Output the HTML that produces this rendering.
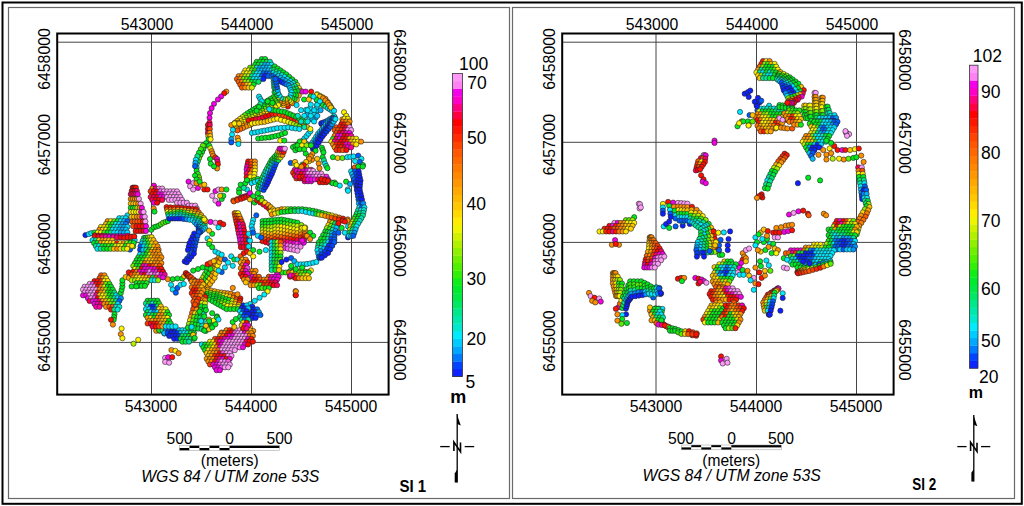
<!DOCTYPE html><html><head><meta charset="utf-8"><style>html,body{margin:0;padding:0;background:#fff;overflow:hidden}svg{display:block;font-family:"Liberation Sans",sans-serif}</style></head><body><svg width="1024" height="506" viewBox="0 0 1024 506"  fill="#000">
<rect width="1024" height="506" fill="#fff"/>
<rect x="2.5" y="2.5" width="1019.3" height="501.3" fill="none" stroke="#000" stroke-width="2"/>
<rect x="8.5" y="7.5" width="501" height="491" fill="none" stroke="#6a6a6a" stroke-width="1.2"/>
<line x1="151.5" y1="34" x2="151.5" y2="395" stroke="#444" stroke-width="1"/>
<line x1="251.5" y1="34" x2="251.5" y2="395" stroke="#444" stroke-width="1"/>
<line x1="351.5" y1="34" x2="351.5" y2="395" stroke="#444" stroke-width="1"/>
<line x1="57.2" y1="42.2" x2="388.6" y2="42.2" stroke="#444" stroke-width="1"/>
<line x1="57.2" y1="142.3" x2="388.6" y2="142.3" stroke="#444" stroke-width="1"/>
<line x1="57.2" y1="242.4" x2="388.6" y2="242.4" stroke="#444" stroke-width="1"/>
<line x1="57.2" y1="342.4" x2="388.6" y2="342.4" stroke="#444" stroke-width="1"/>
<rect x="512.5" y="7.5" width="502" height="491" fill="none" stroke="#6a6a6a" stroke-width="1.2"/>
<line x1="656" y1="34" x2="656" y2="395" stroke="#444" stroke-width="1"/>
<line x1="756.5" y1="34" x2="756.5" y2="395" stroke="#444" stroke-width="1"/>
<line x1="856.5" y1="34" x2="856.5" y2="395" stroke="#444" stroke-width="1"/>
<line x1="562.2" y1="42.2" x2="893.6" y2="42.2" stroke="#444" stroke-width="1"/>
<line x1="562.2" y1="142.3" x2="893.6" y2="142.3" stroke="#444" stroke-width="1"/>
<line x1="562.2" y1="242.4" x2="893.6" y2="242.4" stroke="#444" stroke-width="1"/>
<line x1="562.2" y1="342.4" x2="893.6" y2="342.4" stroke="#444" stroke-width="1"/>
<g clip-path="url(#c1)" stroke="#222" stroke-width="0.6"><circle cx="226.3" cy="91.6" r="2.6" fill="#ff9000"/><circle cx="224.2" cy="93.2" r="2.6" fill="#ff1000"/><circle cx="221.1" cy="96.4" r="2.6" fill="#f600e8"/><circle cx="217.9" cy="99.5" r="2.6" fill="#f600e8"/><circle cx="214.0" cy="103.8" r="2.6" fill="#f600e8"/><circle cx="211.6" cy="108.2" r="2.6" fill="#f600e8"/><circle cx="210.0" cy="113.0" r="2.6" fill="#f600e8"/><circle cx="209.5" cy="117.7" r="2.6" fill="#f600e8"/><circle cx="209.5" cy="122.5" r="2.6" fill="#ff0053"/><circle cx="261.8" cy="59.0" r="2.6" fill="#00ec20"/><circle cx="265.1" cy="59.0" r="2.6" fill="#00ec20"/><circle cx="256.8" cy="61.8" r="2.6" fill="#00ec20"/><circle cx="260.1" cy="61.8" r="2.6" fill="#00ec21"/><circle cx="263.4" cy="61.8" r="2.6" fill="#00ec25"/><circle cx="266.7" cy="61.8" r="2.6" fill="#00ea3d"/><circle cx="270.0" cy="61.8" r="2.6" fill="#00e8a8"/><circle cx="255.2" cy="64.7" r="2.6" fill="#01ec1f"/><circle cx="258.5" cy="64.7" r="2.6" fill="#00ec22"/><circle cx="261.8" cy="64.7" r="2.6" fill="#00e88c"/><circle cx="265.1" cy="64.7" r="2.6" fill="#00afff"/><circle cx="268.4" cy="64.7" r="2.6" fill="#00bcff"/><circle cx="271.7" cy="64.7" r="2.6" fill="#00e9ff"/><circle cx="250.2" cy="67.6" r="2.6" fill="#5cf000"/><circle cx="253.5" cy="67.6" r="2.6" fill="#59f000"/><circle cx="256.8" cy="67.6" r="2.6" fill="#00e8c9"/><circle cx="260.1" cy="67.6" r="2.6" fill="#00aeff"/><circle cx="263.4" cy="67.6" r="2.6" fill="#00bdff"/><circle cx="266.7" cy="67.6" r="2.6" fill="#00afff"/><circle cx="270.0" cy="67.6" r="2.6" fill="#00e0ff"/><circle cx="273.3" cy="67.6" r="2.6" fill="#00e86a"/><circle cx="245.3" cy="70.4" r="2.6" fill="#fef500"/><circle cx="248.6" cy="70.4" r="2.6" fill="#f1f400"/><circle cx="251.9" cy="70.4" r="2.6" fill="#5af000"/><circle cx="255.2" cy="70.4" r="2.6" fill="#2eef09"/><circle cx="258.5" cy="70.4" r="2.6" fill="#00b4ff"/><circle cx="261.8" cy="70.4" r="2.6" fill="#00b1ff"/><circle cx="265.1" cy="70.4" r="2.6" fill="#00b7ff"/><circle cx="268.4" cy="70.4" r="2.6" fill="#00beff"/><circle cx="271.7" cy="70.4" r="2.6" fill="#00eae2"/><circle cx="275.0" cy="70.4" r="2.6" fill="#00eb2e"/><circle cx="243.6" cy="73.3" r="2.6" fill="#ffdd00"/><circle cx="246.9" cy="73.3" r="2.6" fill="#fff500"/><circle cx="250.2" cy="73.3" r="2.6" fill="#e3f300"/><circle cx="253.5" cy="73.3" r="2.6" fill="#00e948"/><circle cx="256.8" cy="73.3" r="2.6" fill="#00ebff"/><circle cx="260.1" cy="73.3" r="2.6" fill="#00e4ff"/><circle cx="263.4" cy="73.3" r="2.6" fill="#0069ff"/><circle cx="266.7" cy="73.3" r="2.6" fill="#0054ff"/><circle cx="270.0" cy="73.3" r="2.6" fill="#007fff"/><circle cx="273.3" cy="73.3" r="2.6" fill="#00aeff"/><circle cx="276.6" cy="73.3" r="2.6" fill="#00c7ff"/><circle cx="238.7" cy="76.1" r="2.6" fill="#ff9000"/><circle cx="242.0" cy="76.1" r="2.6" fill="#ff9100"/><circle cx="245.3" cy="76.1" r="2.6" fill="#96f000"/><circle cx="248.6" cy="76.1" r="2.6" fill="#b5f000"/><circle cx="251.9" cy="76.1" r="2.6" fill="#00e8a6"/><circle cx="255.2" cy="76.1" r="2.6" fill="#00eaff"/><circle cx="258.5" cy="76.1" r="2.6" fill="#00e9ff"/><circle cx="261.8" cy="76.1" r="2.6" fill="#005aff"/><circle cx="265.1" cy="76.1" r="2.6" fill="#0f21ff"/><circle cx="268.4" cy="76.1" r="2.6" fill="#005dff"/><circle cx="271.7" cy="76.1" r="2.6" fill="#0077ff"/><circle cx="275.0" cy="76.1" r="2.6" fill="#00aeff"/><circle cx="237.0" cy="79.0" r="2.6" fill="#ff5900"/><circle cx="240.3" cy="79.0" r="2.6" fill="#ff9300"/><circle cx="243.6" cy="79.0" r="2.6" fill="#6ef000"/><circle cx="246.9" cy="79.0" r="2.6" fill="#5af000"/><circle cx="250.2" cy="79.0" r="2.6" fill="#00ec20"/><circle cx="253.5" cy="79.0" r="2.6" fill="#00eaff"/><circle cx="256.8" cy="79.0" r="2.6" fill="#00eaff"/><circle cx="260.1" cy="79.0" r="2.6" fill="#00c5ff"/><circle cx="263.4" cy="79.0" r="2.6" fill="#0f22ff"/><circle cx="238.7" cy="81.8" r="2.6" fill="#ff6100"/><circle cx="242.0" cy="81.8" r="2.6" fill="#ff8900"/><circle cx="245.3" cy="81.8" r="2.6" fill="#93f000"/><circle cx="248.6" cy="81.8" r="2.6" fill="#91f000"/><circle cx="251.9" cy="81.8" r="2.6" fill="#00ec24"/><circle cx="255.2" cy="81.8" r="2.6" fill="#00e850"/><circle cx="258.5" cy="81.8" r="2.6" fill="#00e862"/><circle cx="240.3" cy="84.7" r="2.6" fill="#ff5700"/><circle cx="243.6" cy="84.7" r="2.6" fill="#ff5700"/><circle cx="246.9" cy="84.7" r="2.6" fill="#ffc000"/><circle cx="250.2" cy="84.7" r="2.6" fill="#f9f500"/><circle cx="253.5" cy="84.7" r="2.6" fill="#00ec20"/><circle cx="242.0" cy="87.6" r="2.6" fill="#ff5700"/><circle cx="245.3" cy="87.6" r="2.6" fill="#ff9400"/><circle cx="248.6" cy="87.6" r="2.6" fill="#ffc300"/><circle cx="251.9" cy="87.6" r="2.6" fill="#c3f000"/><circle cx="274.7" cy="66.5" r="2.6" fill="#00ec20"/><circle cx="274.3" cy="69.6" r="2.6" fill="#00e86b"/><circle cx="273.8" cy="72.6" r="2.6" fill="#00eae6"/><circle cx="273.4" cy="75.6" r="2.6" fill="#005dff"/><circle cx="277.6" cy="68.5" r="2.6" fill="#00ec20"/><circle cx="276.9" cy="71.4" r="2.6" fill="#00e892"/><circle cx="276.2" cy="74.3" r="2.6" fill="#00e9ff"/><circle cx="275.5" cy="77.2" r="2.6" fill="#0046ff"/><circle cx="280.4" cy="70.4" r="2.6" fill="#00ec20"/><circle cx="279.5" cy="73.2" r="2.6" fill="#00e8af"/><circle cx="278.5" cy="76.0" r="2.6" fill="#00d6ff"/><circle cx="277.5" cy="78.9" r="2.6" fill="#053aff"/><circle cx="283.3" cy="72.4" r="2.6" fill="#00ec20"/><circle cx="282.1" cy="75.1" r="2.6" fill="#00e9d4"/><circle cx="280.8" cy="77.8" r="2.6" fill="#00c4ff"/><circle cx="279.6" cy="80.5" r="2.6" fill="#0a2dff"/><circle cx="286.2" cy="74.3" r="2.6" fill="#00ec20"/><circle cx="284.7" cy="76.9" r="2.6" fill="#00e9ff"/><circle cx="283.2" cy="79.5" r="2.6" fill="#00adff"/><circle cx="281.7" cy="82.1" r="2.6" fill="#0f20ff"/><circle cx="289.2" cy="76.8" r="2.6" fill="#00ec20"/><circle cx="287.5" cy="79.0" r="2.6" fill="#00e9ff"/><circle cx="285.9" cy="81.1" r="2.6" fill="#00c4ff"/><circle cx="284.2" cy="83.3" r="2.6" fill="#0242ff"/><circle cx="292.3" cy="79.4" r="2.6" fill="#00ec20"/><circle cx="290.4" cy="81.0" r="2.6" fill="#00e9ff"/><circle cx="288.5" cy="82.7" r="2.6" fill="#00d6ff"/><circle cx="286.6" cy="84.4" r="2.6" fill="#007cff"/><circle cx="295.3" cy="81.9" r="2.6" fill="#00ec20"/><circle cx="293.3" cy="83.1" r="2.6" fill="#00e9ff"/><circle cx="291.2" cy="84.4" r="2.6" fill="#00e9ff"/><circle cx="289.1" cy="85.6" r="2.6" fill="#00adff"/><circle cx="297.1" cy="84.9" r="2.6" fill="#95f000"/><circle cx="294.7" cy="85.9" r="2.6" fill="#00e8a8"/><circle cx="292.4" cy="86.9" r="2.6" fill="#00e8a8"/><circle cx="290.0" cy="87.8" r="2.6" fill="#00c4ff"/><circle cx="298.9" cy="88.0" r="2.6" fill="#ffdc00"/><circle cx="296.2" cy="88.7" r="2.6" fill="#00e858"/><circle cx="293.5" cy="89.4" r="2.6" fill="#00e858"/><circle cx="290.8" cy="90.1" r="2.6" fill="#00d6ff"/><circle cx="300.7" cy="91.0" r="2.6" fill="#ff9000"/><circle cx="297.7" cy="91.4" r="2.6" fill="#00ec20"/><circle cx="294.7" cy="91.9" r="2.6" fill="#00ec20"/><circle cx="291.6" cy="92.3" r="2.6" fill="#00e9ff"/><circle cx="298.8" cy="95.5" r="2.6" fill="#ffaa00"/><circle cx="296.1" cy="95.3" r="2.6" fill="#00ec20"/><circle cx="293.5" cy="95.1" r="2.6" fill="#00ec20"/><circle cx="290.8" cy="94.9" r="2.6" fill="#00e9ff"/><circle cx="296.8" cy="100.0" r="2.6" fill="#ffc300"/><circle cx="294.6" cy="99.2" r="2.6" fill="#00ec20"/><circle cx="292.3" cy="98.3" r="2.6" fill="#00ec20"/><circle cx="290.0" cy="97.5" r="2.6" fill="#00e9ff"/><circle cx="292.4" cy="103.3" r="2.6" fill="#ff7300"/><circle cx="290.8" cy="101.7" r="2.6" fill="#ffe600"/><circle cx="289.3" cy="100.2" r="2.6" fill="#dff200"/><circle cx="287.7" cy="98.6" r="2.6" fill="#43f000"/><circle cx="287.9" cy="106.5" r="2.6" fill="#ff1000"/><circle cx="287.1" cy="104.2" r="2.6" fill="#ff5600"/><circle cx="286.3" cy="102.0" r="2.6" fill="#ff9000"/><circle cx="285.5" cy="99.7" r="2.6" fill="#ffc300"/><circle cx="283.5" cy="105.3" r="2.6" fill="#ffca00"/><circle cx="283.4" cy="103.2" r="2.6" fill="#ff8d00"/><circle cx="283.3" cy="101.0" r="2.6" fill="#ff9000"/><circle cx="283.2" cy="98.9" r="2.6" fill="#43f000"/><circle cx="279.1" cy="104.1" r="2.6" fill="#00ec20"/><circle cx="279.7" cy="102.1" r="2.6" fill="#ffc300"/><circle cx="280.3" cy="100.1" r="2.6" fill="#ff9000"/><circle cx="280.9" cy="98.1" r="2.6" fill="#00e9ff"/><circle cx="276.9" cy="100.3" r="2.6" fill="#00ec20"/><circle cx="277.8" cy="98.7" r="2.6" fill="#adf000"/><circle cx="278.6" cy="97.2" r="2.6" fill="#bdf000"/><circle cx="279.5" cy="95.6" r="2.6" fill="#00e9ff"/><circle cx="274.8" cy="96.5" r="2.6" fill="#00ec20"/><circle cx="276.4" cy="94.8" r="2.6" fill="#00ec20"/><circle cx="278.1" cy="93.1" r="2.6" fill="#00e9ff"/><circle cx="274.5" cy="92.0" r="2.6" fill="#00ec20"/><circle cx="276.0" cy="91.0" r="2.6" fill="#00e884"/><circle cx="277.6" cy="90.1" r="2.6" fill="#00b2ff"/><circle cx="274.2" cy="87.5" r="2.6" fill="#00ec20"/><circle cx="275.6" cy="87.3" r="2.6" fill="#00e9ff"/><circle cx="277.0" cy="87.1" r="2.6" fill="#005dff"/><circle cx="274.0" cy="84.7" r="2.6" fill="#00e858"/><circle cx="275.2" cy="84.5" r="2.6" fill="#00d7ff"/><circle cx="276.5" cy="84.4" r="2.6" fill="#005dff"/><circle cx="273.7" cy="81.8" r="2.6" fill="#00e8a8"/><circle cx="274.8" cy="81.8" r="2.6" fill="#00c6ff"/><circle cx="276.0" cy="81.7" r="2.6" fill="#005dff"/><circle cx="273.5" cy="79.0" r="2.6" fill="#00e9ff"/><circle cx="274.4" cy="79.0" r="2.6" fill="#00b2ff"/><circle cx="275.4" cy="79.0" r="2.6" fill="#005dff"/><circle cx="302.5" cy="91.6" r="2.6" fill="#f600e8"/><circle cx="305.7" cy="91.6" r="2.6" fill="#f600e8"/><circle cx="311.2" cy="91.6" r="2.6" fill="#ff1000"/><circle cx="310.4" cy="96.4" r="2.6" fill="#00ec20"/><circle cx="304.1" cy="99.5" r="2.6" fill="#00ec20"/><circle cx="308.8" cy="99.5" r="2.6" fill="#ffc300"/><circle cx="317.1" cy="94.2" r="2.6" fill="#fff500"/><circle cx="317.1" cy="96.8" r="2.6" fill="#00ec20"/><circle cx="317.1" cy="99.3" r="2.6" fill="#00e9ff"/><circle cx="319.9" cy="95.8" r="2.6" fill="#ffd000"/><circle cx="319.5" cy="98.5" r="2.6" fill="#1eee11"/><circle cx="319.1" cy="101.2" r="2.6" fill="#00e8a8"/><circle cx="322.7" cy="97.3" r="2.6" fill="#ffb000"/><circle cx="321.9" cy="100.2" r="2.6" fill="#3cf002"/><circle cx="321.1" cy="103.1" r="2.6" fill="#00e858"/><circle cx="325.5" cy="98.9" r="2.6" fill="#ff9000"/><circle cx="324.2" cy="101.9" r="2.6" fill="#5af000"/><circle cx="323.0" cy="104.9" r="2.6" fill="#00ec20"/><circle cx="327.7" cy="102.0" r="2.6" fill="#ff9000"/><circle cx="326.6" cy="104.3" r="2.6" fill="#2def0a"/><circle cx="325.5" cy="106.6" r="2.6" fill="#00e884"/><circle cx="330.0" cy="105.1" r="2.6" fill="#ff9000"/><circle cx="329.0" cy="106.7" r="2.6" fill="#00ec20"/><circle cx="328.0" cy="108.2" r="2.6" fill="#00e9ff"/><circle cx="331.5" cy="107.7" r="2.6" fill="#76f000"/><circle cx="330.8" cy="108.6" r="2.6" fill="#00e884"/><circle cx="330.0" cy="109.5" r="2.6" fill="#00e9ff"/><circle cx="333.0" cy="110.3" r="2.6" fill="#00e9ff"/><circle cx="332.5" cy="110.6" r="2.6" fill="#00e9ff"/><circle cx="332.1" cy="110.9" r="2.6" fill="#00e9ff"/><circle cx="317.1" cy="100.3" r="2.6" fill="#00e9ff"/><circle cx="317.1" cy="105.1" r="2.6" fill="#00e9ff"/><circle cx="316.7" cy="108.2" r="2.6" fill="#00e9ff"/><circle cx="316.3" cy="111.4" r="2.6" fill="#00e9ff"/><circle cx="315.6" cy="114.6" r="2.6" fill="#00e9ff"/><circle cx="314.8" cy="117.7" r="2.6" fill="#00e9ff"/><circle cx="306.1" cy="109.8" r="2.6" fill="#00e9ff"/><circle cx="310.0" cy="108.2" r="2.6" fill="#00e9ff"/><circle cx="310.8" cy="113.0" r="2.6" fill="#00e9ff"/><circle cx="306.9" cy="114.6" r="2.6" fill="#00adff"/><circle cx="314.0" cy="114.6" r="2.6" fill="#00e9ff"/><circle cx="315.6" cy="117.7" r="2.6" fill="#00adff"/><circle cx="309.2" cy="119.3" r="2.6" fill="#00e9ff"/><circle cx="312.4" cy="119.3" r="2.6" fill="#00adff"/><circle cx="296.6" cy="105.1" r="2.6" fill="#00e9ff"/><circle cx="298.2" cy="120.9" r="2.6" fill="#ffc300"/><circle cx="301.3" cy="122.5" r="2.6" fill="#00ec20"/><circle cx="321.6" cy="124.1" r="2.6" fill="#0f20ff"/><circle cx="321.3" cy="123.2" r="2.6" fill="#0f20ff"/><circle cx="324.0" cy="123.3" r="2.6" fill="#0f20ff"/><circle cx="323.7" cy="122.3" r="2.6" fill="#053aff"/><circle cx="326.4" cy="122.4" r="2.6" fill="#0f20ff"/><circle cx="326.1" cy="121.4" r="2.6" fill="#005dff"/><circle cx="328.7" cy="120.9" r="2.6" fill="#053aff"/><circle cx="328.3" cy="120.0" r="2.6" fill="#00b2ff"/><circle cx="331.0" cy="119.5" r="2.6" fill="#005dff"/><circle cx="330.5" cy="118.6" r="2.6" fill="#00e9ff"/><circle cx="334.6" cy="117.0" r="2.6" fill="#00e9ff"/><circle cx="334.0" cy="116.2" r="2.6" fill="#00e9ff"/><circle cx="344.0" cy="112.2" r="2.6" fill="#fff500"/><circle cx="345.6" cy="117.7" r="2.6" fill="#fff500"/><circle cx="347.2" cy="120.9" r="2.6" fill="#ffc300"/><circle cx="342.4" cy="119.3" r="2.6" fill="#ff9000"/><circle cx="342.4" cy="122.5" r="2.6" fill="#ff1000"/><circle cx="345.6" cy="124.1" r="2.6" fill="#f600e8"/><circle cx="348.8" cy="123.3" r="2.6" fill="#ff1000"/><circle cx="207.9" cy="125.0" r="2.6" fill="#ff1000"/><circle cx="209.8" cy="125.0" r="2.6" fill="#ff0053"/><circle cx="207.9" cy="129.0" r="2.6" fill="#ff000e"/><circle cx="209.8" cy="129.0" r="2.6" fill="#ff4600"/><circle cx="207.9" cy="132.9" r="2.6" fill="#ff0053"/><circle cx="209.8" cy="132.9" r="2.6" fill="#ff9000"/><circle cx="208.3" cy="136.1" r="2.6" fill="#ffba00"/><circle cx="210.2" cy="136.1" r="2.6" fill="#ffc000"/><circle cx="208.6" cy="139.2" r="2.6" fill="#00ec20"/><circle cx="210.6" cy="139.2" r="2.6" fill="#fff500"/><circle cx="206.1" cy="143.2" r="2.6" fill="#00ec20"/><circle cx="204.7" cy="146.1" r="2.6" fill="#00ec20"/><circle cx="203.4" cy="149.0" r="2.6" fill="#00ec20"/><circle cx="202.1" cy="151.9" r="2.6" fill="#00ec20"/><circle cx="200.5" cy="155.0" r="2.6" fill="#2def0a"/><circle cx="199.0" cy="158.2" r="2.6" fill="#5af000"/><circle cx="197.8" cy="161.4" r="2.6" fill="#00e84e"/><circle cx="196.6" cy="164.5" r="2.6" fill="#00e9ff"/><circle cx="196.6" cy="167.7" r="2.6" fill="#00e884"/><circle cx="196.6" cy="170.8" r="2.6" fill="#00ec20"/><circle cx="197.8" cy="174.0" r="2.6" fill="#2def0a"/><circle cx="199.0" cy="177.2" r="2.6" fill="#5af000"/><circle cx="199.3" cy="179.9" r="2.6" fill="#adf000"/><circle cx="202.9" cy="145.6" r="2.6" fill="#5af000"/><circle cx="200.9" cy="149.1" r="2.6" fill="#2def0a"/><circle cx="199.0" cy="152.7" r="2.6" fill="#00ec20"/><circle cx="197.4" cy="156.2" r="2.6" fill="#00e884"/><circle cx="195.8" cy="159.8" r="2.6" fill="#00e9ff"/><circle cx="195.4" cy="162.9" r="2.6" fill="#00b2ff"/><circle cx="195.0" cy="166.1" r="2.6" fill="#005dff"/><circle cx="195.0" cy="175.6" r="2.6" fill="#00ec20"/><circle cx="196.6" cy="179.5" r="2.6" fill="#00ec20"/><circle cx="209.2" cy="145.6" r="2.6" fill="#00ec20"/><circle cx="210.4" cy="148.3" r="2.6" fill="#dff200"/><circle cx="211.6" cy="151.1" r="2.6" fill="#ff9000"/><circle cx="212.4" cy="153.5" r="2.6" fill="#ff9000"/><circle cx="213.2" cy="155.8" r="2.6" fill="#ff9000"/><circle cx="215.2" cy="157.4" r="2.6" fill="#ff2700"/><circle cx="217.1" cy="159.0" r="2.6" fill="#f600e8"/><circle cx="217.5" cy="161.6" r="2.6" fill="#ff0066"/><circle cx="217.9" cy="164.2" r="2.6" fill="#ff1000"/><circle cx="217.1" cy="168.5" r="2.6" fill="#ff9000"/><circle cx="210.0" cy="159.0" r="2.6" fill="#00ec20"/><circle cx="210.8" cy="163.7" r="2.6" fill="#00ec20"/><circle cx="214.0" cy="166.4" r="2.6" fill="#00ec20"/><circle cx="248.2" cy="161.4" r="2.6" fill="#ff1000"/><circle cx="251.5" cy="161.4" r="2.6" fill="#ff5a00"/><circle cx="254.9" cy="161.4" r="2.6" fill="#ff9000"/><circle cx="247.6" cy="164.0" r="2.6" fill="#ff0034"/><circle cx="251.3" cy="164.3" r="2.6" fill="#ff4300"/><circle cx="254.9" cy="164.5" r="2.6" fill="#ffb000"/><circle cx="247.1" cy="166.7" r="2.6" fill="#ff009a"/><circle cx="251.0" cy="167.2" r="2.6" fill="#ff2800"/><circle cx="254.9" cy="167.6" r="2.6" fill="#ffd000"/><circle cx="246.6" cy="169.4" r="2.6" fill="#f600e8"/><circle cx="249.3" cy="169.8" r="2.6" fill="#ff0034"/><circle cx="252.1" cy="170.3" r="2.6" fill="#ff6700"/><circle cx="254.9" cy="170.7" r="2.6" fill="#fff500"/><circle cx="246.6" cy="173.3" r="2.6" fill="#ff0066"/><circle cx="250.5" cy="173.6" r="2.6" fill="#ff8a00"/><circle cx="254.5" cy="173.9" r="2.6" fill="#fff500"/><circle cx="246.6" cy="177.2" r="2.6" fill="#ff1000"/><circle cx="250.3" cy="177.2" r="2.6" fill="#fff500"/><circle cx="254.1" cy="177.2" r="2.6" fill="#fff500"/><circle cx="250.9" cy="181.0" r="2.6" fill="#3cf002"/><circle cx="251.6" cy="183.1" r="2.6" fill="#00e9ff"/><circle cx="254.3" cy="180.0" r="2.6" fill="#1eee11"/><circle cx="254.8" cy="182.0" r="2.6" fill="#00e9ff"/><circle cx="257.6" cy="178.9" r="2.6" fill="#00ec20"/><circle cx="258.0" cy="180.9" r="2.6" fill="#00e9ff"/><circle cx="258.0" cy="187.6" r="2.6" fill="#00ec20"/><circle cx="259.9" cy="188.4" r="2.6" fill="#00e8be"/><circle cx="261.8" cy="189.2" r="2.6" fill="#00aaff"/><circle cx="263.6" cy="190.0" r="2.6" fill="#0242ff"/><circle cx="259.2" cy="184.9" r="2.6" fill="#00ec20"/><circle cx="261.2" cy="185.7" r="2.6" fill="#00eae0"/><circle cx="263.2" cy="186.5" r="2.6" fill="#0089ff"/><circle cx="265.2" cy="187.3" r="2.6" fill="#0831ff"/><circle cx="260.4" cy="182.3" r="2.6" fill="#00ec20"/><circle cx="262.6" cy="183.1" r="2.6" fill="#00e9ff"/><circle cx="264.7" cy="183.9" r="2.6" fill="#005dff"/><circle cx="266.8" cy="184.7" r="2.6" fill="#0f20ff"/><circle cx="261.7" cy="179.5" r="2.6" fill="#00ea38"/><circle cx="263.8" cy="180.3" r="2.6" fill="#00e9ff"/><circle cx="265.9" cy="181.1" r="2.6" fill="#005dff"/><circle cx="268.1" cy="182.0" r="2.6" fill="#0f20ff"/><circle cx="263.0" cy="176.7" r="2.6" fill="#00e850"/><circle cx="265.1" cy="177.6" r="2.6" fill="#00e9ff"/><circle cx="267.2" cy="178.4" r="2.6" fill="#005dff"/><circle cx="269.3" cy="179.2" r="2.6" fill="#0f20ff"/><circle cx="264.2" cy="174.0" r="2.6" fill="#00e878"/><circle cx="266.4" cy="174.8" r="2.6" fill="#00e9ff"/><circle cx="268.5" cy="175.6" r="2.6" fill="#005dff"/><circle cx="270.6" cy="176.4" r="2.6" fill="#0f20ff"/><circle cx="265.5" cy="171.2" r="2.6" fill="#00e89c"/><circle cx="267.6" cy="172.0" r="2.6" fill="#00e9ff"/><circle cx="269.7" cy="172.8" r="2.6" fill="#005dff"/><circle cx="271.9" cy="173.7" r="2.6" fill="#0f20ff"/><circle cx="267.0" cy="168.5" r="2.6" fill="#00e878"/><circle cx="269.0" cy="169.3" r="2.6" fill="#00eae4"/><circle cx="271.0" cy="170.1" r="2.6" fill="#008eff"/><circle cx="273.0" cy="170.9" r="2.6" fill="#0a2dff"/><circle cx="268.5" cy="165.7" r="2.6" fill="#00e850"/><circle cx="270.4" cy="166.5" r="2.6" fill="#00e8c5"/><circle cx="272.2" cy="167.3" r="2.6" fill="#00b2ff"/><circle cx="274.1" cy="168.1" r="2.6" fill="#053aff"/><circle cx="270.0" cy="163.0" r="2.6" fill="#00ea38"/><circle cx="271.7" cy="163.7" r="2.6" fill="#00e8af"/><circle cx="273.5" cy="164.5" r="2.6" fill="#00cfff"/><circle cx="275.2" cy="165.3" r="2.6" fill="#0046ff"/><circle cx="271.5" cy="160.2" r="2.6" fill="#00ec20"/><circle cx="273.1" cy="161.0" r="2.6" fill="#00e89c"/><circle cx="274.7" cy="161.7" r="2.6" fill="#00e9ff"/><circle cx="276.3" cy="162.5" r="2.6" fill="#005dff"/><circle cx="273.3" cy="158.3" r="2.6" fill="#00ec20"/><circle cx="275.0" cy="158.8" r="2.6" fill="#00e94a"/><circle cx="276.7" cy="159.4" r="2.6" fill="#00ea33"/><circle cx="278.4" cy="160.0" r="2.6" fill="#00e850"/><circle cx="275.1" cy="156.3" r="2.6" fill="#00ec20"/><circle cx="276.9" cy="156.7" r="2.6" fill="#11ed17"/><circle cx="278.7" cy="157.1" r="2.6" fill="#a0f000"/><circle cx="280.5" cy="157.5" r="2.6" fill="#c0f000"/><circle cx="276.9" cy="154.4" r="2.6" fill="#00ec20"/><circle cx="278.8" cy="154.5" r="2.6" fill="#5af000"/><circle cx="280.7" cy="154.7" r="2.6" fill="#ffc300"/><circle cx="282.5" cy="154.9" r="2.6" fill="#ff9000"/><circle cx="278.2" cy="151.5" r="2.6" fill="#ffa500"/><circle cx="280.0" cy="151.6" r="2.6" fill="#ff9600"/><circle cx="281.9" cy="151.7" r="2.6" fill="#ff5000"/><circle cx="283.7" cy="151.8" r="2.6" fill="#ff1000"/><circle cx="279.5" cy="148.7" r="2.6" fill="#f600e8"/><circle cx="281.3" cy="148.7" r="2.6" fill="#ff00c6"/><circle cx="283.1" cy="148.7" r="2.6" fill="#f800e0"/><circle cx="284.9" cy="148.7" r="2.6" fill="#ff9cf9"/><circle cx="293.0" cy="147.1" r="2.6" fill="#00ec20"/><circle cx="295.4" cy="145.9" r="2.6" fill="#00ec20"/><circle cx="297.8" cy="144.8" r="2.6" fill="#00ec20"/><circle cx="300.1" cy="142.8" r="2.6" fill="#00e884"/><circle cx="302.5" cy="140.8" r="2.6" fill="#00e9ff"/><circle cx="304.5" cy="138.4" r="2.6" fill="#00e9ff"/><circle cx="306.5" cy="136.1" r="2.6" fill="#00e9ff"/><circle cx="308.4" cy="133.7" r="2.6" fill="#00e9ff"/><circle cx="310.4" cy="131.3" r="2.6" fill="#00e9ff"/><circle cx="295.4" cy="150.3" r="2.6" fill="#00ec20"/><circle cx="297.8" cy="148.7" r="2.6" fill="#00ec20"/><circle cx="300.1" cy="147.1" r="2.6" fill="#00ec20"/><circle cx="302.9" cy="145.2" r="2.6" fill="#00e884"/><circle cx="305.7" cy="143.2" r="2.6" fill="#00e9ff"/><circle cx="312.0" cy="145.6" r="2.6" fill="#005dff"/><circle cx="312.8" cy="148.7" r="2.6" fill="#0f20ff"/><circle cx="305.7" cy="153.5" r="2.6" fill="#00ec20"/><circle cx="308.8" cy="156.6" r="2.6" fill="#5af000"/><circle cx="312.0" cy="159.8" r="2.6" fill="#ff9000"/><circle cx="308.8" cy="161.4" r="2.6" fill="#ffc300"/><circle cx="302.5" cy="164.5" r="2.6" fill="#00ec20"/><circle cx="290.7" cy="162.9" r="2.6" fill="#005dff"/><circle cx="294.6" cy="163.7" r="2.6" fill="#fff500"/><circle cx="299.7" cy="167.0" r="2.6" fill="#f800e2"/><circle cx="303.0" cy="167.0" r="2.6" fill="#f600e7"/><circle cx="306.3" cy="167.0" r="2.6" fill="#f4f400"/><circle cx="294.7" cy="169.8" r="2.6" fill="#ff0097"/><circle cx="298.0" cy="169.8" r="2.6" fill="#f700e4"/><circle cx="301.3" cy="169.8" r="2.6" fill="#f700e2"/><circle cx="304.6" cy="169.8" r="2.6" fill="#fc00d1"/><circle cx="307.9" cy="169.8" r="2.6" fill="#ff96f8"/><circle cx="311.2" cy="169.8" r="2.6" fill="#ff006a"/><circle cx="293.1" cy="172.7" r="2.6" fill="#ff2800"/><circle cx="296.4" cy="172.7" r="2.6" fill="#ff003b"/><circle cx="299.7" cy="172.7" r="2.6" fill="#ff00a3"/><circle cx="303.0" cy="172.7" r="2.6" fill="#fe00cb"/><circle cx="306.3" cy="172.7" r="2.6" fill="#fb4af1"/><circle cx="309.6" cy="172.7" r="2.6" fill="#ff98f8"/><circle cx="312.9" cy="172.7" r="2.6" fill="#ff9cf9"/><circle cx="294.7" cy="175.5" r="2.6" fill="#ff2c00"/><circle cx="298.0" cy="175.5" r="2.6" fill="#ff0021"/><circle cx="301.3" cy="175.5" r="2.6" fill="#ff009c"/><circle cx="304.6" cy="175.5" r="2.6" fill="#f600e7"/><circle cx="307.9" cy="175.5" r="2.6" fill="#f505eb"/><circle cx="311.2" cy="175.5" r="2.6" fill="#ff94f8"/><circle cx="296.4" cy="178.4" r="2.6" fill="#ff4300"/><circle cx="299.7" cy="178.4" r="2.6" fill="#ff0f00"/><circle cx="303.0" cy="178.4" r="2.6" fill="#ff0091"/><circle cx="306.3" cy="178.4" r="2.6" fill="#ff00bc"/><circle cx="309.6" cy="178.4" r="2.6" fill="#ff9bf9"/><circle cx="312.9" cy="178.4" r="2.6" fill="#ff93f7"/><circle cx="304.6" cy="181.3" r="2.6" fill="#ff00a4"/><circle cx="307.9" cy="181.3" r="2.6" fill="#fe00cc"/><circle cx="311.2" cy="181.3" r="2.6" fill="#f600e9"/><circle cx="310.8" cy="145.2" r="2.6" fill="#00e9ff"/><circle cx="312.1" cy="146.3" r="2.6" fill="#009aff"/><circle cx="313.5" cy="147.5" r="2.6" fill="#0242ff"/><circle cx="314.8" cy="148.6" r="2.6" fill="#0f20ff"/><circle cx="312.6" cy="142.4" r="2.6" fill="#00e9ff"/><circle cx="314.0" cy="143.4" r="2.6" fill="#008eff"/><circle cx="315.4" cy="144.5" r="2.6" fill="#053aff"/><circle cx="316.7" cy="145.5" r="2.6" fill="#0f20ff"/><circle cx="314.4" cy="139.5" r="2.6" fill="#00e9ff"/><circle cx="315.8" cy="140.5" r="2.6" fill="#007eff"/><circle cx="317.3" cy="141.4" r="2.6" fill="#0831ff"/><circle cx="318.7" cy="142.4" r="2.6" fill="#0f20ff"/><circle cx="316.2" cy="136.7" r="2.6" fill="#00e9ff"/><circle cx="317.7" cy="137.6" r="2.6" fill="#006eff"/><circle cx="319.2" cy="138.4" r="2.6" fill="#0c29ff"/><circle cx="320.6" cy="139.3" r="2.6" fill="#0f20ff"/><circle cx="318.0" cy="133.9" r="2.6" fill="#00e9ff"/><circle cx="319.5" cy="134.7" r="2.6" fill="#005dff"/><circle cx="321.1" cy="135.4" r="2.6" fill="#0f20ff"/><circle cx="322.6" cy="136.2" r="2.6" fill="#0f20ff"/><circle cx="320.0" cy="131.5" r="2.6" fill="#00e9ff"/><circle cx="321.5" cy="132.3" r="2.6" fill="#0046ff"/><circle cx="323.0" cy="133.0" r="2.6" fill="#0f20ff"/><circle cx="324.5" cy="133.8" r="2.6" fill="#0a2dff"/><circle cx="322.0" cy="129.2" r="2.6" fill="#00e9ff"/><circle cx="323.5" cy="129.9" r="2.6" fill="#053aff"/><circle cx="325.0" cy="130.7" r="2.6" fill="#0f20ff"/><circle cx="326.5" cy="131.4" r="2.6" fill="#053aff"/><circle cx="324.0" cy="126.8" r="2.6" fill="#00e9ff"/><circle cx="325.5" cy="127.5" r="2.6" fill="#0a2dff"/><circle cx="327.0" cy="128.3" r="2.6" fill="#0f20ff"/><circle cx="328.5" cy="129.1" r="2.6" fill="#0046ff"/><circle cx="325.9" cy="124.4" r="2.6" fill="#00e9ff"/><circle cx="327.4" cy="125.2" r="2.6" fill="#0f20ff"/><circle cx="329.0" cy="125.9" r="2.6" fill="#0f20ff"/><circle cx="330.5" cy="126.7" r="2.6" fill="#005dff"/><circle cx="328.2" cy="122.2" r="2.6" fill="#00c6ff"/><circle cx="329.5" cy="122.9" r="2.6" fill="#0831ff"/><circle cx="330.8" cy="123.5" r="2.6" fill="#043dff"/><circle cx="332.2" cy="124.2" r="2.6" fill="#009aff"/><circle cx="330.4" cy="120.0" r="2.6" fill="#009aff"/><circle cx="331.5" cy="120.5" r="2.6" fill="#0242ff"/><circle cx="332.7" cy="121.1" r="2.6" fill="#006aff"/><circle cx="333.8" cy="121.6" r="2.6" fill="#00c6ff"/><circle cx="332.6" cy="117.8" r="2.6" fill="#005dff"/><circle cx="333.6" cy="118.2" r="2.6" fill="#005dff"/><circle cx="334.5" cy="118.7" r="2.6" fill="#009aff"/><circle cx="335.5" cy="119.1" r="2.6" fill="#00e9ff"/><circle cx="346.3" cy="115.8" r="2.6" fill="#fff500"/><circle cx="344.6" cy="118.7" r="2.6" fill="#fff500"/><circle cx="347.9" cy="118.7" r="2.6" fill="#ffe400"/><circle cx="343.0" cy="121.5" r="2.6" fill="#ff6e00"/><circle cx="346.3" cy="121.5" r="2.6" fill="#ff9200"/><circle cx="349.6" cy="121.5" r="2.6" fill="#ff9000"/><circle cx="341.3" cy="124.4" r="2.6" fill="#ff1000"/><circle cx="344.6" cy="124.4" r="2.6" fill="#ff1f00"/><circle cx="347.9" cy="124.4" r="2.6" fill="#ff8c00"/><circle cx="336.4" cy="127.3" r="2.6" fill="#ff5500"/><circle cx="339.7" cy="127.3" r="2.6" fill="#ff2000"/><circle cx="343.0" cy="127.3" r="2.6" fill="#ff1000"/><circle cx="346.3" cy="127.3" r="2.6" fill="#ff0030"/><circle cx="349.6" cy="127.3" r="2.6" fill="#ff9af8"/><circle cx="334.7" cy="130.1" r="2.6" fill="#ff5600"/><circle cx="338.0" cy="130.1" r="2.6" fill="#ff5600"/><circle cx="341.3" cy="130.1" r="2.6" fill="#ff2d00"/><circle cx="344.6" cy="130.1" r="2.6" fill="#ff0033"/><circle cx="347.9" cy="130.1" r="2.6" fill="#ff92f7"/><circle cx="351.2" cy="130.1" r="2.6" fill="#ff99f8"/><circle cx="336.4" cy="133.0" r="2.6" fill="#ff4e00"/><circle cx="339.7" cy="133.0" r="2.6" fill="#ff0015"/><circle cx="343.0" cy="133.0" r="2.6" fill="#ff005a"/><circle cx="346.3" cy="133.0" r="2.6" fill="#ff00c0"/><circle cx="349.6" cy="133.0" r="2.6" fill="#f600e8"/><circle cx="334.7" cy="135.8" r="2.6" fill="#ff7f00"/><circle cx="338.0" cy="135.8" r="2.6" fill="#f600e6"/><circle cx="341.3" cy="135.8" r="2.6" fill="#f700e4"/><circle cx="344.6" cy="135.8" r="2.6" fill="#ff0001"/><circle cx="347.9" cy="135.8" r="2.6" fill="#ff003c"/><circle cx="351.2" cy="135.8" r="2.6" fill="#ff00b1"/><circle cx="333.1" cy="138.7" r="2.6" fill="#3bf002"/><circle cx="336.4" cy="138.7" r="2.6" fill="#ff0052"/><circle cx="339.7" cy="138.7" r="2.6" fill="#f700e4"/><circle cx="343.0" cy="138.7" r="2.6" fill="#ff0500"/><circle cx="346.3" cy="138.7" r="2.6" fill="#ff1000"/><circle cx="349.6" cy="138.7" r="2.6" fill="#ffae00"/><circle cx="352.9" cy="138.7" r="2.6" fill="#ffc300"/><circle cx="356.2" cy="138.7" r="2.6" fill="#fff300"/><circle cx="331.4" cy="141.6" r="2.6" fill="#e7f300"/><circle cx="334.7" cy="141.6" r="2.6" fill="#ff00a4"/><circle cx="338.0" cy="141.6" r="2.6" fill="#ff0064"/><circle cx="341.3" cy="141.6" r="2.6" fill="#ff0011"/><circle cx="344.6" cy="141.6" r="2.6" fill="#ff0f00"/><circle cx="347.9" cy="141.6" r="2.6" fill="#ff2000"/><circle cx="351.2" cy="141.6" r="2.6" fill="#ffc200"/><circle cx="354.5" cy="141.6" r="2.6" fill="#ffe900"/><circle cx="357.8" cy="141.6" r="2.6" fill="#fff400"/><circle cx="361.1" cy="141.6" r="2.6" fill="#ff9000"/><circle cx="333.1" cy="144.4" r="2.6" fill="#ff8a00"/><circle cx="336.4" cy="144.4" r="2.6" fill="#ff2500"/><circle cx="339.7" cy="144.4" r="2.6" fill="#ff1400"/><circle cx="343.0" cy="144.4" r="2.6" fill="#ff0100"/><circle cx="346.3" cy="144.4" r="2.6" fill="#f700e3"/><circle cx="349.6" cy="144.4" r="2.6" fill="#ff00b6"/><circle cx="352.9" cy="144.4" r="2.6" fill="#ffa100"/><circle cx="356.2" cy="144.4" r="2.6" fill="#ffe600"/><circle cx="334.7" cy="147.3" r="2.6" fill="#ff8c00"/><circle cx="338.0" cy="147.3" r="2.6" fill="#ff1000"/><circle cx="341.3" cy="147.3" r="2.6" fill="#ff2c00"/><circle cx="344.6" cy="147.3" r="2.6" fill="#ff001e"/><circle cx="347.9" cy="147.3" r="2.6" fill="#f600e7"/><circle cx="351.2" cy="147.3" r="2.6" fill="#ff009c"/><circle cx="336.4" cy="150.1" r="2.6" fill="#ff2a00"/><circle cx="339.7" cy="150.1" r="2.6" fill="#ff2600"/><circle cx="343.0" cy="150.1" r="2.6" fill="#ff5600"/><circle cx="346.3" cy="150.1" r="2.6" fill="#ff0b00"/><circle cx="332.9" cy="157.2" r="2.6" fill="#00ec20"/><circle cx="337.7" cy="158.0" r="2.6" fill="#ffc300"/><circle cx="342.4" cy="158.0" r="2.6" fill="#5af000"/><circle cx="347.2" cy="157.2" r="2.6" fill="#00e9ff"/><circle cx="350.3" cy="156.8" r="2.6" fill="#00e9ff"/><circle cx="353.5" cy="156.4" r="2.6" fill="#00e9ff"/><circle cx="358.2" cy="155.6" r="2.6" fill="#005dff"/><circle cx="361.4" cy="158.8" r="2.6" fill="#00e9ff"/><circle cx="359.8" cy="161.9" r="2.6" fill="#005dff"/><circle cx="355.1" cy="161.1" r="2.6" fill="#00e9ff"/><circle cx="363.0" cy="165.1" r="2.6" fill="#00ec20"/><circle cx="358.2" cy="166.7" r="2.6" fill="#ff9000"/><circle cx="355.1" cy="168.2" r="2.6" fill="#ff1000"/><circle cx="353.5" cy="171.4" r="2.6" fill="#ff5600"/><circle cx="356.7" cy="171.4" r="2.6" fill="#ff0053"/><circle cx="321.9" cy="147.7" r="2.6" fill="#00ec20"/><circle cx="322.7" cy="150.1" r="2.6" fill="#00ec20"/><circle cx="323.5" cy="152.4" r="2.6" fill="#00ec20"/><circle cx="322.7" cy="157.2" r="2.6" fill="#00ec20"/><circle cx="323.9" cy="160.3" r="2.6" fill="#00e884"/><circle cx="325.0" cy="163.5" r="2.6" fill="#00e9ff"/><circle cx="326.2" cy="165.9" r="2.6" fill="#00e884"/><circle cx="327.4" cy="168.2" r="2.6" fill="#00ec20"/><circle cx="318.7" cy="163.5" r="2.6" fill="#ff9000"/><circle cx="319.5" cy="168.2" r="2.6" fill="#ff9000"/><circle cx="317.1" cy="158.8" r="2.6" fill="#ffc300"/><circle cx="298.3" cy="168.0" r="2.6" fill="#f600e7"/><circle cx="301.6" cy="168.0" r="2.6" fill="#f600e6"/><circle cx="296.6" cy="170.9" r="2.6" fill="#ff00b4"/><circle cx="299.9" cy="170.9" r="2.6" fill="#fb00d6"/><circle cx="303.2" cy="170.9" r="2.6" fill="#f600e7"/><circle cx="306.6" cy="170.9" r="2.6" fill="#f500e9"/><circle cx="309.9" cy="170.9" r="2.6" fill="#ff9bf9"/><circle cx="313.2" cy="170.9" r="2.6" fill="#ff9bf9"/><circle cx="298.3" cy="173.7" r="2.6" fill="#ff009d"/><circle cx="301.6" cy="173.7" r="2.6" fill="#ff0a00"/><circle cx="304.9" cy="173.7" r="2.6" fill="#ff00a2"/><circle cx="308.2" cy="173.7" r="2.6" fill="#ff98f8"/><circle cx="311.5" cy="173.7" r="2.6" fill="#ff9cf9"/><circle cx="314.8" cy="173.7" r="2.6" fill="#ff9bf9"/><circle cx="318.1" cy="173.7" r="2.6" fill="#ff9cf9"/><circle cx="321.4" cy="173.7" r="2.6" fill="#ff99f8"/><circle cx="296.6" cy="176.6" r="2.6" fill="#ff0076"/><circle cx="299.9" cy="176.6" r="2.6" fill="#ff1000"/><circle cx="303.2" cy="176.6" r="2.6" fill="#ff0f00"/><circle cx="306.6" cy="176.6" r="2.6" fill="#ff00c7"/><circle cx="309.9" cy="176.6" r="2.6" fill="#f92fef"/><circle cx="313.2" cy="176.6" r="2.6" fill="#fd6af3"/><circle cx="316.5" cy="176.6" r="2.6" fill="#ff9bf9"/><circle cx="319.8" cy="176.6" r="2.6" fill="#ff8cf6"/><circle cx="323.1" cy="176.6" r="2.6" fill="#ff9cf9"/><circle cx="326.4" cy="176.6" r="2.6" fill="#f825ee"/><circle cx="304.9" cy="179.4" r="2.6" fill="#ff003a"/><circle cx="308.2" cy="179.4" r="2.6" fill="#f600e7"/><circle cx="311.5" cy="179.4" r="2.6" fill="#f600e8"/><circle cx="314.8" cy="179.4" r="2.6" fill="#f714ed"/><circle cx="318.1" cy="179.4" r="2.6" fill="#ff0069"/><circle cx="321.4" cy="179.4" r="2.6" fill="#ff0e00"/><circle cx="324.7" cy="179.4" r="2.6" fill="#ff008e"/><circle cx="328.0" cy="179.4" r="2.6" fill="#f700e4"/><circle cx="319.8" cy="182.3" r="2.6" fill="#ff0e00"/><circle cx="323.1" cy="182.3" r="2.6" fill="#ff0f00"/><circle cx="326.4" cy="182.3" r="2.6" fill="#ff0900"/><circle cx="315.6" cy="150.8" r="2.6" fill="#00ec20"/><circle cx="312.4" cy="154.0" r="2.6" fill="#ff9000"/><circle cx="310.8" cy="156.4" r="2.6" fill="#ff9000"/><circle cx="309.2" cy="158.8" r="2.6" fill="#ff9000"/><circle cx="306.1" cy="161.9" r="2.6" fill="#ffc300"/><circle cx="303.7" cy="165.1" r="2.6" fill="#ff1000"/><circle cx="301.3" cy="166.7" r="2.6" fill="#ff9000"/><circle cx="295.0" cy="161.9" r="2.6" fill="#ffc300"/><circle cx="296.6" cy="165.1" r="2.6" fill="#fff500"/><circle cx="331.4" cy="182.5" r="2.6" fill="#00ec20"/><circle cx="334.5" cy="182.5" r="2.6" fill="#00ec20"/><circle cx="273.0" cy="97.4" r="2.6" fill="#00ec20"/><circle cx="274.3" cy="99.4" r="2.6" fill="#43f000"/><circle cx="275.6" cy="101.3" r="2.6" fill="#2def0a"/><circle cx="276.9" cy="103.3" r="2.6" fill="#40f000"/><circle cx="278.2" cy="105.2" r="2.6" fill="#fff500"/><circle cx="270.4" cy="99.0" r="2.6" fill="#00ec20"/><circle cx="271.7" cy="101.1" r="2.6" fill="#36ef05"/><circle cx="272.9" cy="103.2" r="2.6" fill="#36ef05"/><circle cx="274.2" cy="105.3" r="2.6" fill="#78f000"/><circle cx="275.4" cy="107.4" r="2.6" fill="#fff500"/><circle cx="267.8" cy="100.6" r="2.6" fill="#00ec20"/><circle cx="269.0" cy="102.9" r="2.6" fill="#28ef0c"/><circle cx="270.2" cy="105.1" r="2.6" fill="#3ff001"/><circle cx="271.4" cy="107.4" r="2.6" fill="#b1f000"/><circle cx="272.6" cy="109.6" r="2.6" fill="#fff500"/><circle cx="265.3" cy="102.2" r="2.6" fill="#00ec20"/><circle cx="266.4" cy="104.6" r="2.6" fill="#1bee13"/><circle cx="267.5" cy="107.0" r="2.6" fill="#48f000"/><circle cx="268.7" cy="109.4" r="2.6" fill="#e8f300"/><circle cx="269.8" cy="111.8" r="2.6" fill="#fff500"/><circle cx="262.7" cy="103.8" r="2.6" fill="#00ec20"/><circle cx="263.8" cy="106.4" r="2.6" fill="#0ded19"/><circle cx="264.8" cy="108.9" r="2.6" fill="#51f000"/><circle cx="265.9" cy="111.5" r="2.6" fill="#ffe200"/><circle cx="267.0" cy="114.0" r="2.6" fill="#fff500"/><circle cx="260.1" cy="105.4" r="2.6" fill="#00ec20"/><circle cx="261.1" cy="108.1" r="2.6" fill="#00ec20"/><circle cx="262.2" cy="110.8" r="2.6" fill="#5af000"/><circle cx="263.2" cy="113.5" r="2.6" fill="#ffc300"/><circle cx="264.2" cy="116.2" r="2.6" fill="#fff500"/><circle cx="257.6" cy="107.0" r="2.6" fill="#00ec20"/><circle cx="258.6" cy="109.7" r="2.6" fill="#12ed17"/><circle cx="259.6" cy="112.4" r="2.6" fill="#7bf000"/><circle cx="260.6" cy="115.1" r="2.6" fill="#ffb900"/><circle cx="261.6" cy="117.8" r="2.6" fill="#ffeb00"/><circle cx="255.1" cy="108.6" r="2.6" fill="#00ec20"/><circle cx="256.1" cy="111.3" r="2.6" fill="#24ee0e"/><circle cx="257.1" cy="114.0" r="2.6" fill="#9cf000"/><circle cx="258.1" cy="116.7" r="2.6" fill="#ffaf00"/><circle cx="259.1" cy="119.4" r="2.6" fill="#ffe000"/><circle cx="252.5" cy="110.2" r="2.6" fill="#00ec20"/><circle cx="253.6" cy="112.9" r="2.6" fill="#36ef05"/><circle cx="254.6" cy="115.6" r="2.6" fill="#bdf000"/><circle cx="255.6" cy="118.2" r="2.6" fill="#ffa400"/><circle cx="256.6" cy="120.9" r="2.6" fill="#ffd600"/><circle cx="250.0" cy="111.7" r="2.6" fill="#00ec20"/><circle cx="251.0" cy="114.4" r="2.6" fill="#48f000"/><circle cx="252.0" cy="117.1" r="2.6" fill="#def200"/><circle cx="253.0" cy="119.8" r="2.6" fill="#ff9a00"/><circle cx="254.1" cy="122.5" r="2.6" fill="#ffcc00"/><circle cx="247.5" cy="113.3" r="2.6" fill="#00ec20"/><circle cx="248.5" cy="116.0" r="2.6" fill="#5af000"/><circle cx="249.5" cy="118.7" r="2.6" fill="#fff500"/><circle cx="250.5" cy="121.4" r="2.6" fill="#ff9000"/><circle cx="251.5" cy="124.1" r="2.6" fill="#ffc300"/><circle cx="244.9" cy="115.2" r="2.6" fill="#5af000"/><circle cx="245.9" cy="117.8" r="2.6" fill="#8ef000"/><circle cx="246.8" cy="120.3" r="2.6" fill="#fff500"/><circle cx="247.8" cy="122.8" r="2.6" fill="#ff9400"/><circle cx="248.7" cy="125.4" r="2.6" fill="#ffad00"/><circle cx="242.4" cy="117.1" r="2.6" fill="#b3f000"/><circle cx="243.3" cy="119.5" r="2.6" fill="#c3f000"/><circle cx="244.1" cy="121.9" r="2.6" fill="#fff500"/><circle cx="245.0" cy="124.3" r="2.6" fill="#ff9800"/><circle cx="245.8" cy="126.6" r="2.6" fill="#ff9800"/><circle cx="239.9" cy="119.0" r="2.6" fill="#ffee00"/><circle cx="240.7" cy="121.2" r="2.6" fill="#f6f400"/><circle cx="241.4" cy="123.5" r="2.6" fill="#fff500"/><circle cx="242.2" cy="125.7" r="2.6" fill="#ff9c00"/><circle cx="243.0" cy="127.9" r="2.6" fill="#ff8200"/><circle cx="237.3" cy="120.9" r="2.6" fill="#ffbd00"/><circle cx="238.0" cy="123.0" r="2.6" fill="#ffdc00"/><circle cx="238.8" cy="125.0" r="2.6" fill="#fff500"/><circle cx="239.5" cy="127.1" r="2.6" fill="#ff9f00"/><circle cx="240.2" cy="129.2" r="2.6" fill="#ff6c00"/><circle cx="234.8" cy="122.8" r="2.6" fill="#ff9000"/><circle cx="235.4" cy="124.7" r="2.6" fill="#ffc000"/><circle cx="236.1" cy="126.6" r="2.6" fill="#fff500"/><circle cx="236.7" cy="128.5" r="2.6" fill="#ffa300"/><circle cx="237.3" cy="130.4" r="2.6" fill="#ff5600"/><circle cx="248.7" cy="120.3" r="2.6" fill="#ff1000"/><circle cx="252.4" cy="119.8" r="2.6" fill="#ff0300"/><circle cx="256.1" cy="119.2" r="2.6" fill="#ff0026"/><circle cx="259.8" cy="118.7" r="2.6" fill="#ff0053"/><circle cx="262.9" cy="117.5" r="2.6" fill="#ff0032"/><circle cx="266.1" cy="116.3" r="2.6" fill="#ff000e"/><circle cx="269.3" cy="115.2" r="2.6" fill="#ff0600"/><circle cx="272.4" cy="114.0" r="2.6" fill="#ff1000"/><circle cx="276.1" cy="114.5" r="2.6" fill="#ff2600"/><circle cx="279.8" cy="115.0" r="2.6" fill="#ff4000"/><circle cx="283.5" cy="115.6" r="2.6" fill="#ff5600"/><circle cx="286.3" cy="116.7" r="2.6" fill="#ff4600"/><circle cx="289.0" cy="117.9" r="2.6" fill="#ff3300"/><circle cx="291.8" cy="119.1" r="2.6" fill="#ff2000"/><circle cx="294.6" cy="120.3" r="2.6" fill="#ff1000"/><circle cx="297.7" cy="121.9" r="2.6" fill="#ff4300"/><circle cx="300.9" cy="123.5" r="2.6" fill="#ff6c00"/><circle cx="304.1" cy="125.0" r="2.6" fill="#ff9000"/><circle cx="307.2" cy="127.0" r="2.6" fill="#ffc000"/><circle cx="310.4" cy="129.0" r="2.6" fill="#fff500"/><circle cx="251.9" cy="123.5" r="2.6" fill="#fff500"/><circle cx="255.0" cy="123.1" r="2.6" fill="#ffe800"/><circle cx="258.2" cy="122.7" r="2.6" fill="#ffdb00"/><circle cx="261.4" cy="122.3" r="2.6" fill="#ffce00"/><circle cx="264.5" cy="121.9" r="2.6" fill="#ffc300"/><circle cx="267.7" cy="121.1" r="2.6" fill="#ffce00"/><circle cx="270.8" cy="120.3" r="2.6" fill="#ffdb00"/><circle cx="274.0" cy="119.5" r="2.6" fill="#ffe800"/><circle cx="277.2" cy="118.7" r="2.6" fill="#fff500"/><circle cx="280.9" cy="119.8" r="2.6" fill="#fff500"/><circle cx="284.6" cy="120.8" r="2.6" fill="#fff500"/><circle cx="288.2" cy="121.9" r="2.6" fill="#fff500"/><circle cx="291.0" cy="123.1" r="2.6" fill="#d6f200"/><circle cx="293.8" cy="124.2" r="2.6" fill="#adf000"/><circle cx="296.5" cy="125.4" r="2.6" fill="#83f000"/><circle cx="299.3" cy="126.6" r="2.6" fill="#5af000"/><circle cx="272.4" cy="110.0" r="2.6" fill="#00ec20"/><circle cx="275.6" cy="110.5" r="2.6" fill="#00ec20"/><circle cx="278.8" cy="111.0" r="2.6" fill="#00ec20"/><circle cx="281.9" cy="111.6" r="2.6" fill="#00ec20"/><circle cx="285.1" cy="112.1" r="2.6" fill="#00ec20"/><circle cx="287.8" cy="113.3" r="2.6" fill="#00ec20"/><circle cx="290.6" cy="114.4" r="2.6" fill="#00ec20"/><circle cx="293.4" cy="115.6" r="2.6" fill="#00ec20"/><circle cx="296.1" cy="116.8" r="2.6" fill="#00ec20"/><circle cx="299.3" cy="118.4" r="2.6" fill="#00ec20"/><circle cx="302.5" cy="120.0" r="2.6" fill="#00ec20"/><circle cx="305.6" cy="121.6" r="2.6" fill="#00ec20"/><circle cx="251.9" cy="132.9" r="2.6" fill="#00e9ff"/><circle cx="255.0" cy="132.4" r="2.6" fill="#00e9ff"/><circle cx="258.2" cy="131.8" r="2.6" fill="#00e9ff"/><circle cx="261.4" cy="131.2" r="2.6" fill="#00e9ff"/><circle cx="264.5" cy="130.6" r="2.6" fill="#00e9ff"/><circle cx="267.7" cy="130.0" r="2.6" fill="#00e9ff"/><circle cx="270.8" cy="129.4" r="2.6" fill="#00e9ff"/><circle cx="274.0" cy="128.8" r="2.6" fill="#00e9ff"/><circle cx="277.2" cy="128.2" r="2.6" fill="#00e9ff"/><circle cx="280.9" cy="127.9" r="2.6" fill="#00e9ff"/><circle cx="284.6" cy="127.7" r="2.6" fill="#00e9ff"/><circle cx="288.2" cy="127.4" r="2.6" fill="#00e9ff"/><circle cx="291.9" cy="127.9" r="2.6" fill="#00e9ff"/><circle cx="295.6" cy="128.5" r="2.6" fill="#00e9ff"/><circle cx="299.3" cy="129.0" r="2.6" fill="#00e9ff"/><circle cx="258.2" cy="138.5" r="2.6" fill="#00ec20"/><circle cx="261.9" cy="138.1" r="2.6" fill="#00ec20"/><circle cx="265.6" cy="137.7" r="2.6" fill="#00ec20"/><circle cx="269.3" cy="137.4" r="2.6" fill="#00ec20"/><circle cx="272.4" cy="136.7" r="2.6" fill="#00ec20"/><circle cx="275.6" cy="136.0" r="2.6" fill="#00ec20"/><circle cx="278.8" cy="135.3" r="2.6" fill="#00ec20"/><circle cx="281.9" cy="134.1" r="2.6" fill="#00ec20"/><circle cx="285.1" cy="132.9" r="2.6" fill="#00ec20"/><circle cx="280.3" cy="140.5" r="2.6" fill="#fff500"/><circle cx="284.3" cy="140.5" r="2.6" fill="#00ec20"/><circle cx="237.6" cy="137.7" r="2.6" fill="#ff9000"/><circle cx="238.4" cy="140.8" r="2.6" fill="#ffc300"/><circle cx="238.4" cy="144.0" r="2.6" fill="#00e9ff"/><circle cx="231.3" cy="125.0" r="2.6" fill="#ff9000"/><circle cx="234.5" cy="123.5" r="2.6" fill="#fff500"/><circle cx="239.2" cy="123.5" r="2.6" fill="#ffc300"/><circle cx="267.7" cy="101.3" r="2.6" fill="#00ec20"/><circle cx="272.4" cy="102.9" r="2.6" fill="#00ec20"/><circle cx="269.3" cy="109.2" r="2.6" fill="#00e9ff"/><circle cx="232.9" cy="129.8" r="2.6" fill="#00e9ff"/><circle cx="232.1" cy="134.5" r="2.6" fill="#00e9ff"/><circle cx="231.3" cy="139.3" r="2.6" fill="#00adff"/><circle cx="231.3" cy="142.4" r="2.6" fill="#005dff"/><circle cx="259.0" cy="96.6" r="2.6" fill="#00e9ff"/><circle cx="260.3" cy="99.0" r="2.6" fill="#00e9ff"/><circle cx="261.7" cy="101.3" r="2.6" fill="#00e9ff"/><circle cx="260.3" cy="104.1" r="2.6" fill="#00e884"/><circle cx="259.0" cy="106.9" r="2.6" fill="#00ec20"/><circle cx="256.6" cy="110.8" r="2.6" fill="#00ec20"/><circle cx="310.8" cy="104.6" r="2.6" fill="#00e8ff"/><circle cx="317.3" cy="104.6" r="2.6" fill="#00e9ff"/><circle cx="301.1" cy="110.2" r="2.6" fill="#00e9ff"/><circle cx="307.6" cy="110.2" r="2.6" fill="#00e9ff"/><circle cx="314.1" cy="110.2" r="2.6" fill="#00dcff"/><circle cx="320.6" cy="110.2" r="2.6" fill="#00aeff"/><circle cx="297.8" cy="115.8" r="2.6" fill="#00e8c1"/><circle cx="304.3" cy="115.8" r="2.6" fill="#00ebf9"/><circle cx="310.8" cy="115.8" r="2.6" fill="#00e9ff"/><circle cx="317.3" cy="115.8" r="2.6" fill="#00c7ff"/><circle cx="301.1" cy="121.5" r="2.6" fill="#00e8c2"/><circle cx="307.6" cy="121.5" r="2.6" fill="#00eae8"/><circle cx="314.1" cy="121.5" r="2.6" fill="#00e9ff"/><circle cx="304.3" cy="127.1" r="2.6" fill="#00e8b1"/><circle cx="316.7" cy="95.0" r="2.6" fill="#fff500"/><circle cx="319.9" cy="96.6" r="2.6" fill="#ffc000"/><circle cx="323.0" cy="98.2" r="2.6" fill="#ff9000"/><circle cx="325.4" cy="100.5" r="2.6" fill="#ff9000"/><circle cx="327.8" cy="102.9" r="2.6" fill="#ff9000"/><circle cx="329.3" cy="105.3" r="2.6" fill="#ffaa00"/><circle cx="330.9" cy="107.6" r="2.6" fill="#ffc300"/><circle cx="334.1" cy="110.8" r="2.6" fill="#00e9ff"/><circle cx="316.7" cy="99.7" r="2.6" fill="#00ec20"/><circle cx="319.9" cy="101.3" r="2.6" fill="#00e9ff"/><circle cx="313.5" cy="96.6" r="2.6" fill="#00e9ff"/><circle cx="299.7" cy="141.5" r="2.6" fill="#0aed1b"/><circle cx="304.2" cy="141.5" r="2.6" fill="#ffc500"/><circle cx="297.5" cy="145.4" r="2.6" fill="#02ec1f"/><circle cx="302.0" cy="145.4" r="2.6" fill="#fff100"/><circle cx="306.5" cy="145.4" r="2.6" fill="#93f000"/><circle cx="311.0" cy="145.4" r="2.6" fill="#0aed1b"/><circle cx="299.7" cy="149.3" r="2.6" fill="#00ec20"/><circle cx="304.2" cy="149.3" r="2.6" fill="#0aed1b"/><circle cx="321.6" cy="179.2" r="2.6" fill="#ff1000"/><circle cx="324.8" cy="180.0" r="2.6" fill="#ff1000"/><circle cx="327.9" cy="180.8" r="2.6" fill="#ff1000"/><circle cx="332.7" cy="183.2" r="2.6" fill="#00ec20"/><circle cx="335.8" cy="184.0" r="2.6" fill="#00ec20"/><circle cx="339.8" cy="185.6" r="2.6" fill="#00e9ff"/><circle cx="347.7" cy="189.5" r="2.6" fill="#00e9ff"/><circle cx="346.1" cy="181.6" r="2.6" fill="#00ec20"/><circle cx="350.1" cy="184.0" r="2.6" fill="#00adff"/><circle cx="354.8" cy="167.4" r="2.6" fill="#ff5600"/><circle cx="358.3" cy="166.6" r="2.6" fill="#00ec20"/><circle cx="362.7" cy="166.6" r="2.6" fill="#00ec20"/><circle cx="351.1" cy="171.3" r="2.6" fill="#00e9ff"/><circle cx="354.8" cy="171.3" r="2.6" fill="#005dff"/><circle cx="358.6" cy="171.3" r="2.6" fill="#0f20ff"/><circle cx="352.1" cy="174.0" r="2.6" fill="#00c6ff"/><circle cx="355.7" cy="174.2" r="2.6" fill="#0242ff"/><circle cx="359.2" cy="174.4" r="2.6" fill="#0f20ff"/><circle cx="353.2" cy="176.7" r="2.6" fill="#009aff"/><circle cx="356.5" cy="177.1" r="2.6" fill="#0831ff"/><circle cx="359.8" cy="177.5" r="2.6" fill="#0f20ff"/><circle cx="354.2" cy="179.4" r="2.6" fill="#005dff"/><circle cx="357.4" cy="180.0" r="2.6" fill="#0f20ff"/><circle cx="360.5" cy="180.6" r="2.6" fill="#0f20ff"/><circle cx="355.3" cy="182.6" r="2.6" fill="#0242ff"/><circle cx="357.7" cy="183.2" r="2.6" fill="#0f20ff"/><circle cx="360.1" cy="183.7" r="2.6" fill="#0f20ff"/><circle cx="356.3" cy="185.9" r="2.6" fill="#0831ff"/><circle cx="358.0" cy="186.3" r="2.6" fill="#0f20ff"/><circle cx="359.8" cy="186.8" r="2.6" fill="#0f20ff"/><circle cx="357.3" cy="189.1" r="2.6" fill="#0f20ff"/><circle cx="358.4" cy="189.5" r="2.6" fill="#0f20ff"/><circle cx="359.4" cy="189.9" r="2.6" fill="#0f20ff"/><circle cx="129.0" cy="237.7" r="2.6" fill="#ff2000"/><circle cx="129.0" cy="243.4" r="2.6" fill="#97f000"/><circle cx="310.9" cy="270.4" r="2.6" fill="#ffe500"/><circle cx="307.5" cy="272.0" r="2.6" fill="#ff9000"/><circle cx="304.5" cy="271.5" r="2.6" fill="#ffbb00"/><circle cx="304.3" cy="273.8" r="2.6" fill="#ff9000"/><circle cx="301.3" cy="270.7" r="2.6" fill="#e4f300"/><circle cx="301.2" cy="273.2" r="2.6" fill="#ffbf00"/><circle cx="301.1" cy="275.6" r="2.6" fill="#ff9000"/><circle cx="297.9" cy="272.2" r="2.6" fill="#fff500"/><circle cx="297.9" cy="274.8" r="2.6" fill="#ffc300"/><circle cx="297.9" cy="277.5" r="2.6" fill="#ff9000"/><circle cx="294.0" cy="270.3" r="2.6" fill="#00ec25"/><circle cx="294.0" cy="272.5" r="2.6" fill="#ffd200"/><circle cx="294.0" cy="274.8" r="2.6" fill="#ff7300"/><circle cx="294.0" cy="277.1" r="2.6" fill="#ff5a00"/><circle cx="290.0" cy="271.1" r="2.6" fill="#00eb2a"/><circle cx="290.0" cy="272.9" r="2.6" fill="#ffb300"/><circle cx="290.0" cy="274.8" r="2.6" fill="#ff1000"/><circle cx="290.0" cy="276.7" r="2.6" fill="#ff1000"/><circle cx="295.5" cy="291.1" r="2.6" fill="#ff9000"/><circle cx="295.5" cy="295.1" r="2.6" fill="#ff1000"/><circle cx="101.1" cy="275.3" r="2.6" fill="#ff5700"/><circle cx="104.4" cy="275.3" r="2.6" fill="#ff9000"/><circle cx="99.5" cy="278.2" r="2.6" fill="#ff5600"/><circle cx="102.8" cy="278.2" r="2.6" fill="#ff9900"/><circle cx="106.1" cy="278.2" r="2.6" fill="#ffe400"/><circle cx="94.5" cy="281.0" r="2.6" fill="#ff0500"/><circle cx="97.8" cy="281.0" r="2.6" fill="#ff1100"/><circle cx="101.1" cy="281.0" r="2.6" fill="#ff3100"/><circle cx="104.4" cy="281.0" r="2.6" fill="#fff200"/><circle cx="107.7" cy="281.0" r="2.6" fill="#fff500"/><circle cx="89.6" cy="283.9" r="2.6" fill="#ff9bf9"/><circle cx="92.9" cy="283.9" r="2.6" fill="#fb45f1"/><circle cx="96.2" cy="283.9" r="2.6" fill="#ff0e00"/><circle cx="99.5" cy="283.9" r="2.6" fill="#ff1000"/><circle cx="102.8" cy="283.9" r="2.6" fill="#ff7100"/><circle cx="106.1" cy="283.9" r="2.6" fill="#80f000"/><circle cx="109.4" cy="283.9" r="2.6" fill="#22ee0f"/><circle cx="84.6" cy="286.7" r="2.6" fill="#ff9bf9"/><circle cx="87.9" cy="286.7" r="2.6" fill="#ff9cf9"/><circle cx="91.2" cy="286.7" r="2.6" fill="#ff9bf9"/><circle cx="94.5" cy="286.7" r="2.6" fill="#ff8ef7"/><circle cx="97.8" cy="286.7" r="2.6" fill="#ff0f00"/><circle cx="101.1" cy="286.7" r="2.6" fill="#ff7b00"/><circle cx="104.4" cy="286.7" r="2.6" fill="#daf200"/><circle cx="107.7" cy="286.7" r="2.6" fill="#00ec20"/><circle cx="111.0" cy="286.7" r="2.6" fill="#04ec1e"/><circle cx="83.0" cy="289.6" r="2.6" fill="#ff9cf9"/><circle cx="86.3" cy="289.6" r="2.6" fill="#ff9bf9"/><circle cx="89.6" cy="289.6" r="2.6" fill="#ff9af8"/><circle cx="92.9" cy="289.6" r="2.6" fill="#ff9cf9"/><circle cx="96.2" cy="289.6" r="2.6" fill="#ff97f8"/><circle cx="99.5" cy="289.6" r="2.6" fill="#ff8b00"/><circle cx="102.8" cy="289.6" r="2.6" fill="#ff9000"/><circle cx="106.1" cy="289.6" r="2.6" fill="#9af000"/><circle cx="109.4" cy="289.6" r="2.6" fill="#0aed1b"/><circle cx="112.7" cy="289.6" r="2.6" fill="#06ec1d"/><circle cx="84.6" cy="292.5" r="2.6" fill="#ff94f8"/><circle cx="87.9" cy="292.5" r="2.6" fill="#ff85f5"/><circle cx="91.2" cy="292.5" r="2.6" fill="#ff97f8"/><circle cx="94.5" cy="292.5" r="2.6" fill="#ff98f8"/><circle cx="97.8" cy="292.5" r="2.6" fill="#ff1700"/><circle cx="101.1" cy="292.5" r="2.6" fill="#ff9900"/><circle cx="104.4" cy="292.5" r="2.6" fill="#ffca00"/><circle cx="107.7" cy="292.5" r="2.6" fill="#14ed16"/><circle cx="111.0" cy="292.5" r="2.6" fill="#01ec20"/><circle cx="114.3" cy="292.5" r="2.6" fill="#00e876"/><circle cx="83.0" cy="295.3" r="2.6" fill="#f600e6"/><circle cx="86.3" cy="295.3" r="2.6" fill="#f600e8"/><circle cx="89.6" cy="295.3" r="2.6" fill="#ff9bf9"/><circle cx="92.9" cy="295.3" r="2.6" fill="#ff9bf9"/><circle cx="96.2" cy="295.3" r="2.6" fill="#ff00b2"/><circle cx="99.5" cy="295.3" r="2.6" fill="#ffcb00"/><circle cx="102.8" cy="295.3" r="2.6" fill="#fff500"/><circle cx="106.1" cy="295.3" r="2.6" fill="#d6f200"/><circle cx="109.4" cy="295.3" r="2.6" fill="#00ec20"/><circle cx="112.7" cy="295.3" r="2.6" fill="#00eb2a"/><circle cx="116.0" cy="295.3" r="2.6" fill="#00eaff"/><circle cx="119.3" cy="295.3" r="2.6" fill="#00e8ff"/><circle cx="87.9" cy="298.2" r="2.6" fill="#f60aec"/><circle cx="91.2" cy="298.2" r="2.6" fill="#ff9af8"/><circle cx="94.5" cy="298.2" r="2.6" fill="#fb50f1"/><circle cx="97.8" cy="298.2" r="2.6" fill="#ff0300"/><circle cx="101.1" cy="298.2" r="2.6" fill="#ffe900"/><circle cx="104.4" cy="298.2" r="2.6" fill="#fff500"/><circle cx="107.7" cy="298.2" r="2.6" fill="#6df000"/><circle cx="111.0" cy="298.2" r="2.6" fill="#1cee12"/><circle cx="114.3" cy="298.2" r="2.6" fill="#00e889"/><circle cx="117.6" cy="298.2" r="2.6" fill="#00ddff"/><circle cx="120.9" cy="298.2" r="2.6" fill="#0096ff"/><circle cx="89.6" cy="301.0" r="2.6" fill="#ff004a"/><circle cx="92.9" cy="301.0" r="2.6" fill="#f600e8"/><circle cx="96.2" cy="301.0" r="2.6" fill="#f600e7"/><circle cx="99.5" cy="301.0" r="2.6" fill="#ff0075"/><circle cx="102.8" cy="301.0" r="2.6" fill="#ff9b00"/><circle cx="106.1" cy="301.0" r="2.6" fill="#ffba00"/><circle cx="109.4" cy="301.0" r="2.6" fill="#96f000"/><circle cx="112.7" cy="301.0" r="2.6" fill="#59f000"/><circle cx="116.0" cy="301.0" r="2.6" fill="#00e895"/><circle cx="119.3" cy="301.0" r="2.6" fill="#005dff"/><circle cx="94.5" cy="303.9" r="2.6" fill="#f600e7"/><circle cx="97.8" cy="303.9" r="2.6" fill="#ff00b4"/><circle cx="101.1" cy="303.9" r="2.6" fill="#ff0082"/><circle cx="104.4" cy="303.9" r="2.6" fill="#ff8d00"/><circle cx="107.7" cy="303.9" r="2.6" fill="#ff9100"/><circle cx="111.0" cy="303.9" r="2.6" fill="#77f000"/><circle cx="114.3" cy="303.9" r="2.6" fill="#58f000"/><circle cx="117.6" cy="303.9" r="2.6" fill="#00d3ff"/><circle cx="96.2" cy="306.8" r="2.6" fill="#ff00ac"/><circle cx="99.5" cy="306.8" r="2.6" fill="#ff00a4"/><circle cx="106.1" cy="306.8" r="2.6" fill="#ff9000"/><circle cx="109.4" cy="306.8" r="2.6" fill="#ff5b00"/><circle cx="112.7" cy="306.8" r="2.6" fill="#ff5800"/><circle cx="116.0" cy="306.8" r="2.6" fill="#00eaeb"/><circle cx="119.3" cy="306.8" r="2.6" fill="#00e9d5"/><circle cx="111.0" cy="309.6" r="2.6" fill="#ff1100"/><circle cx="114.3" cy="309.6" r="2.6" fill="#00e878"/><circle cx="117.6" cy="309.6" r="2.6" fill="#00e9dd"/><circle cx="114.5" cy="314.3" r="2.6" fill="#00ec20"/><circle cx="114.1" cy="317.1" r="2.6" fill="#00ec20"/><circle cx="113.7" cy="319.8" r="2.6" fill="#00ec20"/><circle cx="111.0" cy="319.8" r="2.6" fill="#ff1000"/><circle cx="112.9" cy="324.6" r="2.6" fill="#ff9000"/><circle cx="121.6" cy="328.5" r="2.6" fill="#fff500"/><circle cx="120.8" cy="334.1" r="2.6" fill="#ff9000"/><circle cx="120.8" cy="292.9" r="2.6" fill="#00ec20"/><circle cx="121.6" cy="289.8" r="2.6" fill="#00ec20"/><circle cx="122.4" cy="286.6" r="2.6" fill="#00ec20"/><circle cx="122.4" cy="283.5" r="2.6" fill="#00ec20"/><circle cx="122.4" cy="280.3" r="2.6" fill="#00ec20"/><circle cx="125.6" cy="277.1" r="2.6" fill="#ffc300"/><circle cx="128.8" cy="277.9" r="2.6" fill="#ffaa00"/><circle cx="128.8" cy="272.4" r="2.6" fill="#ff1000"/><circle cx="156.2" cy="330.8" r="2.6" fill="#ff9100"/><circle cx="159.5" cy="330.8" r="2.6" fill="#ffaf00"/><circle cx="162.8" cy="330.8" r="2.6" fill="#00e948"/><circle cx="166.1" cy="330.8" r="2.6" fill="#0638ff"/><circle cx="169.4" cy="330.8" r="2.6" fill="#0e22ff"/><circle cx="172.7" cy="330.8" r="2.6" fill="#092fff"/><circle cx="176.0" cy="330.8" r="2.6" fill="#005dff"/><circle cx="179.3" cy="330.8" r="2.6" fill="#005eff"/><circle cx="182.6" cy="330.8" r="2.6" fill="#00c8ff"/><circle cx="185.9" cy="330.8" r="2.6" fill="#00e9ff"/><circle cx="189.2" cy="330.8" r="2.6" fill="#00eaf2"/><circle cx="192.5" cy="330.8" r="2.6" fill="#00e891"/><circle cx="164.4" cy="333.6" r="2.6" fill="#00dfff"/><circle cx="167.7" cy="333.6" r="2.6" fill="#0240ff"/><circle cx="171.0" cy="333.6" r="2.6" fill="#0637ff"/><circle cx="174.3" cy="333.6" r="2.6" fill="#0057ff"/><circle cx="177.6" cy="333.6" r="2.6" fill="#0061ff"/><circle cx="180.9" cy="333.6" r="2.6" fill="#0080ff"/><circle cx="184.2" cy="333.6" r="2.6" fill="#00d6ff"/><circle cx="187.5" cy="333.6" r="2.6" fill="#00ebfd"/><circle cx="190.8" cy="333.6" r="2.6" fill="#00e9ce"/><circle cx="252.3" cy="270.9" r="2.6" fill="#ff9000"/><circle cx="255.6" cy="270.9" r="2.6" fill="#ff9100"/><circle cx="278.7" cy="270.9" r="2.6" fill="#f600e7"/><circle cx="250.7" cy="273.8" r="2.6" fill="#ff5300"/><circle cx="254.0" cy="273.8" r="2.6" fill="#ff8f00"/><circle cx="277.1" cy="273.8" r="2.6" fill="#f600e7"/><circle cx="252.3" cy="276.7" r="2.6" fill="#fc00d3"/><circle cx="255.6" cy="276.7" r="2.6" fill="#ff4500"/><circle cx="258.9" cy="276.7" r="2.6" fill="#ff6100"/><circle cx="268.8" cy="276.7" r="2.6" fill="#ff3d00"/><circle cx="272.1" cy="276.7" r="2.6" fill="#f700e4"/><circle cx="275.4" cy="276.7" r="2.6" fill="#f600e6"/><circle cx="278.7" cy="276.7" r="2.6" fill="#f600e6"/><circle cx="250.7" cy="279.5" r="2.6" fill="#f700e3"/><circle cx="254.0" cy="279.5" r="2.6" fill="#ff0700"/><circle cx="257.3" cy="279.5" r="2.6" fill="#ff1400"/><circle cx="260.6" cy="279.5" r="2.6" fill="#ff6800"/><circle cx="263.9" cy="279.5" r="2.6" fill="#ff9000"/><circle cx="267.2" cy="279.5" r="2.6" fill="#ff8600"/><circle cx="270.5" cy="279.5" r="2.6" fill="#ff00bb"/><circle cx="273.8" cy="279.5" r="2.6" fill="#f600e7"/><circle cx="277.1" cy="279.5" r="2.6" fill="#ff00c9"/><circle cx="252.3" cy="282.4" r="2.6" fill="#ff1700"/><circle cx="255.6" cy="282.4" r="2.6" fill="#ff1000"/><circle cx="258.9" cy="282.4" r="2.6" fill="#ff3500"/><circle cx="262.2" cy="282.4" r="2.6" fill="#ff1100"/><circle cx="265.5" cy="282.4" r="2.6" fill="#ff3d00"/><circle cx="268.8" cy="282.4" r="2.6" fill="#ff1a00"/><circle cx="272.1" cy="282.4" r="2.6" fill="#ff0044"/><circle cx="275.4" cy="282.4" r="2.6" fill="#ff0057"/><circle cx="250.7" cy="285.2" r="2.6" fill="#ff9200"/><circle cx="254.0" cy="285.2" r="2.6" fill="#ff9300"/><circle cx="257.3" cy="285.2" r="2.6" fill="#96f000"/><circle cx="260.6" cy="285.2" r="2.6" fill="#4bf000"/><circle cx="263.9" cy="285.2" r="2.6" fill="#ff2600"/><circle cx="267.2" cy="285.2" r="2.6" fill="#ff4000"/><circle cx="270.5" cy="285.2" r="2.6" fill="#ff1300"/><circle cx="273.8" cy="285.2" r="2.6" fill="#ff000f"/><circle cx="277.1" cy="285.2" r="2.6" fill="#ff0053"/><circle cx="258.9" cy="288.1" r="2.6" fill="#02ec1f"/><circle cx="262.2" cy="288.1" r="2.6" fill="#52f000"/><circle cx="265.5" cy="288.1" r="2.6" fill="#10ed18"/><circle cx="268.8" cy="288.1" r="2.6" fill="#14ed16"/><circle cx="282.5" cy="272.5" r="2.6" fill="#14ed16"/><circle cx="285.8" cy="272.5" r="2.6" fill="#28ee0c"/><circle cx="289.1" cy="272.5" r="2.6" fill="#ff6200"/><circle cx="292.4" cy="272.5" r="2.6" fill="#ffd400"/><circle cx="295.7" cy="272.5" r="2.6" fill="#95f000"/><circle cx="299.0" cy="272.5" r="2.6" fill="#59f000"/><circle cx="302.3" cy="272.5" r="2.6" fill="#55f000"/><circle cx="305.6" cy="272.5" r="2.6" fill="#01ec20"/><circle cx="308.9" cy="272.5" r="2.6" fill="#06ec1d"/><circle cx="290.8" cy="275.4" r="2.6" fill="#f600e7"/><circle cx="294.1" cy="275.4" r="2.6" fill="#ff0055"/><circle cx="297.4" cy="275.4" r="2.6" fill="#ff7700"/><circle cx="300.7" cy="275.4" r="2.6" fill="#5ef000"/><circle cx="304.0" cy="275.4" r="2.6" fill="#b4f000"/><circle cx="307.3" cy="275.4" r="2.6" fill="#ffe700"/><circle cx="295.7" cy="278.2" r="2.6" fill="#ff1000"/><circle cx="299.0" cy="278.2" r="2.6" fill="#ff7d00"/><circle cx="302.3" cy="278.2" r="2.6" fill="#ffc300"/><circle cx="305.6" cy="278.2" r="2.6" fill="#ffca00"/><circle cx="308.9" cy="278.2" r="2.6" fill="#ffc300"/><circle cx="295.9" cy="291.4" r="2.6" fill="#ff9000"/><circle cx="295.9" cy="295.3" r="2.6" fill="#ff1000"/><circle cx="267.5" cy="291.4" r="2.6" fill="#fff500"/><circle cx="264.3" cy="294.5" r="2.6" fill="#00e9ff"/><circle cx="259.6" cy="297.7" r="2.6" fill="#00e9ff"/><circle cx="254.8" cy="300.8" r="2.6" fill="#00e9ff"/><circle cx="250.1" cy="304.0" r="2.6" fill="#00e9ff"/><circle cx="252.3" cy="306.5" r="2.6" fill="#0b2aff"/><circle cx="250.6" cy="309.3" r="2.6" fill="#0f21ff"/><circle cx="253.9" cy="309.3" r="2.6" fill="#0e22ff"/><circle cx="257.2" cy="309.3" r="2.6" fill="#0064ff"/><circle cx="252.3" cy="312.2" r="2.6" fill="#0f21ff"/><circle cx="255.6" cy="312.2" r="2.6" fill="#0f21ff"/><circle cx="258.9" cy="312.2" r="2.6" fill="#00a7ff"/><circle cx="250.6" cy="315.0" r="2.6" fill="#0d26ff"/><circle cx="253.9" cy="315.0" r="2.6" fill="#0f22ff"/><circle cx="257.2" cy="315.0" r="2.6" fill="#0055ff"/><circle cx="260.5" cy="315.0" r="2.6" fill="#005eff"/><circle cx="252.3" cy="317.9" r="2.6" fill="#0f21ff"/><circle cx="255.6" cy="317.9" r="2.6" fill="#0e22ff"/><circle cx="240.6" cy="330.9" r="2.6" fill="#ff9cf9"/><circle cx="250.1" cy="327.7" r="2.6" fill="#ffc300"/><circle cx="253.2" cy="330.9" r="2.6" fill="#ff9000"/><circle cx="251.7" cy="334.1" r="2.6" fill="#ff1000"/><circle cx="193.2" cy="330.9" r="2.6" fill="#005dff"/><circle cx="205.8" cy="330.9" r="2.6" fill="#00ec20"/><circle cx="221.6" cy="332.5" r="2.6" fill="#ff9000"/><circle cx="226.4" cy="330.9" r="2.6" fill="#ff9000"/><circle cx="122.4" cy="338.2" r="2.6" fill="#fff500"/><circle cx="133.5" cy="343.7" r="2.6" fill="#b3f000"/><circle cx="138.2" cy="339.8" r="2.6" fill="#fff500"/><circle cx="165.1" cy="357.9" r="2.6" fill="#ff9cf9"/><circle cx="167.5" cy="359.5" r="2.6" fill="#ff9cf9"/><circle cx="165.1" cy="361.9" r="2.6" fill="#ff9cf9"/><circle cx="169.1" cy="362.7" r="2.6" fill="#ff9cf9"/><circle cx="168.3" cy="357.2" r="2.6" fill="#f600e8"/><circle cx="172.2" cy="357.2" r="2.6" fill="#ff1000"/><circle cx="171.4" cy="350.0" r="2.6" fill="#ff9000"/><circle cx="175.4" cy="350.8" r="2.6" fill="#fff500"/><circle cx="178.6" cy="353.2" r="2.6" fill="#ff9000"/><circle cx="159.3" cy="330.2" r="2.6" fill="#0ced1a"/><circle cx="162.6" cy="330.2" r="2.6" fill="#00e875"/><circle cx="165.9" cy="330.2" r="2.6" fill="#006eff"/><circle cx="169.2" cy="330.2" r="2.6" fill="#005aff"/><circle cx="172.5" cy="330.2" r="2.6" fill="#0e23ff"/><circle cx="175.8" cy="330.2" r="2.6" fill="#0733ff"/><circle cx="179.1" cy="330.2" r="2.6" fill="#00bfff"/><circle cx="182.4" cy="330.2" r="2.6" fill="#00e8ff"/><circle cx="185.7" cy="330.2" r="2.6" fill="#00e9ff"/><circle cx="189.0" cy="330.2" r="2.6" fill="#00ebf5"/><circle cx="192.3" cy="330.2" r="2.6" fill="#00e9d6"/><circle cx="164.3" cy="333.1" r="2.6" fill="#00ccff"/><circle cx="167.6" cy="333.1" r="2.6" fill="#004aff"/><circle cx="170.9" cy="333.1" r="2.6" fill="#0f21ff"/><circle cx="174.2" cy="333.1" r="2.6" fill="#0f21ff"/><circle cx="177.5" cy="333.1" r="2.6" fill="#0a2eff"/><circle cx="180.8" cy="333.1" r="2.6" fill="#00c6ff"/><circle cx="184.1" cy="333.1" r="2.6" fill="#00eaf4"/><circle cx="187.4" cy="333.1" r="2.6" fill="#00e8c3"/><circle cx="190.7" cy="333.1" r="2.6" fill="#00eb28"/><circle cx="194.0" cy="333.1" r="2.6" fill="#00eb26"/><circle cx="169.2" cy="335.9" r="2.6" fill="#0b2bff"/><circle cx="172.5" cy="335.9" r="2.6" fill="#0e22ff"/><circle cx="175.8" cy="335.9" r="2.6" fill="#0f21ff"/><circle cx="179.1" cy="335.9" r="2.6" fill="#053aff"/><circle cx="182.4" cy="335.9" r="2.6" fill="#00e865"/><circle cx="185.7" cy="335.9" r="2.6" fill="#00e86c"/><circle cx="189.0" cy="335.9" r="2.6" fill="#00eb2c"/><circle cx="192.3" cy="335.9" r="2.6" fill="#00ec20"/><circle cx="174.2" cy="338.8" r="2.6" fill="#0f21ff"/><circle cx="177.5" cy="338.8" r="2.6" fill="#0e24ff"/><circle cx="180.8" cy="338.8" r="2.6" fill="#00eb2b"/><circle cx="184.1" cy="338.8" r="2.6" fill="#00ec24"/><circle cx="187.4" cy="338.8" r="2.6" fill="#00e898"/><circle cx="190.7" cy="338.8" r="2.6" fill="#00e879"/><circle cx="194.0" cy="338.8" r="2.6" fill="#00eb2c"/><circle cx="182.4" cy="341.7" r="2.6" fill="#00ec20"/><circle cx="185.7" cy="341.7" r="2.6" fill="#00e859"/><circle cx="189.0" cy="341.7" r="2.6" fill="#00e89c"/><circle cx="226.5" cy="330.2" r="2.6" fill="#ff8c00"/><circle cx="229.8" cy="330.2" r="2.6" fill="#ff2000"/><circle cx="233.1" cy="330.2" r="2.6" fill="#ff0a00"/><circle cx="236.4" cy="330.2" r="2.6" fill="#ff9af8"/><circle cx="239.7" cy="330.2" r="2.6" fill="#ff9af8"/><circle cx="243.0" cy="330.2" r="2.6" fill="#ff8bf6"/><circle cx="246.3" cy="330.2" r="2.6" fill="#ff6400"/><circle cx="249.6" cy="330.2" r="2.6" fill="#ffc300"/><circle cx="221.6" cy="333.1" r="2.6" fill="#ff8600"/><circle cx="224.9" cy="333.1" r="2.6" fill="#ff8c00"/><circle cx="228.2" cy="333.1" r="2.6" fill="#ff1000"/><circle cx="231.5" cy="333.1" r="2.6" fill="#ff0100"/><circle cx="234.8" cy="333.1" r="2.6" fill="#fb4af1"/><circle cx="238.1" cy="333.1" r="2.6" fill="#ff9af8"/><circle cx="241.4" cy="333.1" r="2.6" fill="#ff9af8"/><circle cx="244.7" cy="333.1" r="2.6" fill="#f501eb"/><circle cx="248.0" cy="333.1" r="2.6" fill="#ff8600"/><circle cx="251.3" cy="333.1" r="2.6" fill="#ff9000"/><circle cx="219.9" cy="335.9" r="2.6" fill="#ff9000"/><circle cx="223.2" cy="335.9" r="2.6" fill="#ff6400"/><circle cx="226.5" cy="335.9" r="2.6" fill="#ff0011"/><circle cx="229.8" cy="335.9" r="2.6" fill="#f600e6"/><circle cx="233.1" cy="335.9" r="2.6" fill="#f800e1"/><circle cx="236.4" cy="335.9" r="2.6" fill="#ff8bf6"/><circle cx="239.7" cy="335.9" r="2.6" fill="#ff9cf9"/><circle cx="243.0" cy="335.9" r="2.6" fill="#ff9bf9"/><circle cx="246.3" cy="335.9" r="2.6" fill="#ff88f6"/><circle cx="249.6" cy="335.9" r="2.6" fill="#ff7800"/><circle cx="252.9" cy="335.9" r="2.6" fill="#ff8a00"/><circle cx="215.0" cy="338.8" r="2.6" fill="#ff3e00"/><circle cx="218.3" cy="338.8" r="2.6" fill="#ff1200"/><circle cx="221.6" cy="338.8" r="2.6" fill="#ff0036"/><circle cx="224.9" cy="338.8" r="2.6" fill="#ff00b4"/><circle cx="228.2" cy="338.8" r="2.6" fill="#f700e4"/><circle cx="231.5" cy="338.8" r="2.6" fill="#f719ed"/><circle cx="234.8" cy="338.8" r="2.6" fill="#ff95f8"/><circle cx="238.1" cy="338.8" r="2.6" fill="#ff9af8"/><circle cx="241.4" cy="338.8" r="2.6" fill="#ff9af8"/><circle cx="244.7" cy="338.8" r="2.6" fill="#ff9cf9"/><circle cx="248.0" cy="338.8" r="2.6" fill="#f900dd"/><circle cx="251.3" cy="338.8" r="2.6" fill="#ff1500"/><circle cx="210.0" cy="341.6" r="2.6" fill="#f7f400"/><circle cx="213.3" cy="341.6" r="2.6" fill="#fff500"/><circle cx="216.6" cy="341.6" r="2.6" fill="#ff2e00"/><circle cx="219.9" cy="341.6" r="2.6" fill="#fe00cd"/><circle cx="223.2" cy="341.6" r="2.6" fill="#f600e7"/><circle cx="226.5" cy="341.6" r="2.6" fill="#ff8df7"/><circle cx="229.8" cy="341.6" r="2.6" fill="#ff92f7"/><circle cx="233.1" cy="341.6" r="2.6" fill="#ff9cf9"/><circle cx="236.4" cy="341.6" r="2.6" fill="#ff9cf9"/><circle cx="239.7" cy="341.6" r="2.6" fill="#ff9cf9"/><circle cx="243.0" cy="341.6" r="2.6" fill="#ff90f7"/><circle cx="246.3" cy="341.6" r="2.6" fill="#ff0068"/><circle cx="249.6" cy="341.6" r="2.6" fill="#ff1000"/><circle cx="252.9" cy="341.6" r="2.6" fill="#ff1000"/><circle cx="201.8" cy="344.5" r="2.6" fill="#00e9ff"/><circle cx="205.1" cy="344.5" r="2.6" fill="#00ea38"/><circle cx="208.4" cy="344.5" r="2.6" fill="#5bf000"/><circle cx="211.7" cy="344.5" r="2.6" fill="#a4f000"/><circle cx="215.0" cy="344.5" r="2.6" fill="#ffdb00"/><circle cx="218.3" cy="344.5" r="2.6" fill="#ff1000"/><circle cx="221.6" cy="344.5" r="2.6" fill="#f600e6"/><circle cx="224.9" cy="344.5" r="2.6" fill="#ff99f8"/><circle cx="228.2" cy="344.5" r="2.6" fill="#ff9cf9"/><circle cx="231.5" cy="344.5" r="2.6" fill="#ff9af8"/><circle cx="234.8" cy="344.5" r="2.6" fill="#ff9bf9"/><circle cx="238.1" cy="344.5" r="2.6" fill="#ff9bf9"/><circle cx="241.4" cy="344.5" r="2.6" fill="#ff84f5"/><circle cx="244.7" cy="344.5" r="2.6" fill="#f700e3"/><circle cx="248.0" cy="344.5" r="2.6" fill="#ff0700"/><circle cx="203.4" cy="347.3" r="2.6" fill="#00ec23"/><circle cx="206.7" cy="347.3" r="2.6" fill="#0eed19"/><circle cx="210.0" cy="347.3" r="2.6" fill="#5af000"/><circle cx="213.3" cy="347.3" r="2.6" fill="#ffe800"/><circle cx="216.6" cy="347.3" r="2.6" fill="#ff8a00"/><circle cx="219.9" cy="347.3" r="2.6" fill="#f900de"/><circle cx="223.2" cy="347.3" r="2.6" fill="#ff9af8"/><circle cx="226.5" cy="347.3" r="2.6" fill="#ff9bf9"/><circle cx="229.8" cy="347.3" r="2.6" fill="#ff9bf9"/><circle cx="233.1" cy="347.3" r="2.6" fill="#ff9bf9"/><circle cx="236.4" cy="347.3" r="2.6" fill="#ff97f8"/><circle cx="239.7" cy="347.3" r="2.6" fill="#ff83f5"/><circle cx="243.0" cy="347.3" r="2.6" fill="#f600e7"/><circle cx="205.1" cy="350.2" r="2.6" fill="#08ec1c"/><circle cx="208.4" cy="350.2" r="2.6" fill="#ffe600"/><circle cx="211.7" cy="350.2" r="2.6" fill="#ffac00"/><circle cx="215.0" cy="350.2" r="2.6" fill="#ff9000"/><circle cx="218.3" cy="350.2" r="2.6" fill="#ff6400"/><circle cx="221.6" cy="350.2" r="2.6" fill="#ff99f8"/><circle cx="224.9" cy="350.2" r="2.6" fill="#ff9cf9"/><circle cx="228.2" cy="350.2" r="2.6" fill="#ff99f8"/><circle cx="231.5" cy="350.2" r="2.6" fill="#ff9cf9"/><circle cx="234.8" cy="350.2" r="2.6" fill="#ff9bf9"/><circle cx="206.7" cy="353.1" r="2.6" fill="#ffcb00"/><circle cx="210.0" cy="353.1" r="2.6" fill="#ffc300"/><circle cx="213.3" cy="353.1" r="2.6" fill="#ff9300"/><circle cx="216.6" cy="353.1" r="2.6" fill="#ff7f00"/><circle cx="219.9" cy="353.1" r="2.6" fill="#ff0021"/><circle cx="223.2" cy="353.1" r="2.6" fill="#fc5ef2"/><circle cx="226.5" cy="353.1" r="2.6" fill="#ff95f8"/><circle cx="229.8" cy="353.1" r="2.6" fill="#ff9bf9"/><circle cx="208.4" cy="355.9" r="2.6" fill="#ffbe00"/><circle cx="211.7" cy="355.9" r="2.6" fill="#ffa600"/><circle cx="215.0" cy="355.9" r="2.6" fill="#ff2100"/><circle cx="218.3" cy="355.9" r="2.6" fill="#ff1000"/><circle cx="221.6" cy="355.9" r="2.6" fill="#ff0043"/><circle cx="224.9" cy="355.9" r="2.6" fill="#ff0d00"/><circle cx="228.2" cy="355.9" r="2.6" fill="#ff94f8"/><circle cx="231.5" cy="355.9" r="2.6" fill="#ff94f8"/><circle cx="206.7" cy="358.8" r="2.6" fill="#ff9600"/><circle cx="210.0" cy="358.8" r="2.6" fill="#ff9000"/><circle cx="213.3" cy="358.8" r="2.6" fill="#ff8100"/><circle cx="216.6" cy="358.8" r="2.6" fill="#ff1000"/><circle cx="219.9" cy="358.8" r="2.6" fill="#ff009b"/><circle cx="223.2" cy="358.8" r="2.6" fill="#f504eb"/><circle cx="226.5" cy="358.8" r="2.6" fill="#ff0d00"/><circle cx="229.8" cy="358.8" r="2.6" fill="#ff00c8"/><circle cx="208.4" cy="361.6" r="2.6" fill="#ff8d00"/><circle cx="211.7" cy="361.6" r="2.6" fill="#ff9000"/><circle cx="215.0" cy="361.6" r="2.6" fill="#ff1300"/><circle cx="218.3" cy="361.6" r="2.6" fill="#ff00be"/><circle cx="221.6" cy="361.6" r="2.6" fill="#ff9bf9"/><circle cx="224.9" cy="361.6" r="2.6" fill="#ff88f6"/><circle cx="228.2" cy="361.6" r="2.6" fill="#fc5cf2"/><circle cx="210.0" cy="364.5" r="2.6" fill="#ff3d00"/><circle cx="213.3" cy="364.5" r="2.6" fill="#f600e6"/><circle cx="216.6" cy="364.5" r="2.6" fill="#f700e4"/><circle cx="219.9" cy="364.5" r="2.6" fill="#fd61f3"/><circle cx="223.2" cy="364.5" r="2.6" fill="#ff95f8"/><circle cx="226.5" cy="364.5" r="2.6" fill="#ff9cf9"/><circle cx="229.8" cy="364.5" r="2.6" fill="#ff9af8"/><circle cx="215.0" cy="367.3" r="2.6" fill="#f600e7"/><circle cx="218.3" cy="367.3" r="2.6" fill="#f600e7"/><circle cx="221.6" cy="367.3" r="2.6" fill="#fa3ff0"/><circle cx="224.9" cy="367.3" r="2.6" fill="#ff9bf9"/><circle cx="228.2" cy="367.3" r="2.6" fill="#ff9bf9"/><circle cx="216.6" cy="370.2" r="2.6" fill="#f600e7"/><circle cx="219.9" cy="370.2" r="2.6" fill="#f600e8"/><circle cx="131.0" cy="236.7" r="2.6" fill="#00e9ff"/><circle cx="133.8" cy="236.2" r="2.6" fill="#ffd300"/><circle cx="131.6" cy="240.1" r="2.6" fill="#00ec20"/><circle cx="134.7" cy="240.1" r="2.6" fill="#00e9ff"/><circle cx="133.2" cy="246.4" r="2.6" fill="#00ec20"/><circle cx="130.0" cy="249.6" r="2.6" fill="#005dff"/><circle cx="151.3" cy="229.8" r="2.6" fill="#00ec20"/><circle cx="153.7" cy="227.4" r="2.6" fill="#00ec20"/><circle cx="156.1" cy="226.6" r="2.6" fill="#00ec20"/><circle cx="158.5" cy="225.8" r="2.6" fill="#00ec20"/><circle cx="160.8" cy="224.3" r="2.6" fill="#2def0a"/><circle cx="163.2" cy="222.7" r="2.6" fill="#5af000"/><circle cx="165.6" cy="221.9" r="2.6" fill="#2def0a"/><circle cx="167.9" cy="221.1" r="2.6" fill="#00ec20"/><circle cx="144.0" cy="237.9" r="2.6" fill="#00e864"/><circle cx="145.9" cy="237.7" r="2.6" fill="#00ec24"/><circle cx="147.8" cy="237.5" r="2.6" fill="#60f000"/><circle cx="149.7" cy="237.3" r="2.6" fill="#e6f300"/><circle cx="151.6" cy="237.1" r="2.6" fill="#ffd900"/><circle cx="142.8" cy="240.7" r="2.6" fill="#00e8ba"/><circle cx="145.5" cy="240.6" r="2.6" fill="#00e85c"/><circle cx="148.2" cy="240.5" r="2.6" fill="#40f000"/><circle cx="150.9" cy="240.3" r="2.6" fill="#ffee00"/><circle cx="153.5" cy="240.2" r="2.6" fill="#ffc000"/><circle cx="141.7" cy="243.6" r="2.6" fill="#00cdff"/><circle cx="145.1" cy="243.5" r="2.6" fill="#00e8aa"/><circle cx="148.6" cy="243.4" r="2.6" fill="#20ee10"/><circle cx="152.0" cy="243.4" r="2.6" fill="#ffd700"/><circle cx="155.5" cy="243.3" r="2.6" fill="#ffa800"/><circle cx="140.5" cy="246.4" r="2.6" fill="#005dff"/><circle cx="143.9" cy="246.4" r="2.6" fill="#00d4ff"/><circle cx="147.3" cy="246.4" r="2.6" fill="#00e86a"/><circle cx="150.7" cy="246.4" r="2.6" fill="#8af000"/><circle cx="154.1" cy="246.4" r="2.6" fill="#ffb900"/><circle cx="157.5" cy="246.4" r="2.6" fill="#ff9000"/><circle cx="140.1" cy="249.8" r="2.6" fill="#0046ff"/><circle cx="143.2" cy="249.8" r="2.6" fill="#00c8ff"/><circle cx="146.3" cy="249.8" r="2.6" fill="#00e898"/><circle cx="149.4" cy="249.8" r="2.6" fill="#20ee10"/><circle cx="152.5" cy="249.8" r="2.6" fill="#fcf500"/><circle cx="155.6" cy="249.8" r="2.6" fill="#ffa500"/><circle cx="158.6" cy="249.8" r="2.6" fill="#ff7500"/><circle cx="153.9" cy="185.6" r="2.6" fill="#f900df"/><circle cx="152.3" cy="188.5" r="2.6" fill="#ff8800"/><circle cx="155.6" cy="188.5" r="2.6" fill="#ff0085"/><circle cx="158.9" cy="188.5" r="2.6" fill="#ff98f8"/><circle cx="162.2" cy="188.5" r="2.6" fill="#ff9bf9"/><circle cx="150.6" cy="191.3" r="2.6" fill="#ff3300"/><circle cx="153.9" cy="191.3" r="2.6" fill="#ff1000"/><circle cx="157.2" cy="191.3" r="2.6" fill="#ff0018"/><circle cx="160.5" cy="191.3" r="2.6" fill="#fd6bf3"/><circle cx="163.8" cy="191.3" r="2.6" fill="#ff9bf9"/><circle cx="167.1" cy="191.3" r="2.6" fill="#ff9bf9"/><circle cx="170.4" cy="191.3" r="2.6" fill="#ff9cf9"/><circle cx="173.7" cy="191.3" r="2.6" fill="#ff9cf9"/><circle cx="177.0" cy="191.3" r="2.6" fill="#ff9cf9"/><circle cx="152.3" cy="194.2" r="2.6" fill="#ff0f00"/><circle cx="155.6" cy="194.2" r="2.6" fill="#ff0e00"/><circle cx="158.9" cy="194.2" r="2.6" fill="#fa00d8"/><circle cx="162.2" cy="194.2" r="2.6" fill="#f600e8"/><circle cx="165.5" cy="194.2" r="2.6" fill="#fe74f4"/><circle cx="168.8" cy="194.2" r="2.6" fill="#ff9af8"/><circle cx="172.1" cy="194.2" r="2.6" fill="#ff9bf9"/><circle cx="175.4" cy="194.2" r="2.6" fill="#ff9cf9"/><circle cx="178.7" cy="194.2" r="2.6" fill="#ff9cf9"/><circle cx="150.6" cy="197.0" r="2.6" fill="#ff0050"/><circle cx="153.9" cy="197.0" r="2.6" fill="#ff0049"/><circle cx="157.2" cy="197.0" r="2.6" fill="#ff0025"/><circle cx="160.5" cy="197.0" r="2.6" fill="#f700e5"/><circle cx="163.8" cy="197.0" r="2.6" fill="#f600e8"/><circle cx="167.1" cy="197.0" r="2.6" fill="#ff9bf9"/><circle cx="170.4" cy="197.0" r="2.6" fill="#ff9cf9"/><circle cx="173.7" cy="197.0" r="2.6" fill="#ff9bf9"/><circle cx="177.0" cy="197.0" r="2.6" fill="#ff9cf9"/><circle cx="180.3" cy="197.0" r="2.6" fill="#ff9cf9"/><circle cx="152.3" cy="199.9" r="2.6" fill="#ff0053"/><circle cx="155.6" cy="199.9" r="2.6" fill="#ff0012"/><circle cx="158.9" cy="199.9" r="2.6" fill="#ff1000"/><circle cx="162.2" cy="199.9" r="2.6" fill="#ff0050"/><circle cx="168.8" cy="199.9" r="2.6" fill="#ff9bf9"/><circle cx="172.1" cy="199.9" r="2.6" fill="#ff9bf9"/><circle cx="175.4" cy="199.9" r="2.6" fill="#ff9cf9"/><circle cx="178.7" cy="199.9" r="2.6" fill="#ff9cf9"/><circle cx="182.0" cy="199.9" r="2.6" fill="#ff9cf9"/><circle cx="153.9" cy="202.7" r="2.6" fill="#f600e7"/><circle cx="157.2" cy="202.7" r="2.6" fill="#ff0200"/><circle cx="177.0" cy="202.7" r="2.6" fill="#ff9cf9"/><circle cx="180.3" cy="202.7" r="2.6" fill="#ff9cf9"/><circle cx="183.6" cy="202.7" r="2.6" fill="#ff9cf9"/><circle cx="186.9" cy="202.7" r="2.6" fill="#ff9cf9"/><circle cx="188.6" cy="205.6" r="2.6" fill="#ff9cf9"/><circle cx="191.9" cy="205.6" r="2.6" fill="#ff9cf9"/><circle cx="195.2" cy="205.6" r="2.6" fill="#ff9cf9"/><circle cx="196.8" cy="208.5" r="2.6" fill="#ff9cf9"/><circle cx="153.7" cy="208.5" r="2.6" fill="#ff9000"/><circle cx="154.5" cy="211.6" r="2.6" fill="#00ec20"/><circle cx="166.6" cy="207.1" r="2.6" fill="#ff1000"/><circle cx="167.1" cy="209.4" r="2.6" fill="#ff5600"/><circle cx="167.7" cy="211.7" r="2.6" fill="#fff500"/><circle cx="168.2" cy="214.0" r="2.6" fill="#00ec20"/><circle cx="168.8" cy="216.3" r="2.6" fill="#00e9ff"/><circle cx="169.3" cy="218.6" r="2.6" fill="#0f20ff"/><circle cx="170.5" cy="207.3" r="2.6" fill="#ff1000"/><circle cx="170.8" cy="209.5" r="2.6" fill="#ff7200"/><circle cx="171.1" cy="211.8" r="2.6" fill="#c0f000"/><circle cx="171.5" cy="214.0" r="2.6" fill="#00ea38"/><circle cx="171.8" cy="216.3" r="2.6" fill="#00e9ff"/><circle cx="172.2" cy="218.5" r="2.6" fill="#0f20ff"/><circle cx="174.3" cy="207.5" r="2.6" fill="#ff1000"/><circle cx="174.5" cy="209.7" r="2.6" fill="#ff8d00"/><circle cx="174.6" cy="211.9" r="2.6" fill="#80f000"/><circle cx="174.7" cy="214.1" r="2.6" fill="#00e850"/><circle cx="174.9" cy="216.3" r="2.6" fill="#00e9ff"/><circle cx="175.0" cy="218.5" r="2.6" fill="#0f20ff"/><circle cx="178.2" cy="207.7" r="2.6" fill="#ff1000"/><circle cx="178.1" cy="209.8" r="2.6" fill="#ffa800"/><circle cx="178.1" cy="212.0" r="2.6" fill="#40f000"/><circle cx="178.0" cy="214.2" r="2.6" fill="#00e878"/><circle cx="177.9" cy="216.4" r="2.6" fill="#00e9ff"/><circle cx="177.9" cy="218.5" r="2.6" fill="#0f20ff"/><circle cx="182.0" cy="207.9" r="2.6" fill="#ff1000"/><circle cx="181.8" cy="210.0" r="2.6" fill="#ffc300"/><circle cx="181.5" cy="212.1" r="2.6" fill="#00ec20"/><circle cx="181.3" cy="214.3" r="2.6" fill="#00e89c"/><circle cx="181.0" cy="216.4" r="2.6" fill="#00e9ff"/><circle cx="180.7" cy="218.5" r="2.6" fill="#0f20ff"/><circle cx="185.6" cy="208.3" r="2.6" fill="#ff1000"/><circle cx="185.2" cy="210.4" r="2.6" fill="#ffb600"/><circle cx="184.8" cy="212.5" r="2.6" fill="#56f000"/><circle cx="184.5" cy="214.7" r="2.6" fill="#00e878"/><circle cx="184.1" cy="216.8" r="2.6" fill="#00eae4"/><circle cx="183.7" cy="218.9" r="2.6" fill="#0049ff"/><circle cx="189.1" cy="208.6" r="2.6" fill="#ff1000"/><circle cx="188.6" cy="210.8" r="2.6" fill="#ffaa00"/><circle cx="188.1" cy="212.9" r="2.6" fill="#adf000"/><circle cx="187.7" cy="215.1" r="2.6" fill="#00e850"/><circle cx="187.2" cy="217.2" r="2.6" fill="#00e8c5"/><circle cx="186.7" cy="219.3" r="2.6" fill="#0090ff"/><circle cx="192.6" cy="209.0" r="2.6" fill="#ff1000"/><circle cx="192.0" cy="211.2" r="2.6" fill="#ff9d00"/><circle cx="191.5" cy="213.3" r="2.6" fill="#fff300"/><circle cx="190.9" cy="215.5" r="2.6" fill="#00ea38"/><circle cx="190.3" cy="217.6" r="2.6" fill="#00e8af"/><circle cx="189.7" cy="219.7" r="2.6" fill="#00c3ff"/><circle cx="196.1" cy="209.4" r="2.6" fill="#ff1000"/><circle cx="195.4" cy="211.6" r="2.6" fill="#ff9000"/><circle cx="194.8" cy="213.7" r="2.6" fill="#ffc300"/><circle cx="194.1" cy="215.9" r="2.6" fill="#00ec20"/><circle cx="193.4" cy="218.0" r="2.6" fill="#00e89c"/><circle cx="192.7" cy="220.2" r="2.6" fill="#00e9ff"/><circle cx="198.7" cy="212.3" r="2.6" fill="#ff6700"/><circle cx="197.9" cy="214.3" r="2.6" fill="#ffd200"/><circle cx="197.1" cy="216.3" r="2.6" fill="#bcf000"/><circle cx="196.3" cy="218.3" r="2.6" fill="#00e858"/><circle cx="195.5" cy="220.3" r="2.6" fill="#00e8bd"/><circle cx="194.7" cy="222.3" r="2.6" fill="#00c6ff"/><circle cx="201.2" cy="215.1" r="2.6" fill="#ffac00"/><circle cx="200.3" cy="217.0" r="2.6" fill="#b7f000"/><circle cx="199.4" cy="218.9" r="2.6" fill="#1fee11"/><circle cx="198.4" cy="220.7" r="2.6" fill="#00e8a8"/><circle cx="197.5" cy="222.6" r="2.6" fill="#00eaef"/><circle cx="196.6" cy="224.4" r="2.6" fill="#009aff"/><circle cx="203.8" cy="218.0" r="2.6" fill="#fff500"/><circle cx="202.5" cy="220.1" r="2.6" fill="#00ec20"/><circle cx="201.1" cy="222.3" r="2.6" fill="#00e9ff"/><circle cx="199.8" cy="224.4" r="2.6" fill="#00e9ff"/><circle cx="198.5" cy="226.6" r="2.6" fill="#005dff"/><circle cx="204.2" cy="221.4" r="2.6" fill="#64f000"/><circle cx="202.8" cy="223.2" r="2.6" fill="#00e858"/><circle cx="201.4" cy="225.1" r="2.6" fill="#00d7ff"/><circle cx="200.0" cy="226.9" r="2.6" fill="#00c2ff"/><circle cx="198.6" cy="228.8" r="2.6" fill="#0242ff"/><circle cx="204.7" cy="224.7" r="2.6" fill="#00e94a"/><circle cx="203.2" cy="226.3" r="2.6" fill="#00e8a8"/><circle cx="201.7" cy="227.8" r="2.6" fill="#00c6ff"/><circle cx="200.2" cy="229.4" r="2.6" fill="#008fff"/><circle cx="198.7" cy="230.9" r="2.6" fill="#0831ff"/><circle cx="205.1" cy="228.1" r="2.6" fill="#00e9ff"/><circle cx="203.5" cy="229.3" r="2.6" fill="#00e9ff"/><circle cx="201.9" cy="230.6" r="2.6" fill="#00b2ff"/><circle cx="200.4" cy="231.9" r="2.6" fill="#0046ff"/><circle cx="198.8" cy="233.1" r="2.6" fill="#0f20ff"/><circle cx="198.6" cy="232.4" r="2.6" fill="#005dff"/><circle cx="194.2" cy="233.5" r="2.6" fill="#0f20ff"/><circle cx="197.5" cy="236.0" r="2.6" fill="#005dff"/><circle cx="192.6" cy="236.8" r="2.6" fill="#0f20ff"/><circle cx="196.5" cy="239.6" r="2.6" fill="#005dff"/><circle cx="193.8" cy="239.8" r="2.6" fill="#053aff"/><circle cx="191.1" cy="240.0" r="2.6" fill="#0f20ff"/><circle cx="195.4" cy="243.2" r="2.6" fill="#005dff"/><circle cx="192.5" cy="243.2" r="2.6" fill="#053aff"/><circle cx="189.5" cy="243.2" r="2.6" fill="#0f20ff"/><circle cx="194.8" cy="246.6" r="2.6" fill="#004bff"/><circle cx="191.7" cy="246.6" r="2.6" fill="#0734ff"/><circle cx="188.7" cy="246.6" r="2.6" fill="#0f20ff"/><circle cx="194.1" cy="249.9" r="2.6" fill="#033fff"/><circle cx="191.0" cy="249.9" r="2.6" fill="#0930ff"/><circle cx="187.9" cy="249.9" r="2.6" fill="#0f20ff"/><circle cx="205.9" cy="221.1" r="2.6" fill="#ff9000"/><circle cx="210.6" cy="221.9" r="2.6" fill="#f600e8"/><circle cx="215.4" cy="222.7" r="2.6" fill="#ff9cf9"/><circle cx="220.1" cy="222.7" r="2.6" fill="#ff1000"/><circle cx="223.3" cy="224.3" r="2.6" fill="#ff1000"/><circle cx="218.5" cy="227.4" r="2.6" fill="#00e9ff"/><circle cx="212.2" cy="233.8" r="2.6" fill="#00ec20"/><circle cx="204.3" cy="219.5" r="2.6" fill="#fff500"/><circle cx="209.1" cy="230.6" r="2.6" fill="#ffc300"/><circle cx="207.5" cy="238.5" r="2.6" fill="#00e9ff"/><circle cx="209.8" cy="240.9" r="2.6" fill="#fff500"/><circle cx="209.1" cy="244.0" r="2.6" fill="#00ec20"/><circle cx="212.2" cy="247.2" r="2.6" fill="#00ec20"/><circle cx="188.5" cy="181.6" r="2.6" fill="#f600e8"/><circle cx="193.2" cy="183.2" r="2.6" fill="#ff9cf9"/><circle cx="190.1" cy="186.3" r="2.6" fill="#ff9cf9"/><circle cx="193.2" cy="189.5" r="2.6" fill="#ff9cf9"/><circle cx="198.0" cy="187.9" r="2.6" fill="#f600e8"/><circle cx="201.1" cy="184.7" r="2.6" fill="#ff9000"/><circle cx="204.3" cy="189.5" r="2.6" fill="#ff1000"/><circle cx="207.5" cy="189.5" r="2.6" fill="#ff1000"/><circle cx="196.4" cy="183.2" r="2.6" fill="#ff9000"/><circle cx="199.6" cy="181.6" r="2.6" fill="#00ec20"/><circle cx="204.3" cy="184.7" r="2.6" fill="#ffc300"/><circle cx="212.2" cy="195.8" r="2.6" fill="#ff9cf9"/><circle cx="215.4" cy="191.1" r="2.6" fill="#f600e8"/><circle cx="218.5" cy="189.5" r="2.6" fill="#ff9cf9"/><circle cx="221.7" cy="189.5" r="2.6" fill="#ff9000"/><circle cx="226.4" cy="189.5" r="2.6" fill="#00ec20"/><circle cx="215.4" cy="200.6" r="2.6" fill="#ff9cf9"/><circle cx="218.5" cy="203.7" r="2.6" fill="#f600e8"/><circle cx="221.7" cy="199.0" r="2.6" fill="#00ec20"/><circle cx="223.3" cy="195.8" r="2.6" fill="#00ec20"/><circle cx="220.1" cy="195.8" r="2.6" fill="#ffc300"/><circle cx="233.3" cy="200.5" r="2.6" fill="#ff5600"/><circle cx="233.8" cy="201.4" r="2.6" fill="#ff5600"/><circle cx="237.1" cy="199.1" r="2.6" fill="#ff3300"/><circle cx="237.5" cy="200.1" r="2.6" fill="#ff3300"/><circle cx="240.9" cy="197.6" r="2.6" fill="#ff1000"/><circle cx="241.2" cy="198.8" r="2.6" fill="#ff1000"/><circle cx="243.5" cy="196.7" r="2.6" fill="#ff0034"/><circle cx="243.9" cy="197.8" r="2.6" fill="#ff1000"/><circle cx="246.2" cy="195.8" r="2.6" fill="#ff009a"/><circle cx="246.5" cy="196.9" r="2.6" fill="#ff1000"/><circle cx="248.8" cy="194.9" r="2.6" fill="#f600e8"/><circle cx="249.1" cy="195.9" r="2.6" fill="#ff1000"/><circle cx="240.7" cy="184.7" r="2.6" fill="#00ec20"/><circle cx="245.4" cy="183.2" r="2.6" fill="#00ec20"/><circle cx="239.1" cy="189.5" r="2.6" fill="#00ec20"/><circle cx="247.0" cy="189.5" r="2.6" fill="#00e9ff"/><circle cx="243.8" cy="187.9" r="2.6" fill="#00e89c"/><circle cx="239.1" cy="192.6" r="2.6" fill="#00ec20"/><circle cx="247.0" cy="180.0" r="2.6" fill="#00ec20"/><circle cx="234.6" cy="213.2" r="2.6" fill="#ff5600"/><circle cx="236.3" cy="213.2" r="2.6" fill="#ffa300"/><circle cx="238.1" cy="213.2" r="2.6" fill="#fff500"/><circle cx="235.2" cy="216.0" r="2.6" fill="#ff4600"/><circle cx="237.2" cy="216.0" r="2.6" fill="#ff7100"/><circle cx="239.3" cy="216.0" r="2.6" fill="#ffb500"/><circle cx="235.7" cy="218.7" r="2.6" fill="#ff3300"/><circle cx="238.1" cy="218.7" r="2.6" fill="#ff3600"/><circle cx="240.5" cy="218.7" r="2.6" fill="#ff7a00"/><circle cx="236.3" cy="221.5" r="2.6" fill="#ff2000"/><circle cx="239.0" cy="221.5" r="2.6" fill="#ff002e"/><circle cx="241.6" cy="221.5" r="2.6" fill="#ff3600"/><circle cx="236.9" cy="224.3" r="2.6" fill="#ff1000"/><circle cx="239.9" cy="224.3" r="2.6" fill="#f600e8"/><circle cx="242.8" cy="224.3" r="2.6" fill="#ff0053"/><circle cx="237.6" cy="227.4" r="2.6" fill="#ff0009"/><circle cx="240.5" cy="227.4" r="2.6" fill="#f900de"/><circle cx="243.5" cy="227.4" r="2.6" fill="#ff0039"/><circle cx="238.2" cy="230.6" r="2.6" fill="#ff0049"/><circle cx="241.1" cy="230.6" r="2.6" fill="#fc00d4"/><circle cx="244.1" cy="230.6" r="2.6" fill="#ff001c"/><circle cx="238.8" cy="233.8" r="2.6" fill="#ff0084"/><circle cx="241.8" cy="233.8" r="2.6" fill="#fe00ca"/><circle cx="244.7" cy="233.8" r="2.6" fill="#ff0000"/><circle cx="239.5" cy="236.9" r="2.6" fill="#ff00c7"/><circle cx="242.4" cy="236.9" r="2.6" fill="#ff00b8"/><circle cx="245.4" cy="236.9" r="2.6" fill="#ff0800"/><circle cx="240.1" cy="240.1" r="2.6" fill="#f600e8"/><circle cx="243.0" cy="240.1" r="2.6" fill="#ff00a4"/><circle cx="246.0" cy="240.1" r="2.6" fill="#ff1000"/><circle cx="240.5" cy="243.6" r="2.6" fill="#ff007d"/><circle cx="243.4" cy="243.6" r="2.6" fill="#ff006d"/><circle cx="246.4" cy="243.6" r="2.6" fill="#ff1000"/><circle cx="240.9" cy="247.2" r="2.6" fill="#ff0200"/><circle cx="243.8" cy="247.2" r="2.6" fill="#ff0039"/><circle cx="246.8" cy="247.2" r="2.6" fill="#ff1000"/><circle cx="248.6" cy="233.8" r="2.6" fill="#00e9ff"/><circle cx="248.6" cy="240.1" r="2.6" fill="#005dff"/><circle cx="248.6" cy="246.4" r="2.6" fill="#00e9ff"/><circle cx="148.2" cy="251.7" r="2.6" fill="#34ef06"/><circle cx="151.5" cy="251.7" r="2.6" fill="#ff9400"/><circle cx="154.8" cy="251.7" r="2.6" fill="#ff9000"/><circle cx="158.1" cy="251.7" r="2.6" fill="#ff9000"/><circle cx="139.9" cy="254.5" r="2.6" fill="#00ebff"/><circle cx="143.2" cy="254.5" r="2.6" fill="#00e88d"/><circle cx="146.5" cy="254.5" r="2.6" fill="#00ec20"/><circle cx="149.8" cy="254.5" r="2.6" fill="#d1f100"/><circle cx="153.1" cy="254.5" r="2.6" fill="#ff9000"/><circle cx="156.4" cy="254.5" r="2.6" fill="#ff9000"/><circle cx="159.7" cy="254.5" r="2.6" fill="#ff9000"/><circle cx="138.3" cy="257.4" r="2.6" fill="#00ec24"/><circle cx="141.6" cy="257.4" r="2.6" fill="#00ea33"/><circle cx="144.9" cy="257.4" r="2.6" fill="#08ed1c"/><circle cx="148.2" cy="257.4" r="2.6" fill="#94f000"/><circle cx="151.5" cy="257.4" r="2.6" fill="#ffc000"/><circle cx="154.8" cy="257.4" r="2.6" fill="#ff9600"/><circle cx="158.1" cy="257.4" r="2.6" fill="#ff9000"/><circle cx="161.4" cy="257.4" r="2.6" fill="#ff9000"/><circle cx="136.6" cy="260.2" r="2.6" fill="#01ec1f"/><circle cx="139.9" cy="260.2" r="2.6" fill="#00ec20"/><circle cx="143.2" cy="260.2" r="2.6" fill="#33ef06"/><circle cx="146.5" cy="260.2" r="2.6" fill="#ffc800"/><circle cx="149.8" cy="260.2" r="2.6" fill="#ffc300"/><circle cx="153.1" cy="260.2" r="2.6" fill="#ffb300"/><circle cx="156.4" cy="260.2" r="2.6" fill="#ff9000"/><circle cx="159.7" cy="260.2" r="2.6" fill="#ff9000"/><circle cx="135.0" cy="263.1" r="2.6" fill="#10ed18"/><circle cx="138.3" cy="263.1" r="2.6" fill="#05ec1e"/><circle cx="141.6" cy="263.1" r="2.6" fill="#57f000"/><circle cx="144.9" cy="263.1" r="2.6" fill="#ff6a00"/><circle cx="148.2" cy="263.1" r="2.6" fill="#ffbe00"/><circle cx="151.5" cy="263.1" r="2.6" fill="#ffb800"/><circle cx="154.8" cy="263.1" r="2.6" fill="#ff8f00"/><circle cx="158.1" cy="263.1" r="2.6" fill="#ff9000"/><circle cx="161.4" cy="263.1" r="2.6" fill="#ff8f00"/><circle cx="133.3" cy="265.9" r="2.6" fill="#78f000"/><circle cx="136.6" cy="265.9" r="2.6" fill="#00ec20"/><circle cx="139.9" cy="265.9" r="2.6" fill="#07ec1d"/><circle cx="143.2" cy="265.9" r="2.6" fill="#ff007f"/><circle cx="146.5" cy="265.9" r="2.6" fill="#f700e5"/><circle cx="149.8" cy="265.9" r="2.6" fill="#ff1000"/><circle cx="153.1" cy="265.9" r="2.6" fill="#ff4f00"/><circle cx="156.4" cy="265.9" r="2.6" fill="#ff8e00"/><circle cx="159.7" cy="265.9" r="2.6" fill="#ff5100"/><circle cx="135.0" cy="268.8" r="2.6" fill="#fef500"/><circle cx="138.3" cy="268.8" r="2.6" fill="#3af003"/><circle cx="141.6" cy="268.8" r="2.6" fill="#ff0800"/><circle cx="144.9" cy="268.8" r="2.6" fill="#f600e6"/><circle cx="148.2" cy="268.8" r="2.6" fill="#f800e2"/><circle cx="151.5" cy="268.8" r="2.6" fill="#f800e1"/><circle cx="154.8" cy="268.8" r="2.6" fill="#f800e0"/><circle cx="158.1" cy="268.8" r="2.6" fill="#ff1000"/><circle cx="161.4" cy="268.8" r="2.6" fill="#ff1000"/><circle cx="133.3" cy="271.7" r="2.6" fill="#ff1200"/><circle cx="136.6" cy="271.7" r="2.6" fill="#ff7500"/><circle cx="139.9" cy="271.7" r="2.6" fill="#ff00c7"/><circle cx="143.2" cy="271.7" r="2.6" fill="#f600e7"/><circle cx="146.5" cy="271.7" r="2.6" fill="#fa00d9"/><circle cx="149.8" cy="271.7" r="2.6" fill="#ff96f8"/><circle cx="153.1" cy="271.7" r="2.6" fill="#f600e8"/><circle cx="156.4" cy="271.7" r="2.6" fill="#f823ee"/><circle cx="159.7" cy="271.7" r="2.6" fill="#ff0034"/><circle cx="163.0" cy="271.7" r="2.6" fill="#ff0012"/><circle cx="131.7" cy="274.5" r="2.6" fill="#ff4200"/><circle cx="135.0" cy="274.5" r="2.6" fill="#ff8200"/><circle cx="138.3" cy="274.5" r="2.6" fill="#ffa100"/><circle cx="141.6" cy="274.5" r="2.6" fill="#ff008f"/><circle cx="144.9" cy="274.5" r="2.6" fill="#ff0300"/><circle cx="148.2" cy="274.5" r="2.6" fill="#fe72f4"/><circle cx="151.5" cy="274.5" r="2.6" fill="#ff9bf9"/><circle cx="154.8" cy="274.5" r="2.6" fill="#fb4cf1"/><circle cx="158.1" cy="274.5" r="2.6" fill="#ff9cf9"/><circle cx="161.4" cy="274.5" r="2.6" fill="#f600e7"/><circle cx="164.7" cy="274.5" r="2.6" fill="#ff0095"/><circle cx="133.3" cy="277.4" r="2.6" fill="#ff9000"/><circle cx="136.6" cy="277.4" r="2.6" fill="#ffd000"/><circle cx="139.9" cy="277.4" r="2.6" fill="#fff500"/><circle cx="143.2" cy="277.4" r="2.6" fill="#ffc400"/><circle cx="146.5" cy="277.4" r="2.6" fill="#ffc300"/><circle cx="149.8" cy="277.4" r="2.6" fill="#ff6f00"/><circle cx="153.1" cy="277.4" r="2.6" fill="#00e850"/><circle cx="156.4" cy="277.4" r="2.6" fill="#ff4f00"/><circle cx="159.7" cy="277.4" r="2.6" fill="#f800e2"/><circle cx="163.0" cy="277.4" r="2.6" fill="#f600e6"/><circle cx="131.7" cy="280.2" r="2.6" fill="#b2f000"/><circle cx="135.0" cy="280.2" r="2.6" fill="#9af000"/><circle cx="138.3" cy="280.2" r="2.6" fill="#e9f300"/><circle cx="141.6" cy="280.2" r="2.6" fill="#e0f300"/><circle cx="144.9" cy="280.2" r="2.6" fill="#ffca00"/><circle cx="148.2" cy="280.2" r="2.6" fill="#bef000"/><circle cx="151.5" cy="280.2" r="2.6" fill="#00e9d5"/><circle cx="154.8" cy="280.2" r="2.6" fill="#00e9ff"/><circle cx="158.1" cy="280.2" r="2.6" fill="#8ef000"/><circle cx="136.6" cy="283.1" r="2.6" fill="#00ec20"/><circle cx="139.9" cy="283.1" r="2.6" fill="#16ed15"/><circle cx="143.2" cy="283.1" r="2.6" fill="#00ec20"/><circle cx="146.5" cy="283.1" r="2.6" fill="#10ed18"/><circle cx="138.3" cy="285.9" r="2.6" fill="#07ec1c"/><circle cx="141.6" cy="285.9" r="2.6" fill="#02ec1f"/><circle cx="144.9" cy="285.9" r="2.6" fill="#05ec1d"/><circle cx="167.9" cy="279.2" r="2.6" fill="#ff9000"/><circle cx="172.7" cy="279.2" r="2.6" fill="#00ec20"/><circle cx="177.4" cy="278.5" r="2.6" fill="#00ec20"/><circle cx="182.2" cy="278.5" r="2.6" fill="#00ec20"/><circle cx="184.2" cy="276.1" r="2.6" fill="#ffca00"/><circle cx="186.1" cy="273.7" r="2.6" fill="#ff1000"/><circle cx="187.7" cy="275.3" r="2.6" fill="#ff1000"/><circle cx="171.1" cy="284.8" r="2.6" fill="#00e9ff"/><circle cx="172.7" cy="289.5" r="2.6" fill="#00e9ff"/><circle cx="175.8" cy="292.7" r="2.6" fill="#005dff"/><circle cx="177.4" cy="287.9" r="2.6" fill="#005dff"/><circle cx="180.6" cy="284.8" r="2.6" fill="#00e9ff"/><circle cx="183.8" cy="284.0" r="2.6" fill="#00e9ff"/><circle cx="184.7" cy="261.4" r="2.6" fill="#0f20ff"/><circle cx="186.8" cy="262.3" r="2.6" fill="#0f20ff"/><circle cx="187.1" cy="258.5" r="2.6" fill="#0831ff"/><circle cx="189.2" cy="259.4" r="2.6" fill="#0f20ff"/><circle cx="189.4" cy="255.6" r="2.6" fill="#0242ff"/><circle cx="191.5" cy="256.5" r="2.6" fill="#0f20ff"/><circle cx="191.8" cy="252.7" r="2.6" fill="#005dff"/><circle cx="193.9" cy="253.6" r="2.6" fill="#0f20ff"/><circle cx="185.9" cy="273.0" r="2.6" fill="#ff1000"/><circle cx="186.9" cy="274.5" r="2.6" fill="#ff1000"/><circle cx="187.9" cy="276.0" r="2.6" fill="#ff1000"/><circle cx="188.5" cy="275.1" r="2.6" fill="#ff2600"/><circle cx="189.6" cy="277.1" r="2.6" fill="#ff4300"/><circle cx="190.6" cy="279.2" r="2.6" fill="#ff1000"/><circle cx="191.0" cy="277.2" r="2.6" fill="#ff4000"/><circle cx="192.2" cy="279.8" r="2.6" fill="#ff6c00"/><circle cx="193.3" cy="282.3" r="2.6" fill="#ff1000"/><circle cx="193.6" cy="279.4" r="2.6" fill="#ff5600"/><circle cx="194.4" cy="281.4" r="2.6" fill="#ff7d00"/><circle cx="195.2" cy="283.4" r="2.6" fill="#ff6c00"/><circle cx="196.0" cy="285.4" r="2.6" fill="#ff1000"/><circle cx="195.7" cy="281.0" r="2.6" fill="#ff6a00"/><circle cx="196.7" cy="283.2" r="2.6" fill="#ff7000"/><circle cx="197.7" cy="285.4" r="2.6" fill="#ff5400"/><circle cx="198.6" cy="287.6" r="2.6" fill="#ff2600"/><circle cx="197.9" cy="282.5" r="2.6" fill="#ff7d00"/><circle cx="199.0" cy="284.9" r="2.6" fill="#ff6300"/><circle cx="200.1" cy="287.3" r="2.6" fill="#ff3100"/><circle cx="201.3" cy="289.7" r="2.6" fill="#ff4000"/><circle cx="200.0" cy="284.1" r="2.6" fill="#ff9000"/><circle cx="201.3" cy="286.7" r="2.6" fill="#ff5600"/><circle cx="202.6" cy="289.2" r="2.6" fill="#ff1000"/><circle cx="203.9" cy="291.8" r="2.6" fill="#ff5600"/><circle cx="200.1" cy="282.5" r="2.6" fill="#ffc300"/><circle cx="201.9" cy="285.1" r="2.6" fill="#00ec20"/><circle cx="203.6" cy="287.7" r="2.6" fill="#00ec20"/><circle cx="205.3" cy="290.3" r="2.6" fill="#ff9000"/><circle cx="201.8" cy="279.6" r="2.6" fill="#fff300"/><circle cx="203.7" cy="282.1" r="2.6" fill="#00ec20"/><circle cx="205.7" cy="284.7" r="2.6" fill="#70f000"/><circle cx="207.7" cy="287.2" r="2.6" fill="#ff9d00"/><circle cx="203.4" cy="276.8" r="2.6" fill="#adf000"/><circle cx="205.6" cy="279.2" r="2.6" fill="#00ec20"/><circle cx="207.8" cy="281.6" r="2.6" fill="#dff200"/><circle cx="210.0" cy="284.0" r="2.6" fill="#ffaa00"/><circle cx="205.0" cy="274.0" r="2.6" fill="#56f000"/><circle cx="207.4" cy="276.3" r="2.6" fill="#00ec20"/><circle cx="209.9" cy="278.6" r="2.6" fill="#ffc800"/><circle cx="212.3" cy="280.9" r="2.6" fill="#ffb600"/><circle cx="206.7" cy="271.2" r="2.6" fill="#00ec20"/><circle cx="209.3" cy="273.4" r="2.6" fill="#00ec20"/><circle cx="212.0" cy="275.6" r="2.6" fill="#ff9000"/><circle cx="214.6" cy="277.8" r="2.6" fill="#ffc300"/><circle cx="208.8" cy="268.5" r="2.6" fill="#ddf200"/><circle cx="211.1" cy="270.2" r="2.6" fill="#b0f000"/><circle cx="213.3" cy="271.9" r="2.6" fill="#ff9900"/><circle cx="215.6" cy="273.7" r="2.6" fill="#ffd200"/><circle cx="211.0" cy="265.8" r="2.6" fill="#ff9200"/><circle cx="212.8" cy="267.0" r="2.6" fill="#ffc000"/><circle cx="214.7" cy="268.3" r="2.6" fill="#ffa200"/><circle cx="216.6" cy="269.5" r="2.6" fill="#ffe400"/><circle cx="213.1" cy="263.1" r="2.6" fill="#ff1000"/><circle cx="215.4" cy="264.2" r="2.6" fill="#ff8a00"/><circle cx="217.6" cy="265.4" r="2.6" fill="#fff500"/><circle cx="216.2" cy="260.1" r="2.6" fill="#ff5a00"/><circle cx="219.3" cy="262.1" r="2.6" fill="#ffc000"/><circle cx="219.2" cy="257.0" r="2.6" fill="#ff9000"/><circle cx="221.0" cy="258.8" r="2.6" fill="#ff9000"/><circle cx="193.2" cy="270.6" r="2.6" fill="#00ec20"/><circle cx="198.0" cy="269.0" r="2.6" fill="#00ec20"/><circle cx="202.7" cy="267.4" r="2.6" fill="#00ec20"/><circle cx="207.5" cy="267.4" r="2.6" fill="#00ec20"/><circle cx="210.6" cy="269.0" r="2.6" fill="#00ec20"/><circle cx="204.3" cy="288.9" r="2.6" fill="#ff9000"/><circle cx="204.3" cy="290.8" r="2.6" fill="#dff200"/><circle cx="204.3" cy="292.7" r="2.6" fill="#00ec20"/><circle cx="204.3" cy="294.6" r="2.6" fill="#00ec20"/><circle cx="204.3" cy="296.4" r="2.6" fill="#00ec20"/><circle cx="207.8" cy="289.7" r="2.6" fill="#ff9d00"/><circle cx="207.6" cy="291.8" r="2.6" fill="#a8f000"/><circle cx="207.5" cy="293.9" r="2.6" fill="#00ec20"/><circle cx="207.3" cy="295.9" r="2.6" fill="#00ec20"/><circle cx="207.1" cy="298.0" r="2.6" fill="#00ec20"/><circle cx="211.3" cy="290.5" r="2.6" fill="#ffaa00"/><circle cx="211.0" cy="292.8" r="2.6" fill="#70f000"/><circle cx="210.6" cy="295.1" r="2.6" fill="#00ec20"/><circle cx="210.3" cy="297.3" r="2.6" fill="#00ec20"/><circle cx="210.0" cy="299.6" r="2.6" fill="#00ec20"/><circle cx="214.8" cy="291.3" r="2.6" fill="#ffb600"/><circle cx="214.3" cy="293.8" r="2.6" fill="#38f004"/><circle cx="213.8" cy="296.2" r="2.6" fill="#00ec20"/><circle cx="213.3" cy="298.7" r="2.6" fill="#00ec20"/><circle cx="212.8" cy="301.2" r="2.6" fill="#00ec20"/><circle cx="218.3" cy="292.1" r="2.6" fill="#ffc300"/><circle cx="217.8" cy="294.2" r="2.6" fill="#45f000"/><circle cx="217.2" cy="296.4" r="2.6" fill="#00ec20"/><circle cx="216.7" cy="298.5" r="2.6" fill="#00ec20"/><circle cx="216.2" cy="300.6" r="2.6" fill="#00ec20"/><circle cx="215.6" cy="302.8" r="2.6" fill="#00ec20"/><circle cx="221.5" cy="292.5" r="2.6" fill="#ffb600"/><circle cx="220.8" cy="294.9" r="2.6" fill="#8af000"/><circle cx="220.2" cy="297.2" r="2.6" fill="#00ec20"/><circle cx="219.6" cy="299.6" r="2.6" fill="#16ed15"/><circle cx="219.0" cy="302.0" r="2.6" fill="#40f000"/><circle cx="218.4" cy="304.4" r="2.6" fill="#00ec20"/><circle cx="224.6" cy="292.9" r="2.6" fill="#ffaa00"/><circle cx="223.9" cy="295.5" r="2.6" fill="#cff100"/><circle cx="223.2" cy="298.1" r="2.6" fill="#00ec20"/><circle cx="222.5" cy="300.7" r="2.6" fill="#2def0a"/><circle cx="221.9" cy="303.3" r="2.6" fill="#80f000"/><circle cx="221.2" cy="305.9" r="2.6" fill="#00ec20"/><circle cx="227.8" cy="293.3" r="2.6" fill="#ff9d00"/><circle cx="227.0" cy="296.1" r="2.6" fill="#ffe900"/><circle cx="226.2" cy="299.0" r="2.6" fill="#00ec20"/><circle cx="225.5" cy="301.8" r="2.6" fill="#43f000"/><circle cx="224.7" cy="304.7" r="2.6" fill="#c0f000"/><circle cx="223.9" cy="307.5" r="2.6" fill="#00ec20"/><circle cx="230.9" cy="293.7" r="2.6" fill="#ff9000"/><circle cx="230.1" cy="296.7" r="2.6" fill="#ffc300"/><circle cx="229.2" cy="299.8" r="2.6" fill="#00ec20"/><circle cx="228.4" cy="302.9" r="2.6" fill="#5af000"/><circle cx="227.5" cy="306.0" r="2.6" fill="#fff500"/><circle cx="226.7" cy="309.1" r="2.6" fill="#00ec20"/><circle cx="234.1" cy="295.2" r="2.6" fill="#ff6c00"/><circle cx="233.4" cy="298.0" r="2.6" fill="#ff8e00"/><circle cx="232.6" cy="300.8" r="2.6" fill="#c8f100"/><circle cx="231.9" cy="303.6" r="2.6" fill="#c4f000"/><circle cx="231.1" cy="306.3" r="2.6" fill="#eff400"/><circle cx="230.4" cy="309.1" r="2.6" fill="#00ec20"/><circle cx="237.3" cy="296.8" r="2.6" fill="#ff4300"/><circle cx="236.6" cy="299.3" r="2.6" fill="#ff5900"/><circle cx="236.0" cy="301.7" r="2.6" fill="#ffa700"/><circle cx="235.3" cy="304.2" r="2.6" fill="#ffda00"/><circle cx="234.7" cy="306.7" r="2.6" fill="#dff200"/><circle cx="234.1" cy="309.1" r="2.6" fill="#00ec20"/><circle cx="240.4" cy="298.4" r="2.6" fill="#ff1000"/><circle cx="239.9" cy="300.5" r="2.6" fill="#ff1000"/><circle cx="239.4" cy="302.7" r="2.6" fill="#ff3d00"/><circle cx="238.8" cy="304.8" r="2.6" fill="#ffa300"/><circle cx="238.3" cy="307.0" r="2.6" fill="#cff100"/><circle cx="237.8" cy="309.1" r="2.6" fill="#00ec20"/><circle cx="200.4" cy="293.3" r="2.6" fill="#ff5600"/><circle cx="201.9" cy="294.5" r="2.6" fill="#ff4000"/><circle cx="203.5" cy="295.6" r="2.6" fill="#ff2600"/><circle cx="205.1" cy="296.8" r="2.6" fill="#ff1000"/><circle cx="198.3" cy="297.3" r="2.6" fill="#ff4000"/><circle cx="200.6" cy="298.3" r="2.6" fill="#ff2f00"/><circle cx="202.8" cy="299.2" r="2.6" fill="#ff9e00"/><circle cx="205.0" cy="300.2" r="2.6" fill="#ff9200"/><circle cx="196.3" cy="301.4" r="2.6" fill="#ff2600"/><circle cx="199.2" cy="302.1" r="2.6" fill="#ff1e00"/><circle cx="202.1" cy="302.8" r="2.6" fill="#d2f100"/><circle cx="205.0" cy="303.5" r="2.6" fill="#ddf200"/><circle cx="194.2" cy="305.5" r="2.6" fill="#ff1000"/><circle cx="197.8" cy="305.9" r="2.6" fill="#ff1000"/><circle cx="201.3" cy="306.3" r="2.6" fill="#00ec20"/><circle cx="204.9" cy="306.8" r="2.6" fill="#00ec20"/><circle cx="193.2" cy="309.1" r="2.6" fill="#ff4300"/><circle cx="196.9" cy="309.6" r="2.6" fill="#ff9200"/><circle cx="200.6" cy="310.0" r="2.6" fill="#00ec20"/><circle cx="204.4" cy="310.5" r="2.6" fill="#00e858"/><circle cx="192.1" cy="312.8" r="2.6" fill="#ff6c00"/><circle cx="195.1" cy="313.2" r="2.6" fill="#ffde00"/><circle cx="198.0" cy="313.5" r="2.6" fill="#6ff000"/><circle cx="200.9" cy="313.8" r="2.6" fill="#00ea3a"/><circle cx="203.8" cy="314.2" r="2.6" fill="#00e8a8"/><circle cx="191.1" cy="316.5" r="2.6" fill="#ff9000"/><circle cx="194.1" cy="316.9" r="2.6" fill="#70f000"/><circle cx="197.2" cy="317.2" r="2.6" fill="#00ec20"/><circle cx="200.3" cy="317.5" r="2.6" fill="#00e948"/><circle cx="203.3" cy="317.9" r="2.6" fill="#00e9ff"/><circle cx="190.0" cy="320.2" r="2.6" fill="#ffdc00"/><circle cx="193.2" cy="320.5" r="2.6" fill="#4bf000"/><circle cx="196.4" cy="320.9" r="2.6" fill="#00ec20"/><circle cx="199.6" cy="321.2" r="2.6" fill="#00e942"/><circle cx="202.8" cy="321.6" r="2.6" fill="#00e9d9"/><circle cx="189.0" cy="323.9" r="2.6" fill="#95f000"/><circle cx="192.3" cy="324.2" r="2.6" fill="#25ee0d"/><circle cx="195.6" cy="324.6" r="2.6" fill="#00ec20"/><circle cx="198.9" cy="324.9" r="2.6" fill="#00ea3d"/><circle cx="202.3" cy="325.3" r="2.6" fill="#00e8b6"/><circle cx="187.9" cy="327.6" r="2.6" fill="#00ec20"/><circle cx="191.4" cy="327.9" r="2.6" fill="#00ec20"/><circle cx="194.8" cy="328.3" r="2.6" fill="#00ec20"/><circle cx="198.3" cy="328.6" r="2.6" fill="#00ea38"/><circle cx="201.7" cy="329.0" r="2.6" fill="#00e89c"/><circle cx="205.9" cy="310.1" r="2.6" fill="#00ec20"/><circle cx="212.2" cy="313.2" r="2.6" fill="#00ec20"/><circle cx="217.0" cy="316.4" r="2.6" fill="#00ec20"/><circle cx="209.1" cy="319.6" r="2.6" fill="#ffc300"/><circle cx="213.8" cy="322.7" r="2.6" fill="#00ec20"/><circle cx="207.5" cy="325.9" r="2.6" fill="#00e9ff"/><circle cx="232.8" cy="287.9" r="2.6" fill="#ff9000"/><circle cx="237.5" cy="294.3" r="2.6" fill="#ff9000"/><circle cx="215.4" cy="251.6" r="2.6" fill="#00e9ff"/><circle cx="218.5" cy="253.2" r="2.6" fill="#00e9ff"/><circle cx="221.7" cy="254.7" r="2.6" fill="#00e9ff"/><circle cx="224.9" cy="259.5" r="2.6" fill="#005dff"/><circle cx="228.0" cy="262.6" r="2.6" fill="#00e9ff"/><circle cx="224.9" cy="267.4" r="2.6" fill="#00e9ff"/><circle cx="221.7" cy="272.1" r="2.6" fill="#005dff"/><circle cx="218.5" cy="270.6" r="2.6" fill="#00e9ff"/><circle cx="231.2" cy="256.3" r="2.6" fill="#00e9ff"/><circle cx="234.3" cy="259.5" r="2.6" fill="#00ec20"/><circle cx="232.8" cy="265.8" r="2.6" fill="#00e9ff"/><circle cx="237.5" cy="259.5" r="2.6" fill="#00e9ff"/><circle cx="240.7" cy="256.3" r="2.6" fill="#ff5600"/><circle cx="243.8" cy="253.2" r="2.6" fill="#ff1000"/><circle cx="247.0" cy="251.6" r="2.6" fill="#ff1000"/><circle cx="207.5" cy="264.2" r="2.6" fill="#ff1000"/><circle cx="210.6" cy="262.6" r="2.6" fill="#ff5600"/><circle cx="213.8" cy="261.1" r="2.6" fill="#ffc300"/><circle cx="242.5" cy="259.6" r="2.6" fill="#ffc000"/><circle cx="245.8" cy="259.6" r="2.6" fill="#ff8e00"/><circle cx="240.8" cy="262.4" r="2.6" fill="#ffa900"/><circle cx="244.1" cy="262.4" r="2.6" fill="#ff9000"/><circle cx="247.4" cy="262.4" r="2.6" fill="#ff1b00"/><circle cx="242.5" cy="265.3" r="2.6" fill="#ff7e00"/><circle cx="245.8" cy="265.3" r="2.6" fill="#f800df"/><circle cx="240.8" cy="268.1" r="2.6" fill="#ff9000"/><circle cx="244.1" cy="268.1" r="2.6" fill="#ff1600"/><circle cx="247.4" cy="268.1" r="2.6" fill="#fa40f0"/><circle cx="242.5" cy="271.0" r="2.6" fill="#ff5100"/><circle cx="245.8" cy="271.0" r="2.6" fill="#f600e8"/><circle cx="240.8" cy="273.8" r="2.6" fill="#ff1900"/><circle cx="244.1" cy="273.8" r="2.6" fill="#ff0100"/><circle cx="247.4" cy="273.8" r="2.6" fill="#f800e1"/><circle cx="242.5" cy="276.7" r="2.6" fill="#ff1a00"/><circle cx="245.8" cy="276.7" r="2.6" fill="#ff001a"/><circle cx="244.1" cy="279.6" r="2.6" fill="#ff8f00"/><circle cx="247.4" cy="279.6" r="2.6" fill="#ff9800"/><circle cx="245.8" cy="282.4" r="2.6" fill="#ffc200"/><circle cx="243.3" cy="305.4" r="2.6" fill="#0c28ff"/><circle cx="246.6" cy="305.4" r="2.6" fill="#00d3ff"/><circle cx="241.6" cy="308.3" r="2.6" fill="#0e24ff"/><circle cx="244.9" cy="308.3" r="2.6" fill="#0f21ff"/><circle cx="248.2" cy="308.3" r="2.6" fill="#00c6ff"/><circle cx="240.0" cy="311.1" r="2.6" fill="#00e4ff"/><circle cx="243.3" cy="311.1" r="2.6" fill="#004aff"/><circle cx="246.6" cy="311.1" r="2.6" fill="#0e23ff"/><circle cx="241.6" cy="314.0" r="2.6" fill="#00e8ff"/><circle cx="244.9" cy="314.0" r="2.6" fill="#0b2aff"/><circle cx="248.2" cy="314.0" r="2.6" fill="#0f21ff"/><circle cx="240.0" cy="316.8" r="2.6" fill="#00e867"/><circle cx="243.3" cy="316.8" r="2.6" fill="#0060ff"/><circle cx="246.6" cy="316.8" r="2.6" fill="#0054ff"/><circle cx="241.6" cy="319.7" r="2.6" fill="#00e881"/><circle cx="244.9" cy="319.7" r="2.6" fill="#006fff"/><circle cx="248.2" cy="319.7" r="2.6" fill="#00e892"/><circle cx="243.3" cy="322.6" r="2.6" fill="#ffe400"/><circle cx="246.6" cy="322.6" r="2.6" fill="#ff0f00"/><circle cx="241.6" cy="325.4" r="2.6" fill="#ffc200"/><circle cx="244.9" cy="325.4" r="2.6" fill="#ff00c9"/><circle cx="248.2" cy="325.4" r="2.6" fill="#f600e7"/><circle cx="243.3" cy="328.3" r="2.6" fill="#ff1000"/><circle cx="246.6" cy="328.3" r="2.6" fill="#ff0097"/><circle cx="147.6" cy="300.7" r="2.6" fill="#00eb2f"/><circle cx="150.9" cy="300.7" r="2.6" fill="#00ec24"/><circle cx="154.2" cy="300.7" r="2.6" fill="#00ec24"/><circle cx="157.5" cy="300.7" r="2.6" fill="#00ec20"/><circle cx="145.9" cy="303.5" r="2.6" fill="#00e888"/><circle cx="149.2" cy="303.5" r="2.6" fill="#00ec22"/><circle cx="152.5" cy="303.5" r="2.6" fill="#00e5ff"/><circle cx="155.8" cy="303.5" r="2.6" fill="#00ea3a"/><circle cx="159.1" cy="303.5" r="2.6" fill="#1aee13"/><circle cx="147.6" cy="306.4" r="2.6" fill="#00ebfe"/><circle cx="150.9" cy="306.4" r="2.6" fill="#0e23ff"/><circle cx="154.2" cy="306.4" r="2.6" fill="#0b2aff"/><circle cx="157.5" cy="306.4" r="2.6" fill="#00e864"/><circle cx="160.8" cy="306.4" r="2.6" fill="#ffc700"/><circle cx="145.9" cy="309.2" r="2.6" fill="#00ebfe"/><circle cx="149.2" cy="309.2" r="2.6" fill="#00e3ff"/><circle cx="152.5" cy="309.2" r="2.6" fill="#053aff"/><circle cx="155.8" cy="309.2" r="2.6" fill="#005eff"/><circle cx="159.1" cy="309.2" r="2.6" fill="#fff000"/><circle cx="162.4" cy="309.2" r="2.6" fill="#ffc300"/><circle cx="165.7" cy="309.2" r="2.6" fill="#fff500"/><circle cx="147.6" cy="312.1" r="2.6" fill="#00e93f"/><circle cx="150.9" cy="312.1" r="2.6" fill="#00e9ff"/><circle cx="154.2" cy="312.1" r="2.6" fill="#008fff"/><circle cx="157.5" cy="312.1" r="2.6" fill="#00e8ff"/><circle cx="160.8" cy="312.1" r="2.6" fill="#ffaa00"/><circle cx="164.1" cy="312.1" r="2.6" fill="#ffee00"/><circle cx="167.4" cy="312.1" r="2.6" fill="#15ed16"/><circle cx="145.9" cy="315.0" r="2.6" fill="#00ec20"/><circle cx="149.2" cy="315.0" r="2.6" fill="#00e9d1"/><circle cx="152.5" cy="315.0" r="2.6" fill="#00ea3b"/><circle cx="155.8" cy="315.0" r="2.6" fill="#06ec1d"/><circle cx="159.1" cy="315.0" r="2.6" fill="#ff9a00"/><circle cx="162.4" cy="315.0" r="2.6" fill="#ff9000"/><circle cx="165.7" cy="315.0" r="2.6" fill="#58f000"/><circle cx="169.0" cy="315.0" r="2.6" fill="#05ec1e"/><circle cx="147.6" cy="317.8" r="2.6" fill="#ff9b00"/><circle cx="150.9" cy="317.8" r="2.6" fill="#ffe000"/><circle cx="154.2" cy="317.8" r="2.6" fill="#04ec1e"/><circle cx="157.5" cy="317.8" r="2.6" fill="#ff9900"/><circle cx="160.8" cy="317.8" r="2.6" fill="#ff9700"/><circle cx="164.1" cy="317.8" r="2.6" fill="#ffc300"/><circle cx="167.4" cy="317.8" r="2.6" fill="#eaf300"/><circle cx="149.2" cy="320.7" r="2.6" fill="#ff9000"/><circle cx="152.5" cy="320.7" r="2.6" fill="#ffa900"/><circle cx="155.8" cy="320.7" r="2.6" fill="#ff8800"/><circle cx="159.1" cy="320.7" r="2.6" fill="#ff9000"/><circle cx="162.4" cy="320.7" r="2.6" fill="#ffba00"/><circle cx="165.7" cy="320.7" r="2.6" fill="#ffc600"/><circle cx="169.0" cy="320.7" r="2.6" fill="#00ec20"/><circle cx="147.6" cy="323.5" r="2.6" fill="#ff3600"/><circle cx="150.9" cy="323.5" r="2.6" fill="#ff0026"/><circle cx="154.2" cy="323.5" r="2.6" fill="#ff1000"/><circle cx="157.5" cy="323.5" r="2.6" fill="#ff2300"/><circle cx="160.8" cy="323.5" r="2.6" fill="#ff9000"/><circle cx="164.1" cy="323.5" r="2.6" fill="#ffac00"/><circle cx="167.4" cy="323.5" r="2.6" fill="#02ec1f"/><circle cx="170.7" cy="323.5" r="2.6" fill="#00eb2f"/><circle cx="152.5" cy="326.4" r="2.6" fill="#ff0045"/><circle cx="155.8" cy="326.4" r="2.6" fill="#ff1200"/><circle cx="159.1" cy="326.4" r="2.6" fill="#ff4700"/><circle cx="162.4" cy="326.4" r="2.6" fill="#ff9800"/><circle cx="165.7" cy="326.4" r="2.6" fill="#00ebff"/><circle cx="169.0" cy="326.4" r="2.6" fill="#00deff"/><circle cx="172.3" cy="326.4" r="2.6" fill="#00e9ff"/><circle cx="175.6" cy="326.4" r="2.6" fill="#00e9ff"/><circle cx="131.6" cy="286.4" r="2.6" fill="#00ec20"/><circle cx="136.3" cy="286.4" r="2.6" fill="#00ec20"/><circle cx="250.0" cy="193.2" r="2.6" fill="#f600e8"/><circle cx="253.2" cy="196.3" r="2.6" fill="#00ec20"/><circle cx="257.9" cy="193.2" r="2.6" fill="#00ec20"/><circle cx="261.1" cy="197.9" r="2.6" fill="#00ec20"/><circle cx="254.7" cy="202.6" r="2.6" fill="#00ec20"/><circle cx="262.6" cy="201.1" r="2.6" fill="#00ec20"/><circle cx="250.0" cy="199.5" r="2.6" fill="#ffc300"/><circle cx="257.0" cy="200.4" r="2.6" fill="#ff1000"/><circle cx="258.8" cy="198.6" r="2.6" fill="#00ec20"/><circle cx="260.2" cy="202.5" r="2.6" fill="#ff0300"/><circle cx="261.9" cy="200.7" r="2.6" fill="#95f000"/><circle cx="263.4" cy="204.6" r="2.6" fill="#ff0026"/><circle cx="265.1" cy="202.8" r="2.6" fill="#ffdc00"/><circle cx="266.5" cy="206.7" r="2.6" fill="#ff0053"/><circle cx="268.3" cy="204.9" r="2.6" fill="#ff9000"/><circle cx="269.1" cy="208.8" r="2.6" fill="#ff0b00"/><circle cx="270.7" cy="207.1" r="2.6" fill="#ffb000"/><circle cx="271.7" cy="210.8" r="2.6" fill="#ff3000"/><circle cx="273.1" cy="209.2" r="2.6" fill="#ffd000"/><circle cx="274.3" cy="212.9" r="2.6" fill="#ff5600"/><circle cx="275.5" cy="211.4" r="2.6" fill="#fff500"/><circle cx="270.9" cy="211.5" r="2.6" fill="#fff500"/><circle cx="271.8" cy="214.3" r="2.6" fill="#ff9000"/><circle cx="274.5" cy="210.7" r="2.6" fill="#ffd000"/><circle cx="275.1" cy="213.5" r="2.6" fill="#ffdc00"/><circle cx="278.0" cy="210.0" r="2.6" fill="#ffb000"/><circle cx="278.4" cy="212.7" r="2.6" fill="#95f000"/><circle cx="281.6" cy="209.2" r="2.6" fill="#ff9000"/><circle cx="281.6" cy="211.9" r="2.6" fill="#00ec20"/><circle cx="284.8" cy="209.2" r="2.6" fill="#ffdc00"/><circle cx="284.8" cy="211.7" r="2.6" fill="#00ec20"/><circle cx="287.9" cy="209.2" r="2.6" fill="#95f000"/><circle cx="287.9" cy="211.4" r="2.6" fill="#00ec20"/><circle cx="291.1" cy="209.2" r="2.6" fill="#00ec20"/><circle cx="291.1" cy="211.1" r="2.6" fill="#00ec20"/><circle cx="294.8" cy="209.2" r="2.6" fill="#00ec20"/><circle cx="294.8" cy="211.1" r="2.6" fill="#00e858"/><circle cx="298.5" cy="209.2" r="2.6" fill="#00ec20"/><circle cx="298.5" cy="211.1" r="2.6" fill="#00e8a8"/><circle cx="302.2" cy="209.2" r="2.6" fill="#00ec20"/><circle cx="302.2" cy="211.1" r="2.6" fill="#00e9ff"/><circle cx="305.9" cy="209.7" r="2.6" fill="#00ec20"/><circle cx="305.9" cy="211.9" r="2.6" fill="#00e9ff"/><circle cx="309.6" cy="210.2" r="2.6" fill="#00ec20"/><circle cx="309.6" cy="212.7" r="2.6" fill="#00e9ff"/><circle cx="313.2" cy="210.8" r="2.6" fill="#00ec20"/><circle cx="313.2" cy="213.5" r="2.6" fill="#00e9ff"/><circle cx="316.3" cy="211.5" r="2.6" fill="#00ec20"/><circle cx="316.2" cy="214.0" r="2.6" fill="#00ea33"/><circle cx="319.4" cy="212.3" r="2.6" fill="#00ec20"/><circle cx="319.2" cy="214.6" r="2.6" fill="#a0f000"/><circle cx="322.5" cy="213.1" r="2.6" fill="#00ec20"/><circle cx="322.1" cy="215.1" r="2.6" fill="#ffc300"/><circle cx="325.7" cy="213.9" r="2.6" fill="#55f000"/><circle cx="325.3" cy="215.9" r="2.6" fill="#ff9f00"/><circle cx="328.9" cy="214.7" r="2.6" fill="#abf000"/><circle cx="328.5" cy="216.7" r="2.6" fill="#ff7b00"/><circle cx="332.0" cy="215.5" r="2.6" fill="#fff500"/><circle cx="331.6" cy="217.5" r="2.6" fill="#ff5600"/><circle cx="335.7" cy="216.5" r="2.6" fill="#ffac00"/><circle cx="335.3" cy="218.5" r="2.6" fill="#ff4000"/><circle cx="339.4" cy="217.6" r="2.6" fill="#ff6700"/><circle cx="339.0" cy="219.6" r="2.6" fill="#ff2600"/><circle cx="343.1" cy="218.6" r="2.6" fill="#ff1000"/><circle cx="342.7" cy="220.6" r="2.6" fill="#ff1000"/><circle cx="347.8" cy="219.4" r="2.6" fill="#ff9000"/><circle cx="347.5" cy="220.7" r="2.6" fill="#ff9000"/><circle cx="262.6" cy="221.0" r="2.6" fill="#00ec20"/><circle cx="262.6" cy="223.9" r="2.6" fill="#00ec20"/><circle cx="262.6" cy="226.8" r="2.6" fill="#25ee0e"/><circle cx="262.6" cy="229.7" r="2.6" fill="#b7f000"/><circle cx="262.6" cy="232.5" r="2.6" fill="#ffd500"/><circle cx="262.6" cy="235.4" r="2.6" fill="#ff9e00"/><circle cx="262.6" cy="238.3" r="2.6" fill="#ff6100"/><circle cx="262.6" cy="241.2" r="2.6" fill="#ff1000"/><circle cx="265.8" cy="220.8" r="2.6" fill="#00ec20"/><circle cx="265.8" cy="223.8" r="2.6" fill="#00ec20"/><circle cx="265.8" cy="226.9" r="2.6" fill="#58f000"/><circle cx="265.8" cy="230.0" r="2.6" fill="#c3f000"/><circle cx="265.8" cy="233.0" r="2.6" fill="#ffc900"/><circle cx="265.8" cy="236.1" r="2.6" fill="#ff8900"/><circle cx="265.8" cy="239.2" r="2.6" fill="#ff4800"/><circle cx="265.8" cy="242.2" r="2.6" fill="#ff0100"/><circle cx="269.0" cy="220.5" r="2.6" fill="#00ec20"/><circle cx="269.0" cy="223.8" r="2.6" fill="#00ec20"/><circle cx="269.0" cy="227.0" r="2.6" fill="#8cf000"/><circle cx="269.0" cy="230.3" r="2.6" fill="#cff100"/><circle cx="269.0" cy="233.5" r="2.6" fill="#ffbe00"/><circle cx="269.0" cy="236.8" r="2.6" fill="#ff7500"/><circle cx="269.0" cy="240.0" r="2.6" fill="#ff2600"/><circle cx="269.0" cy="243.3" r="2.6" fill="#ff0034"/><circle cx="272.1" cy="220.2" r="2.6" fill="#00ec20"/><circle cx="272.1" cy="223.7" r="2.6" fill="#00ec20"/><circle cx="272.1" cy="227.1" r="2.6" fill="#bff000"/><circle cx="272.1" cy="230.6" r="2.6" fill="#dbf200"/><circle cx="272.1" cy="234.0" r="2.6" fill="#ffb200"/><circle cx="272.1" cy="237.5" r="2.6" fill="#ff6000"/><circle cx="272.1" cy="240.9" r="2.6" fill="#ff0900"/><circle cx="272.1" cy="244.3" r="2.6" fill="#ff0066"/><circle cx="275.3" cy="220.0" r="2.6" fill="#00ec20"/><circle cx="275.3" cy="223.2" r="2.6" fill="#00ec20"/><circle cx="275.3" cy="226.3" r="2.6" fill="#adf000"/><circle cx="275.3" cy="229.5" r="2.6" fill="#ebf300"/><circle cx="275.3" cy="232.7" r="2.6" fill="#ffd000"/><circle cx="275.3" cy="235.9" r="2.6" fill="#ff8500"/><circle cx="275.3" cy="239.0" r="2.6" fill="#ff3100"/><circle cx="275.3" cy="242.2" r="2.6" fill="#ff004f"/><circle cx="275.3" cy="245.4" r="2.6" fill="#ff009a"/><circle cx="278.5" cy="219.7" r="2.6" fill="#00ec20"/><circle cx="278.5" cy="223.1" r="2.6" fill="#00ec20"/><circle cx="278.5" cy="226.4" r="2.6" fill="#d8f200"/><circle cx="278.5" cy="229.7" r="2.6" fill="#fff100"/><circle cx="278.5" cy="233.1" r="2.6" fill="#ffc800"/><circle cx="278.5" cy="236.4" r="2.6" fill="#ff7600"/><circle cx="278.5" cy="239.8" r="2.6" fill="#ff1300"/><circle cx="278.5" cy="243.1" r="2.6" fill="#ff00a9"/><circle cx="278.5" cy="246.4" r="2.6" fill="#fe00cd"/><circle cx="281.6" cy="219.5" r="2.6" fill="#00ec20"/><circle cx="281.6" cy="223.0" r="2.6" fill="#00ec20"/><circle cx="281.6" cy="226.5" r="2.6" fill="#fff300"/><circle cx="281.6" cy="230.0" r="2.6" fill="#ffe200"/><circle cx="281.6" cy="233.5" r="2.6" fill="#ffc000"/><circle cx="281.6" cy="237.0" r="2.6" fill="#ff6700"/><circle cx="281.6" cy="240.5" r="2.6" fill="#ff0019"/><circle cx="281.6" cy="244.0" r="2.6" fill="#f600e8"/><circle cx="281.6" cy="247.5" r="2.6" fill="#f600e8"/><circle cx="284.8" cy="220.1" r="2.6" fill="#00ec20"/><circle cx="284.8" cy="223.6" r="2.6" fill="#2def0a"/><circle cx="284.8" cy="227.1" r="2.6" fill="#fff400"/><circle cx="284.8" cy="230.6" r="2.6" fill="#ffd800"/><circle cx="284.8" cy="234.1" r="2.6" fill="#ffac00"/><circle cx="284.8" cy="237.6" r="2.6" fill="#ff5400"/><circle cx="284.8" cy="241.1" r="2.6" fill="#ff0050"/><circle cx="284.8" cy="244.6" r="2.6" fill="#f829ee"/><circle cx="284.8" cy="248.1" r="2.6" fill="#f829ee"/><circle cx="287.9" cy="220.7" r="2.6" fill="#00ec20"/><circle cx="287.9" cy="224.2" r="2.6" fill="#5af000"/><circle cx="287.9" cy="227.7" r="2.6" fill="#fff400"/><circle cx="287.9" cy="231.2" r="2.6" fill="#ffce00"/><circle cx="287.9" cy="234.7" r="2.6" fill="#ff9700"/><circle cx="287.9" cy="238.2" r="2.6" fill="#ff3900"/><circle cx="287.9" cy="241.8" r="2.6" fill="#ff0084"/><circle cx="287.9" cy="245.3" r="2.6" fill="#fd63f3"/><circle cx="287.9" cy="248.8" r="2.6" fill="#fd63f3"/><circle cx="291.1" cy="221.4" r="2.6" fill="#00ec20"/><circle cx="291.1" cy="224.9" r="2.6" fill="#86f000"/><circle cx="291.1" cy="228.4" r="2.6" fill="#fff400"/><circle cx="291.1" cy="231.9" r="2.6" fill="#ffc500"/><circle cx="291.1" cy="235.4" r="2.6" fill="#ff8300"/><circle cx="291.1" cy="238.9" r="2.6" fill="#ff1d00"/><circle cx="291.1" cy="242.4" r="2.6" fill="#ff00bd"/><circle cx="291.1" cy="245.9" r="2.6" fill="#ff87f6"/><circle cx="291.1" cy="249.4" r="2.6" fill="#ff87f6"/><circle cx="294.3" cy="222.0" r="2.6" fill="#00ec20"/><circle cx="294.3" cy="225.5" r="2.6" fill="#b3f000"/><circle cx="294.3" cy="229.0" r="2.6" fill="#fff500"/><circle cx="294.3" cy="232.5" r="2.6" fill="#ffbd00"/><circle cx="294.3" cy="236.0" r="2.6" fill="#ff6e00"/><circle cx="294.3" cy="239.5" r="2.6" fill="#ff0500"/><circle cx="294.3" cy="243.0" r="2.6" fill="#f800df"/><circle cx="294.3" cy="246.5" r="2.6" fill="#ff91f7"/><circle cx="294.3" cy="250.0" r="2.6" fill="#ff91f7"/><circle cx="297.4" cy="222.6" r="2.6" fill="#00ec20"/><circle cx="297.4" cy="226.1" r="2.6" fill="#dff200"/><circle cx="297.4" cy="229.6" r="2.6" fill="#fff500"/><circle cx="297.4" cy="233.1" r="2.6" fill="#ffb400"/><circle cx="297.4" cy="236.6" r="2.6" fill="#ff5a00"/><circle cx="297.4" cy="240.1" r="2.6" fill="#ff0042"/><circle cx="297.4" cy="243.7" r="2.6" fill="#fa36f0"/><circle cx="297.4" cy="247.2" r="2.6" fill="#ff9cf9"/><circle cx="297.4" cy="250.7" r="2.6" fill="#ff9cf9"/><circle cx="301.3" cy="225.0" r="2.6" fill="#80f000"/><circle cx="301.2" cy="228.1" r="2.6" fill="#ffdd00"/><circle cx="301.1" cy="231.2" r="2.6" fill="#ffc700"/><circle cx="301.0" cy="234.3" r="2.6" fill="#ff8000"/><circle cx="300.9" cy="237.4" r="2.6" fill="#ff2400"/><circle cx="300.8" cy="240.5" r="2.6" fill="#ff007b"/><circle cx="300.7" cy="243.6" r="2.6" fill="#f502eb"/><circle cx="300.6" cy="246.7" r="2.6" fill="#ff82f5"/><circle cx="305.2" cy="227.4" r="2.6" fill="#fff500"/><circle cx="305.0" cy="229.6" r="2.6" fill="#ffc700"/><circle cx="304.8" cy="231.8" r="2.6" fill="#ff9e00"/><circle cx="304.6" cy="234.0" r="2.6" fill="#ff7100"/><circle cx="304.4" cy="236.2" r="2.6" fill="#ff3b00"/><circle cx="304.2" cy="238.4" r="2.6" fill="#ff0300"/><circle cx="304.0" cy="240.6" r="2.6" fill="#ff007b"/><circle cx="303.8" cy="242.8" r="2.6" fill="#f600e8"/><circle cx="302.2" cy="227.9" r="2.6" fill="#fff500"/><circle cx="304.5" cy="227.9" r="2.6" fill="#fff500"/><circle cx="310.1" cy="232.7" r="2.6" fill="#00ec20"/><circle cx="313.2" cy="235.8" r="2.6" fill="#00ec20"/><circle cx="306.9" cy="235.8" r="2.6" fill="#ff9000"/><circle cx="310.1" cy="239.0" r="2.6" fill="#ff9000"/><circle cx="302.2" cy="240.6" r="2.6" fill="#f600e8"/><circle cx="256.3" cy="215.3" r="2.6" fill="#005dff"/><circle cx="253.2" cy="220.0" r="2.6" fill="#00e9ff"/><circle cx="252.4" cy="223.2" r="2.6" fill="#00e9ff"/><circle cx="251.6" cy="226.4" r="2.6" fill="#00e9ff"/><circle cx="252.4" cy="229.5" r="2.6" fill="#00b2ff"/><circle cx="253.2" cy="232.7" r="2.6" fill="#005dff"/><circle cx="257.9" cy="235.8" r="2.6" fill="#00e9ff"/><circle cx="261.1" cy="237.4" r="2.6" fill="#005dff"/><circle cx="250.0" cy="240.6" r="2.6" fill="#00e9ff"/><circle cx="250.0" cy="253.2" r="2.6" fill="#ffc300"/><circle cx="253.2" cy="256.4" r="2.6" fill="#fff500"/><circle cx="253.2" cy="250.1" r="2.6" fill="#00ec20"/><circle cx="259.5" cy="251.7" r="2.6" fill="#00ec20"/><circle cx="265.8" cy="250.1" r="2.6" fill="#00e9ff"/><circle cx="271.6" cy="242.2" r="2.6" fill="#00e9ff"/><circle cx="274.6" cy="242.2" r="2.6" fill="#00e858"/><circle cx="277.6" cy="242.2" r="2.6" fill="#bcf000"/><circle cx="280.6" cy="242.2" r="2.6" fill="#ff5600"/><circle cx="271.6" cy="245.7" r="2.6" fill="#00e9ff"/><circle cx="274.6" cy="245.7" r="2.6" fill="#00e858"/><circle cx="277.6" cy="245.7" r="2.6" fill="#8df000"/><circle cx="280.6" cy="245.7" r="2.6" fill="#ff9d00"/><circle cx="271.6" cy="249.3" r="2.6" fill="#00e9ff"/><circle cx="274.6" cy="249.3" r="2.6" fill="#00e858"/><circle cx="277.6" cy="249.3" r="2.6" fill="#5ef000"/><circle cx="280.6" cy="249.3" r="2.6" fill="#ffe600"/><circle cx="271.6" cy="252.8" r="2.6" fill="#00e9ff"/><circle cx="274.6" cy="252.8" r="2.6" fill="#00e858"/><circle cx="277.6" cy="252.8" r="2.6" fill="#2fef09"/><circle cx="280.6" cy="252.8" r="2.6" fill="#8df000"/><circle cx="271.6" cy="256.4" r="2.6" fill="#00e9ff"/><circle cx="274.6" cy="256.4" r="2.6" fill="#00e858"/><circle cx="277.6" cy="256.4" r="2.6" fill="#00ec20"/><circle cx="280.6" cy="256.4" r="2.6" fill="#00ec20"/><circle cx="271.6" cy="259.8" r="2.6" fill="#00eae4"/><circle cx="274.4" cy="259.8" r="2.6" fill="#00e850"/><circle cx="277.3" cy="259.8" r="2.6" fill="#1dee12"/><circle cx="280.2" cy="259.8" r="2.6" fill="#56f000"/><circle cx="271.6" cy="263.2" r="2.6" fill="#00e8c5"/><circle cx="274.3" cy="263.2" r="2.6" fill="#00e84a"/><circle cx="277.1" cy="263.2" r="2.6" fill="#3af003"/><circle cx="279.8" cy="263.2" r="2.6" fill="#adf000"/><circle cx="271.6" cy="266.6" r="2.6" fill="#00e8af"/><circle cx="275.5" cy="266.6" r="2.6" fill="#00ec20"/><circle cx="279.4" cy="266.6" r="2.6" fill="#fff300"/><circle cx="271.6" cy="270.0" r="2.6" fill="#00e89c"/><circle cx="275.3" cy="270.0" r="2.6" fill="#00ec20"/><circle cx="279.0" cy="270.0" r="2.6" fill="#ffc300"/><circle cx="281.6" cy="261.9" r="2.6" fill="#0f20ff"/><circle cx="286.4" cy="259.6" r="2.6" fill="#0f20ff"/><circle cx="291.1" cy="258.0" r="2.6" fill="#005dff"/><circle cx="294.3" cy="261.1" r="2.6" fill="#00b2ff"/><circle cx="297.4" cy="264.3" r="2.6" fill="#00e9ff"/><circle cx="300.6" cy="264.3" r="2.6" fill="#00e9ff"/><circle cx="303.8" cy="264.3" r="2.6" fill="#00e9ff"/><circle cx="306.9" cy="263.9" r="2.6" fill="#00e9ff"/><circle cx="310.1" cy="263.5" r="2.6" fill="#00e9ff"/><circle cx="313.2" cy="262.7" r="2.6" fill="#00e9ff"/><circle cx="316.4" cy="261.9" r="2.6" fill="#00e9ff"/><circle cx="319.6" cy="258.0" r="2.6" fill="#005dff"/><circle cx="322.7" cy="253.2" r="2.6" fill="#005dff"/><circle cx="291.1" cy="265.9" r="2.6" fill="#00ec20"/><circle cx="302.2" cy="267.5" r="2.6" fill="#00ec20"/><circle cx="295.8" cy="269.1" r="2.6" fill="#00ec20"/><circle cx="330.0" cy="221.9" r="2.6" fill="#ff9000"/><circle cx="332.5" cy="222.8" r="2.6" fill="#95f000"/><circle cx="335.1" cy="223.6" r="2.6" fill="#00e858"/><circle cx="337.6" cy="224.5" r="2.6" fill="#00e9ff"/><circle cx="328.4" cy="225.1" r="2.6" fill="#ffdc00"/><circle cx="331.1" cy="225.9" r="2.6" fill="#64f000"/><circle cx="333.8" cy="226.8" r="2.6" fill="#00e892"/><circle cx="336.5" cy="227.6" r="2.6" fill="#00c6ff"/><circle cx="326.8" cy="228.2" r="2.6" fill="#95f000"/><circle cx="329.7" cy="229.1" r="2.6" fill="#32ef07"/><circle cx="332.6" cy="230.0" r="2.6" fill="#00e8be"/><circle cx="335.5" cy="230.8" r="2.6" fill="#009aff"/><circle cx="325.3" cy="231.4" r="2.6" fill="#00ec20"/><circle cx="327.6" cy="232.0" r="2.6" fill="#00ec20"/><circle cx="329.8" cy="232.7" r="2.6" fill="#00e884"/><circle cx="332.1" cy="233.3" r="2.6" fill="#00cfff"/><circle cx="334.4" cy="234.0" r="2.6" fill="#005dff"/><circle cx="323.2" cy="235.0" r="2.6" fill="#00ec20"/><circle cx="326.0" cy="235.4" r="2.6" fill="#00ec20"/><circle cx="328.8" cy="235.8" r="2.6" fill="#00e88d"/><circle cx="331.6" cy="236.3" r="2.6" fill="#009bff"/><circle cx="334.4" cy="236.7" r="2.6" fill="#005dff"/><circle cx="321.1" cy="238.6" r="2.6" fill="#00ec20"/><circle cx="324.4" cy="238.8" r="2.6" fill="#00ec20"/><circle cx="327.7" cy="239.0" r="2.6" fill="#00e895"/><circle cx="331.1" cy="239.2" r="2.6" fill="#0051ff"/><circle cx="334.4" cy="239.4" r="2.6" fill="#005dff"/><circle cx="319.0" cy="242.2" r="2.6" fill="#00ec20"/><circle cx="322.1" cy="242.2" r="2.6" fill="#00ec20"/><circle cx="325.1" cy="242.2" r="2.6" fill="#00e860"/><circle cx="328.2" cy="242.2" r="2.6" fill="#00dbff"/><circle cx="331.3" cy="242.2" r="2.6" fill="#0b2bff"/><circle cx="334.4" cy="242.2" r="2.6" fill="#005dff"/><circle cx="318.4" cy="244.9" r="2.6" fill="#00e858"/><circle cx="321.9" cy="245.1" r="2.6" fill="#00e86f"/><circle cx="325.4" cy="245.3" r="2.6" fill="#00eae6"/><circle cx="328.8" cy="245.6" r="2.6" fill="#0c29ff"/><circle cx="332.3" cy="245.8" r="2.6" fill="#0242ff"/><circle cx="317.9" cy="247.6" r="2.6" fill="#00e8a8"/><circle cx="321.0" cy="248.1" r="2.6" fill="#00e9d0"/><circle cx="324.0" cy="248.5" r="2.6" fill="#00beff"/><circle cx="327.1" cy="248.9" r="2.6" fill="#0831ff"/><circle cx="330.2" cy="249.4" r="2.6" fill="#0831ff"/><circle cx="317.4" cy="250.3" r="2.6" fill="#00e9ff"/><circle cx="320.9" cy="251.2" r="2.6" fill="#009aff"/><circle cx="324.5" cy="252.1" r="2.6" fill="#0242ff"/><circle cx="328.1" cy="253.0" r="2.6" fill="#0f20ff"/><circle cx="318.2" cy="253.5" r="2.6" fill="#00b2ff"/><circle cx="321.5" cy="254.4" r="2.6" fill="#0046ff"/><circle cx="324.9" cy="255.3" r="2.6" fill="#0f20ff"/><circle cx="318.9" cy="256.7" r="2.6" fill="#005dff"/><circle cx="320.4" cy="257.2" r="2.6" fill="#053aff"/><circle cx="321.8" cy="257.7" r="2.6" fill="#0f20ff"/><circle cx="338.5" cy="223.2" r="2.6" fill="#ff1000"/><circle cx="344.9" cy="221.6" r="2.6" fill="#ff1000"/><circle cx="348.0" cy="226.4" r="2.6" fill="#00e9ff"/><circle cx="351.2" cy="231.1" r="2.6" fill="#00e89c"/><circle cx="341.7" cy="227.9" r="2.6" fill="#00ec20"/><circle cx="344.9" cy="232.7" r="2.6" fill="#00e9ff"/><circle cx="338.5" cy="232.7" r="2.6" fill="#005dff"/><circle cx="351.2" cy="235.8" r="2.6" fill="#005dff"/><circle cx="348.0" cy="237.4" r="2.6" fill="#0f20ff"/><circle cx="356.9" cy="190.0" r="2.6" fill="#0f20ff"/><circle cx="359.7" cy="190.0" r="2.6" fill="#0f20ff"/><circle cx="357.5" cy="193.2" r="2.6" fill="#0831ff"/><circle cx="360.5" cy="193.2" r="2.6" fill="#0f20ff"/><circle cx="358.0" cy="196.3" r="2.6" fill="#0242ff"/><circle cx="361.3" cy="196.3" r="2.6" fill="#0f20ff"/><circle cx="358.5" cy="199.5" r="2.6" fill="#005dff"/><circle cx="360.3" cy="199.5" r="2.6" fill="#053aff"/><circle cx="362.0" cy="199.5" r="2.6" fill="#0f20ff"/><circle cx="358.9" cy="203.4" r="2.6" fill="#00b2ff"/><circle cx="361.1" cy="203.4" r="2.6" fill="#0046ff"/><circle cx="363.2" cy="203.4" r="2.6" fill="#0090ff"/><circle cx="359.3" cy="207.4" r="2.6" fill="#00e9ff"/><circle cx="361.9" cy="207.4" r="2.6" fill="#005dff"/><circle cx="364.4" cy="207.4" r="2.6" fill="#00e9ff"/><circle cx="358.0" cy="210.5" r="2.6" fill="#00e8a8"/><circle cx="360.9" cy="210.3" r="2.6" fill="#00e7ff"/><circle cx="363.9" cy="210.1" r="2.6" fill="#00e9d9"/><circle cx="356.7" cy="213.6" r="2.6" fill="#00e858"/><circle cx="360.0" cy="213.2" r="2.6" fill="#00e885"/><circle cx="363.4" cy="212.8" r="2.6" fill="#00e8b6"/><circle cx="355.3" cy="216.7" r="2.6" fill="#00ec20"/><circle cx="359.1" cy="216.1" r="2.6" fill="#00ec20"/><circle cx="362.8" cy="215.5" r="2.6" fill="#00e89c"/><circle cx="354.2" cy="219.1" r="2.6" fill="#56f000"/><circle cx="357.7" cy="218.7" r="2.6" fill="#00ec20"/><circle cx="361.3" cy="218.2" r="2.6" fill="#00e8af"/><circle cx="353.0" cy="221.5" r="2.6" fill="#adf000"/><circle cx="356.3" cy="221.2" r="2.6" fill="#00ec20"/><circle cx="359.7" cy="220.9" r="2.6" fill="#00e8c5"/><circle cx="351.8" cy="224.0" r="2.6" fill="#fff300"/><circle cx="354.9" cy="223.8" r="2.6" fill="#00ec20"/><circle cx="358.1" cy="223.6" r="2.6" fill="#00eae4"/><circle cx="350.6" cy="226.4" r="2.6" fill="#ffc300"/><circle cx="353.6" cy="226.4" r="2.6" fill="#00ec20"/><circle cx="356.5" cy="226.4" r="2.6" fill="#00e9ff"/><circle cx="350.1" cy="229.5" r="2.6" fill="#a0f000"/><circle cx="352.8" cy="229.5" r="2.6" fill="#00e86f"/><circle cx="355.5" cy="229.5" r="2.6" fill="#00c6ff"/><circle cx="349.6" cy="232.7" r="2.6" fill="#00ea33"/><circle cx="352.0" cy="232.7" r="2.6" fill="#00e9d0"/><circle cx="354.4" cy="232.7" r="2.6" fill="#009aff"/><circle cx="349.0" cy="235.8" r="2.6" fill="#00e9ff"/><circle cx="351.2" cy="235.8" r="2.6" fill="#00b2ff"/><circle cx="353.3" cy="235.8" r="2.6" fill="#005dff"/><circle cx="348.0" cy="190.8" r="2.6" fill="#00e9ff"/><circle cx="204.2" cy="330.0" r="2.6" fill="#00ec20"/><circle cx="207.4" cy="326.9" r="2.6" fill="#ff9000"/><circle cx="210.6" cy="323.7" r="2.6" fill="#00ec20"/><circle cx="213.7" cy="320.6" r="2.6" fill="#fff500"/><circle cx="216.9" cy="317.4" r="2.6" fill="#00ec20"/><circle cx="209.0" cy="329.2" r="2.6" fill="#ffc300"/><circle cx="212.1" cy="326.1" r="2.6" fill="#00ec20"/><circle cx="232.7" cy="322.1" r="2.6" fill="#00ec20"/><circle cx="234.3" cy="326.9" r="2.6" fill="#ffc300"/><circle cx="235.8" cy="319.0" r="2.6" fill="#00ec20"/><circle cx="193.2" cy="334.8" r="2.6" fill="#ffc300"/><circle cx="194.7" cy="337.9" r="2.6" fill="#00ec20"/><circle cx="191.6" cy="326.9" r="2.6" fill="#00e9ff"/><circle cx="199.6" cy="311.6" r="2.6" fill="#00ec20"/><circle cx="204.3" cy="316.4" r="2.6" fill="#00ec20"/><circle cx="209.1" cy="321.1" r="2.6" fill="#00ec20"/><circle cx="205.9" cy="325.8" r="2.6" fill="#ffc300"/><circle cx="201.1" cy="321.1" r="2.6" fill="#00e9ff"/><circle cx="212.2" cy="327.4" r="2.6" fill="#00ec20"/><circle cx="204.3" cy="330.6" r="2.6" fill="#00ec20"/><circle cx="215.4" cy="324.3" r="2.6" fill="#00ec20"/><circle cx="218.5" cy="319.5" r="2.6" fill="#00e9ff"/><circle cx="191.7" cy="281.6" r="2.6" fill="#ff9000"/><circle cx="195.0" cy="281.6" r="2.6" fill="#ff8e00"/><circle cx="198.3" cy="281.6" r="2.6" fill="#ff5700"/><circle cx="201.6" cy="281.6" r="2.6" fill="#ff5c00"/><circle cx="193.4" cy="284.5" r="2.6" fill="#ff9000"/><circle cx="196.7" cy="284.5" r="2.6" fill="#ff6a00"/><circle cx="200.0" cy="284.5" r="2.6" fill="#ff5900"/><circle cx="203.3" cy="284.5" r="2.6" fill="#ffc000"/><circle cx="191.7" cy="287.4" r="2.6" fill="#ff7a00"/><circle cx="195.0" cy="287.4" r="2.6" fill="#ff4a00"/><circle cx="198.3" cy="287.4" r="2.6" fill="#ff6400"/><circle cx="201.6" cy="287.4" r="2.6" fill="#ffc200"/><circle cx="193.4" cy="290.2" r="2.6" fill="#ff1500"/><circle cx="196.7" cy="290.2" r="2.6" fill="#ff1000"/><circle cx="200.0" cy="290.2" r="2.6" fill="#ff7f00"/><circle cx="203.3" cy="290.2" r="2.6" fill="#ff9b00"/><circle cx="191.7" cy="293.1" r="2.6" fill="#ff2100"/><circle cx="195.0" cy="293.1" r="2.6" fill="#ff1200"/><circle cx="198.3" cy="293.1" r="2.6" fill="#ff5700"/><circle cx="201.6" cy="293.1" r="2.6" fill="#ff9000"/><circle cx="193.4" cy="295.9" r="2.6" fill="#ff4600"/><circle cx="196.7" cy="295.9" r="2.6" fill="#ff4a00"/><circle cx="200.0" cy="295.9" r="2.6" fill="#ff8200"/><circle cx="195.0" cy="298.8" r="2.6" fill="#ff5600"/><circle cx="198.3" cy="298.8" r="2.6" fill="#ff2e00"/><circle cx="193.4" cy="301.7" r="2.6" fill="#ff5600"/><circle cx="196.7" cy="301.7" r="2.6" fill="#ff4b00"/><circle cx="195.0" cy="304.5" r="2.6" fill="#ff4900"/><circle cx="85.4" cy="235.1" r="2.6" fill="#0f20ff"/><circle cx="88.8" cy="234.1" r="2.6" fill="#00e9ff"/><circle cx="91.3" cy="233.1" r="2.6" fill="#00e9ff"/><circle cx="127.4" cy="215.4" r="2.6" fill="#00dbff"/><circle cx="119.2" cy="218.2" r="2.6" fill="#00ebfa"/><circle cx="122.5" cy="218.2" r="2.6" fill="#00e9ff"/><circle cx="125.8" cy="218.2" r="2.6" fill="#00e5ff"/><circle cx="107.6" cy="221.1" r="2.6" fill="#ff9000"/><circle cx="110.9" cy="221.1" r="2.6" fill="#fff500"/><circle cx="114.2" cy="221.1" r="2.6" fill="#62f000"/><circle cx="117.5" cy="221.1" r="2.6" fill="#00ec25"/><circle cx="120.8" cy="221.1" r="2.6" fill="#00ebfd"/><circle cx="124.1" cy="221.1" r="2.6" fill="#00c0ff"/><circle cx="127.4" cy="221.1" r="2.6" fill="#005fff"/><circle cx="106.0" cy="224.0" r="2.6" fill="#ffc000"/><circle cx="109.3" cy="224.0" r="2.6" fill="#45f000"/><circle cx="112.6" cy="224.0" r="2.6" fill="#18ee14"/><circle cx="115.9" cy="224.0" r="2.6" fill="#00ebf7"/><circle cx="119.2" cy="224.0" r="2.6" fill="#00e0ff"/><circle cx="122.5" cy="224.0" r="2.6" fill="#00adff"/><circle cx="125.8" cy="224.0" r="2.6" fill="#007fff"/><circle cx="101.0" cy="226.8" r="2.6" fill="#ffee00"/><circle cx="104.3" cy="226.8" r="2.6" fill="#ffd800"/><circle cx="107.6" cy="226.8" r="2.6" fill="#86f000"/><circle cx="110.9" cy="226.8" r="2.6" fill="#00ec20"/><circle cx="114.2" cy="226.8" r="2.6" fill="#00e9da"/><circle cx="117.5" cy="226.8" r="2.6" fill="#00e9ff"/><circle cx="120.8" cy="226.8" r="2.6" fill="#00b4ff"/><circle cx="124.1" cy="226.8" r="2.6" fill="#00afff"/><circle cx="127.4" cy="226.8" r="2.6" fill="#00dcff"/><circle cx="99.4" cy="229.7" r="2.6" fill="#ff9100"/><circle cx="102.7" cy="229.7" r="2.6" fill="#ffd200"/><circle cx="106.0" cy="229.7" r="2.6" fill="#f1f400"/><circle cx="109.3" cy="229.7" r="2.6" fill="#1dee11"/><circle cx="112.6" cy="229.7" r="2.6" fill="#00eaf4"/><circle cx="115.9" cy="229.7" r="2.6" fill="#00e9ff"/><circle cx="119.2" cy="229.7" r="2.6" fill="#00c1ff"/><circle cx="122.5" cy="229.7" r="2.6" fill="#00adff"/><circle cx="125.8" cy="229.7" r="2.6" fill="#00c6ff"/><circle cx="94.4" cy="232.5" r="2.6" fill="#00ec20"/><circle cx="97.7" cy="232.5" r="2.6" fill="#f1f400"/><circle cx="101.0" cy="232.5" r="2.6" fill="#fff500"/><circle cx="104.3" cy="232.5" r="2.6" fill="#3ef001"/><circle cx="107.6" cy="232.5" r="2.6" fill="#01ec1f"/><circle cx="110.9" cy="232.5" r="2.6" fill="#00e881"/><circle cx="114.2" cy="232.5" r="2.6" fill="#00e9ff"/><circle cx="117.5" cy="232.5" r="2.6" fill="#00e7ff"/><circle cx="120.8" cy="232.5" r="2.6" fill="#00b3ff"/><circle cx="124.1" cy="232.5" r="2.6" fill="#00b2ff"/><circle cx="127.4" cy="232.5" r="2.6" fill="#00ddff"/><circle cx="94.8" cy="235.3" r="2.6" fill="#ff1000"/><circle cx="94.8" cy="236.3" r="2.6" fill="#ff1000"/><circle cx="98.5" cy="235.5" r="2.6" fill="#ff0019"/><circle cx="98.5" cy="236.5" r="2.6" fill="#ff0019"/><circle cx="102.2" cy="235.7" r="2.6" fill="#ff0066"/><circle cx="102.2" cy="236.7" r="2.6" fill="#ff0066"/><circle cx="105.9" cy="235.9" r="2.6" fill="#ff00b6"/><circle cx="105.9" cy="236.9" r="2.6" fill="#ff00b6"/><circle cx="109.6" cy="236.1" r="2.6" fill="#f600e8"/><circle cx="109.6" cy="237.1" r="2.6" fill="#f600e8"/><circle cx="113.3" cy="236.1" r="2.6" fill="#f600e8"/><circle cx="113.3" cy="237.2" r="2.6" fill="#ff00b6"/><circle cx="117.0" cy="236.1" r="2.6" fill="#f600e8"/><circle cx="117.0" cy="237.3" r="2.6" fill="#ff0066"/><circle cx="120.7" cy="236.1" r="2.6" fill="#f600e8"/><circle cx="120.7" cy="237.4" r="2.6" fill="#ff0019"/><circle cx="124.4" cy="236.1" r="2.6" fill="#f600e8"/><circle cx="124.4" cy="237.5" r="2.6" fill="#ff1000"/><circle cx="127.7" cy="235.7" r="2.6" fill="#ff009a"/><circle cx="127.7" cy="237.2" r="2.6" fill="#ff1000"/><circle cx="131.0" cy="236.9" r="2.6" fill="#ff1000"/><circle cx="134.3" cy="236.5" r="2.6" fill="#ff1000"/><circle cx="92.5" cy="240.2" r="2.6" fill="#00e9ff"/><circle cx="95.8" cy="240.2" r="2.6" fill="#00e89d"/><circle cx="99.1" cy="240.2" r="2.6" fill="#ffd600"/><circle cx="102.4" cy="240.2" r="2.6" fill="#ff9000"/><circle cx="105.7" cy="240.2" r="2.6" fill="#ffad00"/><circle cx="109.0" cy="240.2" r="2.6" fill="#ffc300"/><circle cx="112.3" cy="240.2" r="2.6" fill="#ffba00"/><circle cx="94.1" cy="243.0" r="2.6" fill="#00ec20"/><circle cx="97.4" cy="243.0" r="2.6" fill="#00eb27"/><circle cx="100.7" cy="243.0" r="2.6" fill="#ffa800"/><circle cx="104.0" cy="243.0" r="2.6" fill="#ffd200"/><circle cx="107.3" cy="243.0" r="2.6" fill="#ffed00"/><circle cx="110.6" cy="243.0" r="2.6" fill="#ffd200"/><circle cx="113.9" cy="243.0" r="2.6" fill="#ffed00"/><circle cx="117.2" cy="243.0" r="2.6" fill="#ff1e00"/><circle cx="120.5" cy="243.0" r="2.6" fill="#ffdb00"/><circle cx="123.8" cy="243.0" r="2.6" fill="#ff9700"/><circle cx="127.1" cy="243.0" r="2.6" fill="#7ef000"/><circle cx="130.4" cy="243.0" r="2.6" fill="#16ed15"/><circle cx="133.7" cy="243.0" r="2.6" fill="#02ec1f"/><circle cx="95.8" cy="245.9" r="2.6" fill="#00e892"/><circle cx="99.1" cy="245.9" r="2.6" fill="#00eaf4"/><circle cx="102.4" cy="245.9" r="2.6" fill="#0eed19"/><circle cx="105.7" cy="245.9" r="2.6" fill="#01ec20"/><circle cx="109.0" cy="245.9" r="2.6" fill="#4ff000"/><circle cx="112.3" cy="245.9" r="2.6" fill="#00ec20"/><circle cx="115.6" cy="245.9" r="2.6" fill="#c6f000"/><circle cx="118.9" cy="245.9" r="2.6" fill="#fff500"/><circle cx="122.2" cy="245.9" r="2.6" fill="#f4f400"/><circle cx="125.5" cy="245.9" r="2.6" fill="#02ec1f"/><circle cx="128.8" cy="245.9" r="2.6" fill="#ffe000"/><circle cx="132.1" cy="245.9" r="2.6" fill="#ffe700"/><circle cx="97.4" cy="248.8" r="2.6" fill="#00e9ff"/><circle cx="100.7" cy="248.8" r="2.6" fill="#00e8a0"/><circle cx="104.0" cy="248.8" r="2.6" fill="#00ec20"/><circle cx="107.3" cy="248.8" r="2.6" fill="#05ec1e"/><circle cx="110.6" cy="248.8" r="2.6" fill="#3cf002"/><circle cx="113.9" cy="248.8" r="2.6" fill="#ffbd00"/><circle cx="117.2" cy="248.8" r="2.6" fill="#ff9000"/><circle cx="120.5" cy="248.8" r="2.6" fill="#ffd500"/><circle cx="123.8" cy="248.8" r="2.6" fill="#81f000"/><circle cx="127.1" cy="248.8" r="2.6" fill="#ffee00"/><circle cx="132.6" cy="187.7" r="2.6" fill="#ff1000"/><circle cx="133.7" cy="187.7" r="2.6" fill="#ff1000"/><circle cx="134.8" cy="187.7" r="2.6" fill="#ff1000"/><circle cx="135.9" cy="187.7" r="2.6" fill="#ff1000"/><circle cx="131.7" cy="191.0" r="2.6" fill="#ff000e"/><circle cx="133.4" cy="191.0" r="2.6" fill="#ff000e"/><circle cx="135.1" cy="191.0" r="2.6" fill="#ff000e"/><circle cx="136.8" cy="191.0" r="2.6" fill="#ff0066"/><circle cx="130.8" cy="194.2" r="2.6" fill="#ff0053"/><circle cx="132.5" cy="194.2" r="2.6" fill="#ff0053"/><circle cx="134.3" cy="194.2" r="2.6" fill="#ff0053"/><circle cx="136.0" cy="194.2" r="2.6" fill="#ff007d"/><circle cx="137.7" cy="194.2" r="2.6" fill="#f600e8"/><circle cx="130.8" cy="199.0" r="2.6" fill="#ff9000"/><circle cx="132.8" cy="199.0" r="2.6" fill="#ff9000"/><circle cx="134.9" cy="199.0" r="2.6" fill="#ff9000"/><circle cx="136.9" cy="199.0" r="2.6" fill="#ff9000"/><circle cx="138.9" cy="199.0" r="2.6" fill="#ff9cf9"/><circle cx="130.8" cy="203.7" r="2.6" fill="#ffc300"/><circle cx="133.3" cy="203.7" r="2.6" fill="#ffc300"/><circle cx="135.8" cy="203.7" r="2.6" fill="#ffc300"/><circle cx="138.2" cy="203.7" r="2.6" fill="#ff9000"/><circle cx="140.7" cy="203.7" r="2.6" fill="#ff9cf9"/><circle cx="130.8" cy="207.9" r="2.6" fill="#00ec20"/><circle cx="133.0" cy="207.9" r="2.6" fill="#00ec20"/><circle cx="135.2" cy="207.9" r="2.6" fill="#36ef05"/><circle cx="137.4" cy="207.9" r="2.6" fill="#c0f000"/><circle cx="139.7" cy="207.9" r="2.6" fill="#ff9400"/><circle cx="141.9" cy="207.9" r="2.6" fill="#f600e8"/><circle cx="130.8" cy="212.0" r="2.6" fill="#fff500"/><circle cx="133.4" cy="212.0" r="2.6" fill="#fff500"/><circle cx="136.0" cy="212.0" r="2.6" fill="#fff500"/><circle cx="138.5" cy="212.0" r="2.6" fill="#fff500"/><circle cx="141.1" cy="212.0" r="2.6" fill="#f600e8"/><circle cx="143.6" cy="212.0" r="2.6" fill="#ff9cf9"/><circle cx="131.4" cy="216.8" r="2.6" fill="#ffc300"/><circle cx="134.1" cy="216.8" r="2.6" fill="#ffc300"/><circle cx="136.8" cy="216.8" r="2.6" fill="#ff9000"/><circle cx="139.5" cy="216.8" r="2.6" fill="#ff9000"/><circle cx="142.1" cy="216.8" r="2.6" fill="#f600e8"/><circle cx="144.8" cy="216.8" r="2.6" fill="#ff9cf9"/><circle cx="132.0" cy="221.5" r="2.6" fill="#ff5600"/><circle cx="134.7" cy="221.5" r="2.6" fill="#ff5600"/><circle cx="137.4" cy="221.5" r="2.6" fill="#ff5600"/><circle cx="140.1" cy="221.5" r="2.6" fill="#ff5600"/><circle cx="142.7" cy="221.5" r="2.6" fill="#ff1000"/><circle cx="145.4" cy="221.5" r="2.6" fill="#ff9cf9"/><circle cx="133.2" cy="226.2" r="2.6" fill="#ff5600"/><circle cx="136.4" cy="226.2" r="2.6" fill="#ff1000"/><circle cx="139.6" cy="226.2" r="2.6" fill="#ff1000"/><circle cx="142.8" cy="226.2" r="2.6" fill="#ff1000"/><circle cx="146.0" cy="226.2" r="2.6" fill="#f600e8"/><circle cx="135.6" cy="231.0" r="2.6" fill="#ff1000"/><circle cx="138.2" cy="231.0" r="2.6" fill="#ff1000"/><circle cx="140.8" cy="231.0" r="2.6" fill="#ff1000"/><circle cx="143.4" cy="231.0" r="2.6" fill="#ff0019"/><circle cx="146.0" cy="231.0" r="2.6" fill="#f600e8"/></g>
<g clip-path="url(#c2)" stroke="#222" stroke-width="0.6"><circle cx="744.7" cy="93.7" r="2.6" fill="#0f20ff"/><circle cx="747.9" cy="92.2" r="2.6" fill="#0f20ff"/><circle cx="750.3" cy="90.6" r="2.6" fill="#0f20ff"/><circle cx="748.7" cy="96.9" r="2.6" fill="#0f20ff"/><circle cx="756.6" cy="105.6" r="2.6" fill="#0f20ff"/><circle cx="757.4" cy="110.3" r="2.6" fill="#005dff"/><circle cx="749.5" cy="115.1" r="2.6" fill="#005dff"/><circle cx="769.1" cy="105.7" r="2.6" fill="#00e9ff"/><circle cx="760.8" cy="108.5" r="2.6" fill="#00ebfb"/><circle cx="764.1" cy="108.5" r="2.6" fill="#00e9cd"/><circle cx="767.4" cy="108.5" r="2.6" fill="#00e9d1"/><circle cx="770.7" cy="108.5" r="2.6" fill="#00e889"/><circle cx="774.0" cy="108.5" r="2.6" fill="#00ebff"/><circle cx="777.3" cy="108.5" r="2.6" fill="#00e8bf"/><circle cx="780.6" cy="108.5" r="2.6" fill="#00e89b"/><circle cx="759.2" cy="111.4" r="2.6" fill="#fff400"/><circle cx="762.5" cy="111.4" r="2.6" fill="#00ec20"/><circle cx="765.8" cy="111.4" r="2.6" fill="#01ec1f"/><circle cx="769.1" cy="111.4" r="2.6" fill="#00ec22"/><circle cx="772.4" cy="111.4" r="2.6" fill="#00ec20"/><circle cx="775.7" cy="111.4" r="2.6" fill="#00e871"/><circle cx="779.0" cy="111.4" r="2.6" fill="#00e89b"/><circle cx="782.3" cy="111.4" r="2.6" fill="#00e874"/><circle cx="757.5" cy="114.2" r="2.6" fill="#ff9000"/><circle cx="760.8" cy="114.2" r="2.6" fill="#ff9f00"/><circle cx="764.1" cy="114.2" r="2.6" fill="#5ef000"/><circle cx="767.4" cy="114.2" r="2.6" fill="#b3f000"/><circle cx="770.7" cy="114.2" r="2.6" fill="#05ec1e"/><circle cx="774.0" cy="114.2" r="2.6" fill="#02ec1f"/><circle cx="777.3" cy="114.2" r="2.6" fill="#01ec20"/><circle cx="780.6" cy="114.2" r="2.6" fill="#00ec20"/><circle cx="783.9" cy="114.2" r="2.6" fill="#54f000"/><circle cx="755.9" cy="117.1" r="2.6" fill="#ff7800"/><circle cx="759.2" cy="117.1" r="2.6" fill="#ff8f00"/><circle cx="762.5" cy="117.1" r="2.6" fill="#ffe800"/><circle cx="765.8" cy="117.1" r="2.6" fill="#fff500"/><circle cx="769.1" cy="117.1" r="2.6" fill="#aaf000"/><circle cx="772.4" cy="117.1" r="2.6" fill="#01ec20"/><circle cx="775.7" cy="117.1" r="2.6" fill="#1fee11"/><circle cx="779.0" cy="117.1" r="2.6" fill="#c6f000"/><circle cx="782.3" cy="117.1" r="2.6" fill="#ecf300"/><circle cx="785.6" cy="117.1" r="2.6" fill="#ff9000"/><circle cx="757.5" cy="120.0" r="2.6" fill="#ff1100"/><circle cx="760.8" cy="120.0" r="2.6" fill="#ff7f00"/><circle cx="764.1" cy="120.0" r="2.6" fill="#fff100"/><circle cx="767.4" cy="120.0" r="2.6" fill="#ffeb00"/><circle cx="770.7" cy="120.0" r="2.6" fill="#ffc600"/><circle cx="774.0" cy="120.0" r="2.6" fill="#ffda00"/><circle cx="777.3" cy="120.0" r="2.6" fill="#ffaf00"/><circle cx="780.6" cy="120.0" r="2.6" fill="#ffc300"/><circle cx="783.9" cy="120.0" r="2.6" fill="#ff9100"/><circle cx="787.2" cy="120.0" r="2.6" fill="#ff1700"/><circle cx="790.5" cy="120.0" r="2.6" fill="#ff1000"/><circle cx="759.2" cy="122.8" r="2.6" fill="#ff1d00"/><circle cx="762.5" cy="122.8" r="2.6" fill="#fff400"/><circle cx="765.8" cy="122.8" r="2.6" fill="#fff400"/><circle cx="769.1" cy="122.8" r="2.6" fill="#ffc500"/><circle cx="772.4" cy="122.8" r="2.6" fill="#ffc100"/><circle cx="775.7" cy="122.8" r="2.6" fill="#ff1000"/><circle cx="779.0" cy="122.8" r="2.6" fill="#ff5b00"/><circle cx="782.3" cy="122.8" r="2.6" fill="#ffa900"/><circle cx="757.5" cy="125.7" r="2.6" fill="#ff7200"/><circle cx="760.8" cy="125.7" r="2.6" fill="#ff9400"/><circle cx="764.1" cy="125.7" r="2.6" fill="#ffe300"/><circle cx="767.4" cy="125.7" r="2.6" fill="#ffc700"/><circle cx="770.7" cy="125.7" r="2.6" fill="#ff9b00"/><circle cx="774.0" cy="125.7" r="2.6" fill="#ff8700"/><circle cx="777.3" cy="125.7" r="2.6" fill="#ff2500"/><circle cx="759.2" cy="128.5" r="2.6" fill="#ff9000"/><circle cx="762.5" cy="128.5" r="2.6" fill="#ff9000"/><circle cx="765.8" cy="128.5" r="2.6" fill="#ffc300"/><circle cx="769.1" cy="128.5" r="2.6" fill="#ffbf00"/><circle cx="772.4" cy="128.5" r="2.6" fill="#ff9000"/><circle cx="775.7" cy="128.5" r="2.6" fill="#ff8e00"/><circle cx="760.8" cy="131.4" r="2.6" fill="#ff5600"/><circle cx="764.1" cy="131.4" r="2.6" fill="#ff1e00"/><circle cx="767.4" cy="131.4" r="2.6" fill="#ffbc00"/><circle cx="770.7" cy="131.4" r="2.6" fill="#ffa500"/><circle cx="776.4" cy="127.7" r="2.6" fill="#fff500"/><circle cx="781.1" cy="127.7" r="2.6" fill="#ff9000"/><circle cx="784.3" cy="128.1" r="2.6" fill="#ff9000"/><circle cx="787.4" cy="128.5" r="2.6" fill="#ff9000"/><circle cx="792.2" cy="128.5" r="2.6" fill="#ff5600"/><circle cx="740.0" cy="111.9" r="2.6" fill="#00e9ff"/><circle cx="741.6" cy="121.4" r="2.6" fill="#ff9000"/><circle cx="743.2" cy="121.4" r="2.6" fill="#00ec20"/><circle cx="747.9" cy="121.4" r="2.6" fill="#00ec20"/><circle cx="752.6" cy="115.1" r="2.6" fill="#ffc300"/><circle cx="752.6" cy="121.4" r="2.6" fill="#5af000"/><circle cx="748.7" cy="125.4" r="2.6" fill="#fff500"/><circle cx="779.5" cy="118.2" r="2.6" fill="#ff9cf9"/><circle cx="782.7" cy="119.8" r="2.6" fill="#ff9cf9"/><circle cx="845.9" cy="132.5" r="2.6" fill="#ff9cf9"/><circle cx="849.1" cy="134.1" r="2.6" fill="#ff9cf9"/><circle cx="779.5" cy="105.0" r="2.6" fill="#00ec20"/><circle cx="779.5" cy="107.0" r="2.6" fill="#00ec20"/><circle cx="782.7" cy="105.4" r="2.6" fill="#00ec20"/><circle cx="782.7" cy="107.4" r="2.6" fill="#00ec20"/><circle cx="785.8" cy="105.8" r="2.6" fill="#00ec20"/><circle cx="785.8" cy="107.8" r="2.6" fill="#00ec20"/><circle cx="789.0" cy="106.2" r="2.6" fill="#00ec20"/><circle cx="789.0" cy="108.2" r="2.6" fill="#00ec20"/><circle cx="792.2" cy="106.6" r="2.6" fill="#00ec20"/><circle cx="792.2" cy="108.5" r="2.6" fill="#00ec20"/><circle cx="804.2" cy="105.6" r="2.6" fill="#ffdc00"/><circle cx="805.7" cy="105.6" r="2.6" fill="#ffdc00"/><circle cx="804.2" cy="108.8" r="2.6" fill="#95f000"/><circle cx="805.9" cy="108.8" r="2.6" fill="#95f000"/><circle cx="804.2" cy="111.9" r="2.6" fill="#00ec20"/><circle cx="806.2" cy="111.9" r="2.6" fill="#00ec20"/><circle cx="805.0" cy="115.1" r="2.6" fill="#00ec20"/><circle cx="807.0" cy="115.1" r="2.6" fill="#00ec20"/><circle cx="805.8" cy="118.2" r="2.6" fill="#00ec20"/><circle cx="807.8" cy="118.2" r="2.6" fill="#00ec20"/><circle cx="809.0" cy="105.6" r="2.6" fill="#fff500"/><circle cx="810.1" cy="105.6" r="2.6" fill="#fff500"/><circle cx="809.2" cy="109.3" r="2.6" fill="#abf000"/><circle cx="810.4" cy="109.3" r="2.6" fill="#abf000"/><circle cx="809.5" cy="113.0" r="2.6" fill="#55f000"/><circle cx="810.7" cy="113.0" r="2.6" fill="#55f000"/><circle cx="809.8" cy="116.7" r="2.6" fill="#00ec20"/><circle cx="810.9" cy="116.7" r="2.6" fill="#00ec20"/><circle cx="814.5" cy="92.9" r="2.6" fill="#ff9cf9"/><circle cx="815.7" cy="92.9" r="2.6" fill="#ff9cf9"/><circle cx="814.5" cy="96.9" r="2.6" fill="#ff9000"/><circle cx="815.7" cy="96.9" r="2.6" fill="#ff9000"/><circle cx="814.7" cy="99.9" r="2.6" fill="#ffa800"/><circle cx="815.9" cy="99.9" r="2.6" fill="#ffa800"/><circle cx="814.9" cy="102.8" r="2.6" fill="#ffc000"/><circle cx="816.1" cy="102.8" r="2.6" fill="#ffc000"/><circle cx="815.1" cy="105.8" r="2.6" fill="#ffd900"/><circle cx="816.3" cy="105.8" r="2.6" fill="#ffd900"/><circle cx="815.3" cy="108.8" r="2.6" fill="#fff500"/><circle cx="816.5" cy="108.8" r="2.6" fill="#fff500"/><circle cx="815.3" cy="111.9" r="2.6" fill="#80f000"/><circle cx="816.5" cy="111.9" r="2.6" fill="#80f000"/><circle cx="815.3" cy="115.1" r="2.6" fill="#00ec20"/><circle cx="816.5" cy="115.1" r="2.6" fill="#00ec20"/><circle cx="821.6" cy="97.7" r="2.6" fill="#ff9000"/><circle cx="822.8" cy="97.7" r="2.6" fill="#ff9000"/><circle cx="821.4" cy="100.8" r="2.6" fill="#ffb000"/><circle cx="822.5" cy="100.8" r="2.6" fill="#ffb000"/><circle cx="821.1" cy="104.0" r="2.6" fill="#ffd000"/><circle cx="822.3" cy="104.0" r="2.6" fill="#ffd000"/><circle cx="820.8" cy="107.2" r="2.6" fill="#fff500"/><circle cx="822.0" cy="107.2" r="2.6" fill="#fff500"/><circle cx="821.2" cy="111.1" r="2.6" fill="#80f000"/><circle cx="822.4" cy="111.1" r="2.6" fill="#80f000"/><circle cx="821.6" cy="115.1" r="2.6" fill="#00ec20"/><circle cx="822.8" cy="115.1" r="2.6" fill="#00ec20"/><circle cx="826.3" cy="106.9" r="2.6" fill="#00ec20"/><circle cx="827.6" cy="106.6" r="2.6" fill="#00ec20"/><circle cx="827.1" cy="110.1" r="2.6" fill="#00e858"/><circle cx="828.6" cy="109.8" r="2.6" fill="#00e858"/><circle cx="827.9" cy="113.3" r="2.6" fill="#00e8a8"/><circle cx="829.7" cy="112.9" r="2.6" fill="#00e8a8"/><circle cx="828.7" cy="116.5" r="2.6" fill="#00e9ff"/><circle cx="830.7" cy="116.1" r="2.6" fill="#00e9ff"/><circle cx="834.5" cy="115.1" r="2.6" fill="#00dfff"/><circle cx="816.3" cy="118.0" r="2.6" fill="#00e858"/><circle cx="819.6" cy="118.0" r="2.6" fill="#00eae7"/><circle cx="822.9" cy="118.0" r="2.6" fill="#00d3ff"/><circle cx="826.2" cy="118.0" r="2.6" fill="#00dcff"/><circle cx="829.5" cy="118.0" r="2.6" fill="#00c8ff"/><circle cx="832.8" cy="118.0" r="2.6" fill="#005dff"/><circle cx="836.1" cy="118.0" r="2.6" fill="#0098ff"/><circle cx="811.4" cy="120.9" r="2.6" fill="#00ec20"/><circle cx="814.7" cy="120.9" r="2.6" fill="#00ec22"/><circle cx="818.0" cy="120.9" r="2.6" fill="#00ebfb"/><circle cx="821.3" cy="120.9" r="2.6" fill="#00e5ff"/><circle cx="824.6" cy="120.9" r="2.6" fill="#007aff"/><circle cx="827.9" cy="120.9" r="2.6" fill="#0066ff"/><circle cx="831.2" cy="120.9" r="2.6" fill="#043bff"/><circle cx="834.5" cy="120.9" r="2.6" fill="#0f21ff"/><circle cx="809.7" cy="123.7" r="2.6" fill="#1bee13"/><circle cx="813.0" cy="123.7" r="2.6" fill="#04ec1e"/><circle cx="816.3" cy="123.7" r="2.6" fill="#00e8c9"/><circle cx="819.6" cy="123.7" r="2.6" fill="#00e9ff"/><circle cx="822.9" cy="123.7" r="2.6" fill="#0077ff"/><circle cx="826.2" cy="123.7" r="2.6" fill="#005dff"/><circle cx="829.5" cy="123.7" r="2.6" fill="#0d24ff"/><circle cx="832.8" cy="123.7" r="2.6" fill="#0f21ff"/><circle cx="836.1" cy="123.7" r="2.6" fill="#0e22ff"/><circle cx="811.4" cy="126.6" r="2.6" fill="#ffcf00"/><circle cx="814.7" cy="126.6" r="2.6" fill="#ffd900"/><circle cx="818.0" cy="126.6" r="2.6" fill="#00e85f"/><circle cx="821.3" cy="126.6" r="2.6" fill="#0145ff"/><circle cx="824.6" cy="126.6" r="2.6" fill="#0057ff"/><circle cx="827.9" cy="126.6" r="2.6" fill="#004cff"/><circle cx="831.2" cy="126.6" r="2.6" fill="#0f21ff"/><circle cx="813.0" cy="129.4" r="2.6" fill="#ffc300"/><circle cx="816.3" cy="129.4" r="2.6" fill="#ff9200"/><circle cx="819.6" cy="129.4" r="2.6" fill="#00adff"/><circle cx="822.9" cy="129.4" r="2.6" fill="#0f21ff"/><circle cx="826.2" cy="129.4" r="2.6" fill="#0735ff"/><circle cx="789.4" cy="110.4" r="2.6" fill="#5bf000"/><circle cx="792.7" cy="110.4" r="2.6" fill="#34ef06"/><circle cx="796.0" cy="110.4" r="2.6" fill="#00ec20"/><circle cx="799.3" cy="110.4" r="2.6" fill="#1aee13"/><circle cx="784.4" cy="113.3" r="2.6" fill="#ff9000"/><circle cx="787.7" cy="113.3" r="2.6" fill="#caf100"/><circle cx="791.0" cy="113.3" r="2.6" fill="#5bf000"/><circle cx="794.3" cy="113.3" r="2.6" fill="#52f000"/><circle cx="797.6" cy="113.3" r="2.6" fill="#9df000"/><circle cx="786.1" cy="116.1" r="2.6" fill="#ff9100"/><circle cx="789.4" cy="116.1" r="2.6" fill="#ff7c00"/><circle cx="792.7" cy="116.1" r="2.6" fill="#ff2700"/><circle cx="796.0" cy="116.1" r="2.6" fill="#fff500"/><circle cx="799.3" cy="116.1" r="2.6" fill="#fff400"/><circle cx="787.7" cy="119.0" r="2.6" fill="#ff9000"/><circle cx="791.0" cy="119.0" r="2.6" fill="#ff1200"/><circle cx="794.3" cy="119.0" r="2.6" fill="#ff3500"/><circle cx="797.6" cy="119.0" r="2.6" fill="#ffe900"/><circle cx="800.9" cy="119.0" r="2.6" fill="#ffc600"/><circle cx="789.4" cy="121.8" r="2.6" fill="#ff8800"/><circle cx="792.7" cy="121.8" r="2.6" fill="#ff5e00"/><circle cx="796.0" cy="121.8" r="2.6" fill="#ff9800"/><circle cx="799.3" cy="121.8" r="2.6" fill="#ffc300"/><circle cx="794.3" cy="124.7" r="2.6" fill="#ff9000"/><circle cx="797.6" cy="124.7" r="2.6" fill="#ff9d00"/><circle cx="800.9" cy="124.7" r="2.6" fill="#0eed19"/><circle cx="814.4" cy="121.7" r="2.6" fill="#02ec1f"/><circle cx="817.7" cy="121.7" r="2.6" fill="#00ec20"/><circle cx="821.0" cy="121.7" r="2.6" fill="#00e84d"/><circle cx="824.3" cy="121.7" r="2.6" fill="#00e9ff"/><circle cx="827.6" cy="121.7" r="2.6" fill="#00e9ff"/><circle cx="830.9" cy="121.7" r="2.6" fill="#00c6ff"/><circle cx="834.2" cy="121.7" r="2.6" fill="#005eff"/><circle cx="837.5" cy="121.7" r="2.6" fill="#005dff"/><circle cx="816.0" cy="124.5" r="2.6" fill="#01ec20"/><circle cx="819.3" cy="124.5" r="2.6" fill="#00ec24"/><circle cx="822.6" cy="124.5" r="2.6" fill="#00eaff"/><circle cx="825.9" cy="124.5" r="2.6" fill="#00e5ff"/><circle cx="829.2" cy="124.5" r="2.6" fill="#00e2ff"/><circle cx="832.5" cy="124.5" r="2.6" fill="#0091ff"/><circle cx="835.8" cy="124.5" r="2.6" fill="#005eff"/><circle cx="814.4" cy="127.4" r="2.6" fill="#f9f400"/><circle cx="817.7" cy="127.4" r="2.6" fill="#44f000"/><circle cx="821.0" cy="127.4" r="2.6" fill="#0087ff"/><circle cx="824.3" cy="127.4" r="2.6" fill="#0062ff"/><circle cx="827.6" cy="127.4" r="2.6" fill="#00cdff"/><circle cx="830.9" cy="127.4" r="2.6" fill="#00e8ff"/><circle cx="834.2" cy="127.4" r="2.6" fill="#00d9ff"/><circle cx="812.7" cy="130.2" r="2.6" fill="#fff500"/><circle cx="816.0" cy="130.2" r="2.6" fill="#f9f500"/><circle cx="819.3" cy="130.2" r="2.6" fill="#00e3ff"/><circle cx="822.6" cy="130.2" r="2.6" fill="#005dff"/><circle cx="825.9" cy="130.2" r="2.6" fill="#006aff"/><circle cx="829.2" cy="130.2" r="2.6" fill="#00e8ff"/><circle cx="832.5" cy="130.2" r="2.6" fill="#00e9ff"/><circle cx="811.1" cy="133.1" r="2.6" fill="#fff000"/><circle cx="814.4" cy="133.1" r="2.6" fill="#aef000"/><circle cx="817.7" cy="133.1" r="2.6" fill="#00e873"/><circle cx="821.0" cy="133.1" r="2.6" fill="#00adff"/><circle cx="824.3" cy="133.1" r="2.6" fill="#0089ff"/><circle cx="827.6" cy="133.1" r="2.6" fill="#00eae8"/><circle cx="830.9" cy="133.1" r="2.6" fill="#00ebf5"/><circle cx="806.1" cy="135.9" r="2.6" fill="#ff9000"/><circle cx="809.4" cy="135.9" r="2.6" fill="#ff9300"/><circle cx="812.7" cy="135.9" r="2.6" fill="#6cf000"/><circle cx="816.0" cy="135.9" r="2.6" fill="#00ebff"/><circle cx="819.3" cy="135.9" r="2.6" fill="#00ebfc"/><circle cx="822.6" cy="135.9" r="2.6" fill="#00e8c2"/><circle cx="825.9" cy="135.9" r="2.6" fill="#00ea34"/><circle cx="829.2" cy="135.9" r="2.6" fill="#00eb28"/><circle cx="804.5" cy="138.8" r="2.6" fill="#ff9800"/><circle cx="807.8" cy="138.8" r="2.6" fill="#ff9000"/><circle cx="811.1" cy="138.8" r="2.6" fill="#ffc300"/><circle cx="814.4" cy="138.8" r="2.6" fill="#57f000"/><circle cx="817.7" cy="138.8" r="2.6" fill="#00eaff"/><circle cx="821.0" cy="138.8" r="2.6" fill="#00eaf0"/><circle cx="824.3" cy="138.8" r="2.6" fill="#00e897"/><circle cx="827.6" cy="138.8" r="2.6" fill="#00ec20"/><circle cx="802.8" cy="141.7" r="2.6" fill="#fff500"/><circle cx="806.1" cy="141.7" r="2.6" fill="#ffc600"/><circle cx="809.4" cy="141.7" r="2.6" fill="#ffc700"/><circle cx="812.7" cy="141.7" r="2.6" fill="#ffc400"/><circle cx="816.0" cy="141.7" r="2.6" fill="#2cef0a"/><circle cx="819.3" cy="141.7" r="2.6" fill="#00ebfb"/><circle cx="822.6" cy="141.7" r="2.6" fill="#00e9ff"/><circle cx="825.9" cy="141.7" r="2.6" fill="#00e8b6"/><circle cx="804.5" cy="144.5" r="2.6" fill="#b6f000"/><circle cx="807.8" cy="144.5" r="2.6" fill="#20ee10"/><circle cx="811.1" cy="144.5" r="2.6" fill="#00ea34"/><circle cx="814.4" cy="144.5" r="2.6" fill="#00ceff"/><circle cx="817.7" cy="144.5" r="2.6" fill="#0b2aff"/><circle cx="821.0" cy="144.5" r="2.6" fill="#00d6ff"/><circle cx="806.1" cy="147.4" r="2.6" fill="#00ec20"/><circle cx="809.4" cy="147.4" r="2.6" fill="#00a9ff"/><circle cx="812.7" cy="147.4" r="2.6" fill="#0f21ff"/><circle cx="816.0" cy="147.4" r="2.6" fill="#0f21ff"/><circle cx="819.3" cy="147.4" r="2.6" fill="#0e23ff"/><circle cx="807.8" cy="150.2" r="2.6" fill="#00eb30"/><circle cx="811.1" cy="150.2" r="2.6" fill="#0d25ff"/><circle cx="814.4" cy="150.2" r="2.6" fill="#0d25ff"/><circle cx="809.4" cy="153.1" r="2.6" fill="#00c2ff"/><circle cx="812.7" cy="153.1" r="2.6" fill="#0056ff"/><circle cx="811.1" cy="155.9" r="2.6" fill="#0063ff"/><circle cx="812.7" cy="158.8" r="2.6" fill="#00b9ff"/><circle cx="823.2" cy="150.0" r="2.6" fill="#ff9000"/><circle cx="829.6" cy="148.5" r="2.6" fill="#fff500"/><circle cx="834.3" cy="146.1" r="2.6" fill="#ff1000"/><circle cx="837.5" cy="150.0" r="2.6" fill="#ff1000"/><circle cx="842.2" cy="150.0" r="2.6" fill="#f600e8"/><circle cx="845.4" cy="150.0" r="2.6" fill="#ff1000"/><circle cx="850.1" cy="150.0" r="2.6" fill="#ffc300"/><circle cx="854.9" cy="149.2" r="2.6" fill="#fff500"/><circle cx="858.8" cy="148.5" r="2.6" fill="#ff1000"/><circle cx="826.4" cy="154.8" r="2.6" fill="#ff9000"/><circle cx="831.1" cy="153.2" r="2.6" fill="#ff9000"/><circle cx="826.4" cy="159.5" r="2.6" fill="#ff9000"/><circle cx="832.7" cy="158.7" r="2.6" fill="#b3f000"/><circle cx="839.1" cy="158.7" r="2.6" fill="#fff500"/><circle cx="843.8" cy="159.5" r="2.6" fill="#ff9000"/><circle cx="848.5" cy="158.7" r="2.6" fill="#5af000"/><circle cx="853.3" cy="157.9" r="2.6" fill="#00ec20"/><circle cx="856.4" cy="157.2" r="2.6" fill="#00ec20"/><circle cx="861.2" cy="155.6" r="2.6" fill="#ff9000"/><circle cx="863.6" cy="161.9" r="2.6" fill="#ff9000"/><circle cx="818.5" cy="154.8" r="2.6" fill="#ff9000"/><circle cx="831.1" cy="142.9" r="2.6" fill="#00ec20"/><circle cx="826.4" cy="140.6" r="2.6" fill="#00ec20"/><circle cx="858.2" cy="167.4" r="2.6" fill="#ff0053"/><circle cx="861.8" cy="167.4" r="2.6" fill="#ff9cf9"/><circle cx="858.5" cy="170.6" r="2.6" fill="#ff7d00"/><circle cx="862.3" cy="170.6" r="2.6" fill="#ff4600"/><circle cx="858.8" cy="173.8" r="2.6" fill="#f2f400"/><circle cx="862.8" cy="173.8" r="2.6" fill="#ffdf00"/><circle cx="859.0" cy="176.9" r="2.6" fill="#00ec20"/><circle cx="863.3" cy="176.9" r="2.6" fill="#00ec20"/><circle cx="859.6" cy="180.1" r="2.6" fill="#00e858"/><circle cx="863.9" cy="180.1" r="2.6" fill="#00e885"/><circle cx="860.1" cy="183.2" r="2.6" fill="#00e8a8"/><circle cx="864.4" cy="183.2" r="2.6" fill="#00e7ff"/><circle cx="860.6" cy="186.4" r="2.6" fill="#00e9ff"/><circle cx="864.9" cy="186.4" r="2.6" fill="#005dff"/><circle cx="861.0" cy="189.6" r="2.6" fill="#00c3ff"/><circle cx="865.1" cy="189.6" r="2.6" fill="#005dff"/><circle cx="861.4" cy="192.7" r="2.6" fill="#0090ff"/><circle cx="865.3" cy="192.7" r="2.6" fill="#005dff"/><circle cx="861.8" cy="195.9" r="2.6" fill="#0049ff"/><circle cx="865.5" cy="195.9" r="2.6" fill="#005dff"/><circle cx="862.2" cy="199.1" r="2.6" fill="#0f21ff"/><circle cx="865.7" cy="199.1" r="2.6" fill="#005dff"/><circle cx="784.6" cy="153.7" r="2.6" fill="#ff1000"/><circle cx="786.8" cy="155.1" r="2.6" fill="#ff1000"/><circle cx="782.5" cy="156.3" r="2.6" fill="#ff2600"/><circle cx="784.9" cy="157.5" r="2.6" fill="#ff4300"/><circle cx="780.4" cy="158.9" r="2.6" fill="#ff4000"/><circle cx="783.1" cy="159.9" r="2.6" fill="#ff6c00"/><circle cx="778.3" cy="161.4" r="2.6" fill="#ff5600"/><circle cx="781.2" cy="162.4" r="2.6" fill="#ff9000"/><circle cx="776.2" cy="164.6" r="2.6" fill="#ffb400"/><circle cx="779.1" cy="165.5" r="2.6" fill="#ffdc00"/><circle cx="774.1" cy="167.7" r="2.6" fill="#bcf000"/><circle cx="777.0" cy="168.7" r="2.6" fill="#95f000"/><circle cx="772.0" cy="170.9" r="2.6" fill="#00ec20"/><circle cx="774.9" cy="171.9" r="2.6" fill="#00ec20"/><circle cx="770.4" cy="174.1" r="2.6" fill="#00e858"/><circle cx="773.3" cy="175.0" r="2.6" fill="#00e940"/><circle cx="768.9" cy="177.2" r="2.6" fill="#00e8a8"/><circle cx="771.7" cy="178.2" r="2.6" fill="#00e86b"/><circle cx="767.3" cy="180.4" r="2.6" fill="#00e9ff"/><circle cx="770.1" cy="181.3" r="2.6" fill="#00e89c"/><circle cx="766.1" cy="184.3" r="2.6" fill="#00e884"/><circle cx="768.9" cy="185.0" r="2.6" fill="#00e850"/><circle cx="764.9" cy="188.1" r="2.6" fill="#00ec20"/><circle cx="767.7" cy="188.6" r="2.6" fill="#00ec20"/><circle cx="797.9" cy="183.2" r="2.6" fill="#0f20ff"/><circle cx="808.2" cy="177.7" r="2.6" fill="#00ec20"/><circle cx="820.1" cy="180.4" r="2.6" fill="#00ec20"/><circle cx="846.2" cy="132.6" r="2.6" fill="#ff9cf9"/><circle cx="847.0" cy="135.8" r="2.6" fill="#ff9cf9"/><circle cx="845.4" cy="131.1" r="2.6" fill="#ff9cf9"/><circle cx="761.6" cy="194.3" r="2.6" fill="#ff1000"/><circle cx="762.4" cy="197.5" r="2.6" fill="#ff1000"/><circle cx="863.5" cy="190.0" r="2.6" fill="#0f20ff"/><circle cx="866.2" cy="190.0" r="2.6" fill="#005dff"/><circle cx="863.9" cy="194.0" r="2.6" fill="#0090ff"/><circle cx="866.6" cy="194.0" r="2.6" fill="#00b2ff"/><circle cx="864.3" cy="197.9" r="2.6" fill="#00e9ff"/><circle cx="867.0" cy="197.9" r="2.6" fill="#00e9ff"/><circle cx="865.1" cy="200.6" r="2.6" fill="#00e8a8"/><circle cx="867.8" cy="201.0" r="2.6" fill="#00ea33"/><circle cx="865.8" cy="203.4" r="2.6" fill="#00e858"/><circle cx="868.6" cy="204.0" r="2.6" fill="#a0f000"/><circle cx="866.6" cy="206.1" r="2.6" fill="#00ec20"/><circle cx="869.4" cy="207.1" r="2.6" fill="#ffc300"/><circle cx="864.8" cy="209.3" r="2.6" fill="#95f000"/><circle cx="868.1" cy="210.3" r="2.6" fill="#ff9f00"/><circle cx="862.9" cy="212.4" r="2.6" fill="#ffdc00"/><circle cx="866.8" cy="213.4" r="2.6" fill="#ff7b00"/><circle cx="861.1" cy="215.5" r="2.6" fill="#ff9000"/><circle cx="865.5" cy="216.6" r="2.6" fill="#ff5600"/><circle cx="859.5" cy="218.7" r="2.6" fill="#ff7d00"/><circle cx="863.4" cy="219.8" r="2.6" fill="#ff6a00"/><circle cx="857.9" cy="221.9" r="2.6" fill="#ff6a00"/><circle cx="861.3" cy="222.9" r="2.6" fill="#ff7d00"/><circle cx="856.3" cy="225.1" r="2.6" fill="#ff5600"/><circle cx="859.2" cy="226.0" r="2.6" fill="#ff9000"/><circle cx="855.8" cy="228.2" r="2.6" fill="#ff7b00"/><circle cx="858.4" cy="228.8" r="2.6" fill="#ffdc00"/><circle cx="855.3" cy="231.2" r="2.6" fill="#ff9f00"/><circle cx="857.6" cy="231.5" r="2.6" fill="#95f000"/><circle cx="854.8" cy="234.3" r="2.6" fill="#ffc300"/><circle cx="856.7" cy="234.3" r="2.6" fill="#00ec20"/><circle cx="836.9" cy="220.9" r="2.6" fill="#ff1000"/><circle cx="840.2" cy="220.9" r="2.6" fill="#f700e4"/><circle cx="843.5" cy="220.9" r="2.6" fill="#ff0500"/><circle cx="846.8" cy="220.9" r="2.6" fill="#ff4200"/><circle cx="850.1" cy="220.9" r="2.6" fill="#f1f400"/><circle cx="853.4" cy="220.9" r="2.6" fill="#68f000"/><circle cx="835.2" cy="223.8" r="2.6" fill="#ff2200"/><circle cx="838.5" cy="223.8" r="2.6" fill="#ff000a"/><circle cx="841.8" cy="223.8" r="2.6" fill="#fe00cd"/><circle cx="845.1" cy="223.8" r="2.6" fill="#ff5300"/><circle cx="848.4" cy="223.8" r="2.6" fill="#ffe300"/><circle cx="851.7" cy="223.8" r="2.6" fill="#85f000"/><circle cx="855.0" cy="223.8" r="2.6" fill="#ffe000"/><circle cx="833.6" cy="226.6" r="2.6" fill="#c3f000"/><circle cx="836.9" cy="226.6" r="2.6" fill="#ff1000"/><circle cx="840.2" cy="226.6" r="2.6" fill="#c2f000"/><circle cx="843.5" cy="226.6" r="2.6" fill="#2eef09"/><circle cx="846.8" cy="226.6" r="2.6" fill="#02ec1f"/><circle cx="850.1" cy="226.6" r="2.6" fill="#0ded1a"/><circle cx="853.4" cy="226.6" r="2.6" fill="#13ed16"/><circle cx="856.7" cy="226.6" r="2.6" fill="#ffb300"/><circle cx="828.6" cy="229.5" r="2.6" fill="#07ec1c"/><circle cx="831.9" cy="229.5" r="2.6" fill="#02ec1f"/><circle cx="835.2" cy="229.5" r="2.6" fill="#ffba00"/><circle cx="838.5" cy="229.5" r="2.6" fill="#02ec1f"/><circle cx="841.8" cy="229.5" r="2.6" fill="#07ec1d"/><circle cx="845.1" cy="229.5" r="2.6" fill="#01ec20"/><circle cx="848.4" cy="229.5" r="2.6" fill="#09ed1c"/><circle cx="851.7" cy="229.5" r="2.6" fill="#0aed1b"/><circle cx="855.0" cy="229.5" r="2.6" fill="#ff9000"/><circle cx="830.3" cy="232.3" r="2.6" fill="#00eb2e"/><circle cx="833.6" cy="232.3" r="2.6" fill="#00e88c"/><circle cx="836.9" cy="232.3" r="2.6" fill="#00e946"/><circle cx="840.2" cy="232.3" r="2.6" fill="#00ea34"/><circle cx="843.5" cy="232.3" r="2.6" fill="#00e948"/><circle cx="846.8" cy="232.3" r="2.6" fill="#00ec21"/><circle cx="850.1" cy="232.3" r="2.6" fill="#03ec1f"/><circle cx="853.4" cy="232.3" r="2.6" fill="#e0f300"/><circle cx="856.7" cy="232.3" r="2.6" fill="#ffd800"/><circle cx="828.6" cy="235.2" r="2.6" fill="#00ec22"/><circle cx="831.9" cy="235.2" r="2.6" fill="#00e87d"/><circle cx="835.2" cy="235.2" r="2.6" fill="#00e9ff"/><circle cx="838.5" cy="235.2" r="2.6" fill="#00e8a9"/><circle cx="841.8" cy="235.2" r="2.6" fill="#00e89c"/><circle cx="845.1" cy="235.2" r="2.6" fill="#00e874"/><circle cx="848.4" cy="235.2" r="2.6" fill="#00ec20"/><circle cx="851.7" cy="235.2" r="2.6" fill="#00eb26"/><circle cx="855.0" cy="235.2" r="2.6" fill="#00ec20"/><circle cx="830.3" cy="238.0" r="2.6" fill="#00ec20"/><circle cx="833.6" cy="238.0" r="2.6" fill="#00e9d3"/><circle cx="836.9" cy="238.0" r="2.6" fill="#00b0ff"/><circle cx="840.2" cy="238.0" r="2.6" fill="#00e8c0"/><circle cx="843.5" cy="238.0" r="2.6" fill="#008bff"/><circle cx="846.8" cy="238.0" r="2.6" fill="#00acff"/><circle cx="850.1" cy="238.0" r="2.6" fill="#00a8ff"/><circle cx="853.4" cy="238.0" r="2.6" fill="#00e894"/><circle cx="828.6" cy="240.9" r="2.6" fill="#13ed16"/><circle cx="831.9" cy="240.9" r="2.6" fill="#00ea37"/><circle cx="835.2" cy="240.9" r="2.6" fill="#007cff"/><circle cx="838.5" cy="240.9" r="2.6" fill="#005dff"/><circle cx="841.8" cy="240.9" r="2.6" fill="#092eff"/><circle cx="845.1" cy="240.9" r="2.6" fill="#0f21ff"/><circle cx="848.4" cy="240.9" r="2.6" fill="#005eff"/><circle cx="851.7" cy="240.9" r="2.6" fill="#005fff"/><circle cx="855.0" cy="240.9" r="2.6" fill="#00e9ff"/><circle cx="827.0" cy="243.8" r="2.6" fill="#9ef000"/><circle cx="830.3" cy="243.8" r="2.6" fill="#0aed1b"/><circle cx="833.6" cy="243.8" r="2.6" fill="#00ebfa"/><circle cx="836.9" cy="243.8" r="2.6" fill="#0067ff"/><circle cx="840.2" cy="243.8" r="2.6" fill="#0057ff"/><circle cx="843.5" cy="243.8" r="2.6" fill="#0d27ff"/><circle cx="846.8" cy="243.8" r="2.6" fill="#0636ff"/><circle cx="850.1" cy="243.8" r="2.6" fill="#0064ff"/><circle cx="853.4" cy="243.8" r="2.6" fill="#00b2ff"/><circle cx="831.9" cy="246.6" r="2.6" fill="#00e853"/><circle cx="835.2" cy="246.6" r="2.6" fill="#005eff"/><circle cx="838.5" cy="246.6" r="2.6" fill="#005fff"/><circle cx="841.8" cy="246.6" r="2.6" fill="#0c28ff"/><circle cx="845.1" cy="246.6" r="2.6" fill="#0f21ff"/><circle cx="848.4" cy="246.6" r="2.6" fill="#0061ff"/><circle cx="851.7" cy="246.6" r="2.6" fill="#005eff"/><circle cx="855.0" cy="246.6" r="2.6" fill="#008fff"/><circle cx="836.9" cy="249.5" r="2.6" fill="#0069ff"/><circle cx="840.2" cy="249.5" r="2.6" fill="#00dfff"/><circle cx="843.5" cy="249.5" r="2.6" fill="#005dff"/><circle cx="846.8" cy="249.5" r="2.6" fill="#00c7ff"/><circle cx="850.1" cy="249.5" r="2.6" fill="#00daff"/><circle cx="853.4" cy="249.5" r="2.6" fill="#0094ff"/><circle cx="814.0" cy="244.6" r="2.6" fill="#ffe600"/><circle cx="817.3" cy="244.6" r="2.6" fill="#fff500"/><circle cx="820.6" cy="244.6" r="2.6" fill="#fef500"/><circle cx="805.7" cy="247.5" r="2.6" fill="#ff9000"/><circle cx="809.0" cy="247.5" r="2.6" fill="#ffb000"/><circle cx="812.3" cy="247.5" r="2.6" fill="#ffd800"/><circle cx="815.6" cy="247.5" r="2.6" fill="#c9f100"/><circle cx="818.9" cy="247.5" r="2.6" fill="#acf000"/><circle cx="822.2" cy="247.5" r="2.6" fill="#ddf200"/><circle cx="825.5" cy="247.5" r="2.6" fill="#0bed1a"/><circle cx="828.8" cy="247.5" r="2.6" fill="#00eb29"/><circle cx="790.9" cy="250.3" r="2.6" fill="#fb00d6"/><circle cx="794.2" cy="250.3" r="2.6" fill="#f600e7"/><circle cx="797.5" cy="250.3" r="2.6" fill="#ff00a9"/><circle cx="800.8" cy="250.3" r="2.6" fill="#f600e6"/><circle cx="804.1" cy="250.3" r="2.6" fill="#ff6000"/><circle cx="807.4" cy="250.3" r="2.6" fill="#67f000"/><circle cx="810.7" cy="250.3" r="2.6" fill="#008eff"/><circle cx="814.0" cy="250.3" r="2.6" fill="#0065ff"/><circle cx="817.3" cy="250.3" r="2.6" fill="#00ebf8"/><circle cx="820.6" cy="250.3" r="2.6" fill="#00e8ba"/><circle cx="823.9" cy="250.3" r="2.6" fill="#00eae5"/><circle cx="827.2" cy="250.3" r="2.6" fill="#00e8b0"/><circle cx="830.5" cy="250.3" r="2.6" fill="#00e9ff"/><circle cx="833.8" cy="250.3" r="2.6" fill="#00e9ff"/><circle cx="785.9" cy="253.2" r="2.6" fill="#ff5d00"/><circle cx="789.2" cy="253.2" r="2.6" fill="#ff6a00"/><circle cx="792.5" cy="253.2" r="2.6" fill="#ff009b"/><circle cx="795.8" cy="253.2" r="2.6" fill="#ff3400"/><circle cx="799.1" cy="253.2" r="2.6" fill="#00e84d"/><circle cx="802.4" cy="253.2" r="2.6" fill="#07ec1d"/><circle cx="805.7" cy="253.2" r="2.6" fill="#0d25ff"/><circle cx="809.0" cy="253.2" r="2.6" fill="#0831ff"/><circle cx="812.3" cy="253.2" r="2.6" fill="#0f21ff"/><circle cx="815.6" cy="253.2" r="2.6" fill="#00dbff"/><circle cx="818.9" cy="253.2" r="2.6" fill="#00e9ff"/><circle cx="822.2" cy="253.2" r="2.6" fill="#00e9ff"/><circle cx="825.5" cy="253.2" r="2.6" fill="#00e9ff"/><circle cx="828.8" cy="253.2" r="2.6" fill="#00ebfe"/><circle cx="832.1" cy="253.2" r="2.6" fill="#00e9ff"/><circle cx="790.9" cy="256.0" r="2.6" fill="#0ded1a"/><circle cx="794.2" cy="256.0" r="2.6" fill="#7af000"/><circle cx="797.5" cy="256.0" r="2.6" fill="#0831ff"/><circle cx="800.8" cy="256.0" r="2.6" fill="#0f21ff"/><circle cx="804.1" cy="256.0" r="2.6" fill="#0c29ff"/><circle cx="807.4" cy="256.0" r="2.6" fill="#0f21ff"/><circle cx="810.7" cy="256.0" r="2.6" fill="#043cff"/><circle cx="814.0" cy="256.0" r="2.6" fill="#0242ff"/><circle cx="817.3" cy="256.0" r="2.6" fill="#00e4ff"/><circle cx="820.6" cy="256.0" r="2.6" fill="#00eaff"/><circle cx="823.9" cy="256.0" r="2.6" fill="#00e9ff"/><circle cx="827.2" cy="256.0" r="2.6" fill="#00e9ff"/><circle cx="830.5" cy="256.0" r="2.6" fill="#00eaff"/><circle cx="792.5" cy="258.9" r="2.6" fill="#00e8c1"/><circle cx="795.8" cy="258.9" r="2.6" fill="#00d0ff"/><circle cx="799.1" cy="258.9" r="2.6" fill="#0c27ff"/><circle cx="802.4" cy="258.9" r="2.6" fill="#0c28ff"/><circle cx="805.7" cy="258.9" r="2.6" fill="#0e24ff"/><circle cx="809.0" cy="258.9" r="2.6" fill="#005cff"/><circle cx="812.3" cy="258.9" r="2.6" fill="#005eff"/><circle cx="815.6" cy="258.9" r="2.6" fill="#00d5ff"/><circle cx="818.9" cy="258.9" r="2.6" fill="#00e9ff"/><circle cx="822.2" cy="258.9" r="2.6" fill="#00ebfc"/><circle cx="825.5" cy="258.9" r="2.6" fill="#00e9ff"/><circle cx="828.8" cy="258.9" r="2.6" fill="#00e9ff"/><circle cx="790.9" cy="261.8" r="2.6" fill="#00e9dd"/><circle cx="794.2" cy="261.8" r="2.6" fill="#00ea3d"/><circle cx="797.5" cy="261.8" r="2.6" fill="#00e8ac"/><circle cx="800.8" cy="261.8" r="2.6" fill="#006eff"/><circle cx="804.1" cy="261.8" r="2.6" fill="#0f21ff"/><circle cx="807.4" cy="261.8" r="2.6" fill="#0831ff"/><circle cx="810.7" cy="261.8" r="2.6" fill="#007bff"/><circle cx="814.0" cy="261.8" r="2.6" fill="#00bcff"/><circle cx="817.3" cy="261.8" r="2.6" fill="#00eaf4"/><circle cx="820.6" cy="261.8" r="2.6" fill="#00e8be"/><circle cx="823.9" cy="261.8" r="2.6" fill="#00e8bf"/><circle cx="792.5" cy="264.6" r="2.6" fill="#00ec20"/><circle cx="795.8" cy="264.6" r="2.6" fill="#00ec21"/><circle cx="799.1" cy="264.6" r="2.6" fill="#00ea33"/><circle cx="802.4" cy="264.6" r="2.6" fill="#00e84e"/><circle cx="805.7" cy="264.6" r="2.6" fill="#009fff"/><circle cx="809.0" cy="264.6" r="2.6" fill="#00eb2a"/><circle cx="812.3" cy="264.6" r="2.6" fill="#00ec22"/><circle cx="815.6" cy="264.6" r="2.6" fill="#00e87d"/><circle cx="818.9" cy="264.6" r="2.6" fill="#00e89c"/><circle cx="797.5" cy="267.5" r="2.6" fill="#00ec23"/><circle cx="800.8" cy="267.5" r="2.6" fill="#00ec20"/><circle cx="804.1" cy="267.5" r="2.6" fill="#00ec23"/><circle cx="807.4" cy="267.5" r="2.6" fill="#00ea36"/><circle cx="810.7" cy="267.5" r="2.6" fill="#00ec20"/><circle cx="814.0" cy="267.5" r="2.6" fill="#00eb26"/><circle cx="789.0" cy="214.5" r="2.6" fill="#f600e8"/><circle cx="793.7" cy="212.9" r="2.6" fill="#ff9cf9"/><circle cx="798.5" cy="211.3" r="2.6" fill="#f600e8"/><circle cx="803.2" cy="210.6" r="2.6" fill="#ff1000"/><circle cx="807.9" cy="213.7" r="2.6" fill="#ff1000"/><circle cx="808.7" cy="215.3" r="2.6" fill="#ff5600"/><circle cx="823.8" cy="213.7" r="2.6" fill="#ff9000"/><circle cx="826.1" cy="215.3" r="2.6" fill="#ff9000"/><circle cx="776.3" cy="227.9" r="2.6" fill="#ff9000"/><circle cx="781.1" cy="227.2" r="2.6" fill="#ff9000"/><circle cx="785.8" cy="225.6" r="2.6" fill="#ff9000"/><circle cx="789.0" cy="225.2" r="2.6" fill="#ff9000"/><circle cx="792.1" cy="224.8" r="2.6" fill="#ff9000"/><circle cx="773.2" cy="232.7" r="2.6" fill="#ff1000"/><circle cx="776.3" cy="232.7" r="2.6" fill="#ff1000"/><circle cx="779.5" cy="232.7" r="2.6" fill="#ff1000"/><circle cx="784.2" cy="231.9" r="2.6" fill="#f600e8"/><circle cx="788.2" cy="231.1" r="2.6" fill="#f600e8"/><circle cx="792.1" cy="230.3" r="2.6" fill="#ff1000"/><circle cx="774.7" cy="237.4" r="2.6" fill="#ff9cf9"/><circle cx="777.9" cy="237.4" r="2.6" fill="#ff9cf9"/><circle cx="770.0" cy="243.8" r="2.6" fill="#00e9ff"/><circle cx="773.2" cy="243.8" r="2.6" fill="#00ec20"/><circle cx="774.7" cy="248.5" r="2.6" fill="#ffc300"/><circle cx="777.9" cy="250.1" r="2.6" fill="#ff9000"/><circle cx="771.6" cy="253.2" r="2.6" fill="#00ec20"/><circle cx="776.3" cy="253.2" r="2.6" fill="#fff500"/><circle cx="797.4" cy="272.0" r="2.6" fill="#ff1000"/><circle cx="797.7" cy="272.6" r="2.6" fill="#ff1000"/><circle cx="798.1" cy="273.3" r="2.6" fill="#ff1000"/><circle cx="800.1" cy="270.8" r="2.6" fill="#ff7600"/><circle cx="800.5" cy="271.8" r="2.6" fill="#ff5600"/><circle cx="800.9" cy="272.7" r="2.6" fill="#ff2000"/><circle cx="802.8" cy="269.6" r="2.6" fill="#ffca00"/><circle cx="803.2" cy="270.9" r="2.6" fill="#ff8a00"/><circle cx="803.7" cy="272.1" r="2.6" fill="#ff3300"/><circle cx="805.5" cy="268.5" r="2.6" fill="#a6f000"/><circle cx="806.0" cy="270.0" r="2.6" fill="#ffbd00"/><circle cx="806.5" cy="271.5" r="2.6" fill="#ff4600"/><circle cx="808.3" cy="267.3" r="2.6" fill="#00ec20"/><circle cx="808.8" cy="269.1" r="2.6" fill="#fff500"/><circle cx="809.3" cy="270.9" r="2.6" fill="#ff5600"/><circle cx="811.9" cy="266.2" r="2.6" fill="#00e885"/><circle cx="812.5" cy="268.0" r="2.6" fill="#abf000"/><circle cx="813.0" cy="269.8" r="2.6" fill="#ff4000"/><circle cx="815.6" cy="265.2" r="2.6" fill="#00e7ff"/><circle cx="816.2" cy="267.0" r="2.6" fill="#55f000"/><circle cx="816.7" cy="268.8" r="2.6" fill="#ff2600"/><circle cx="819.3" cy="264.1" r="2.6" fill="#005dff"/><circle cx="819.8" cy="265.9" r="2.6" fill="#00ec20"/><circle cx="820.4" cy="267.7" r="2.6" fill="#ff1000"/><circle cx="823.0" cy="263.1" r="2.6" fill="#009aff"/><circle cx="823.4" cy="264.7" r="2.6" fill="#00eb2f"/><circle cx="823.8" cy="266.4" r="2.6" fill="#ff8300"/><circle cx="826.6" cy="262.0" r="2.6" fill="#00c6ff"/><circle cx="827.0" cy="263.6" r="2.6" fill="#00e93e"/><circle cx="827.3" cy="265.1" r="2.6" fill="#ffe600"/><circle cx="830.3" cy="261.0" r="2.6" fill="#00e9ff"/><circle cx="830.5" cy="262.4" r="2.6" fill="#00e84e"/><circle cx="830.7" cy="263.8" r="2.6" fill="#5af000"/><circle cx="803.2" cy="261.6" r="2.6" fill="#0f20ff"/><circle cx="809.6" cy="263.2" r="2.6" fill="#0f20ff"/><circle cx="760.7" cy="232.6" r="2.6" fill="#ffc300"/><circle cx="763.8" cy="229.5" r="2.6" fill="#ffc300"/><circle cx="767.8" cy="231.1" r="2.6" fill="#ff1000"/><circle cx="763.8" cy="242.1" r="2.6" fill="#00ec20"/><circle cx="767.0" cy="239.0" r="2.6" fill="#00ec20"/><circle cx="760.7" cy="251.6" r="2.6" fill="#ffc300"/><circle cx="765.4" cy="250.0" r="2.6" fill="#00ec20"/><circle cx="768.6" cy="246.9" r="2.6" fill="#ff9000"/><circle cx="762.3" cy="239.0" r="2.6" fill="#00e9ff"/><circle cx="767.0" cy="235.8" r="2.6" fill="#ff9000"/><circle cx="653.2" cy="288.0" r="2.6" fill="#00ec20"/><circle cx="656.3" cy="287.2" r="2.6" fill="#00e9ff"/><circle cx="659.5" cy="288.0" r="2.6" fill="#005dff"/><circle cx="661.1" cy="293.5" r="2.6" fill="#0f20ff"/><circle cx="651.6" cy="294.3" r="2.6" fill="#00e9ff"/><circle cx="654.7" cy="292.7" r="2.6" fill="#00ec20"/><circle cx="653.2" cy="297.5" r="2.6" fill="#005dff"/><circle cx="655.7" cy="308.3" r="2.6" fill="#00ec20"/><circle cx="659.1" cy="308.6" r="2.6" fill="#00e884"/><circle cx="662.4" cy="308.9" r="2.6" fill="#00e9ff"/><circle cx="655.2" cy="311.2" r="2.6" fill="#73f000"/><circle cx="658.4" cy="311.5" r="2.6" fill="#3ef001"/><circle cx="661.7" cy="311.8" r="2.6" fill="#09ed1c"/><circle cx="654.7" cy="314.1" r="2.6" fill="#e6f300"/><circle cx="657.8" cy="314.4" r="2.6" fill="#e5f300"/><circle cx="660.9" cy="314.7" r="2.6" fill="#e4f300"/><circle cx="654.2" cy="317.0" r="2.6" fill="#ffc300"/><circle cx="657.1" cy="317.3" r="2.6" fill="#ffaa00"/><circle cx="660.1" cy="317.6" r="2.6" fill="#ff9000"/><circle cx="657.3" cy="319.9" r="2.6" fill="#ff8d00"/><circle cx="661.7" cy="321.0" r="2.6" fill="#ff2700"/><circle cx="660.4" cy="322.9" r="2.6" fill="#ff5600"/><circle cx="663.3" cy="324.3" r="2.6" fill="#f600e8"/><circle cx="664.1" cy="324.7" r="2.6" fill="#ff3300"/><circle cx="665.9" cy="326.1" r="2.6" fill="#ff2700"/><circle cx="667.8" cy="326.5" r="2.6" fill="#ff1000"/><circle cx="668.5" cy="327.8" r="2.6" fill="#ff9000"/><circle cx="692.2" cy="335.3" r="2.6" fill="#ff3300"/><circle cx="696.2" cy="335.7" r="2.6" fill="#ff1000"/><circle cx="650.0" cy="310.6" r="2.6" fill="#ff9000"/><circle cx="651.6" cy="313.7" r="2.6" fill="#ff5600"/><circle cx="650.0" cy="307.4" r="2.6" fill="#ffc300"/><circle cx="654.7" cy="294.0" r="2.6" fill="#00e9ff"/><circle cx="660.3" cy="294.0" r="2.6" fill="#0f20ff"/><circle cx="650.0" cy="294.7" r="2.6" fill="#00e9ff"/><circle cx="721.1" cy="356.4" r="2.6" fill="#ff1000"/><circle cx="721.1" cy="360.4" r="2.6" fill="#f600e8"/><circle cx="726.7" cy="358.8" r="2.6" fill="#ff9cf9"/><circle cx="722.7" cy="363.5" r="2.6" fill="#ff9cf9"/><circle cx="727.5" cy="362.7" r="2.6" fill="#ff9cf9"/><circle cx="634.2" cy="217.2" r="2.6" fill="#00ec20"/><circle cx="625.9" cy="220.1" r="2.6" fill="#64f000"/><circle cx="629.2" cy="220.1" r="2.6" fill="#5bf000"/><circle cx="632.5" cy="220.1" r="2.6" fill="#a0f000"/><circle cx="614.4" cy="222.9" r="2.6" fill="#ff98f8"/><circle cx="617.7" cy="222.9" r="2.6" fill="#f600e7"/><circle cx="621.0" cy="222.9" r="2.6" fill="#ff8c00"/><circle cx="624.3" cy="222.9" r="2.6" fill="#ff9600"/><circle cx="627.6" cy="222.9" r="2.6" fill="#fff200"/><circle cx="630.9" cy="222.9" r="2.6" fill="#fff300"/><circle cx="634.2" cy="222.9" r="2.6" fill="#fff500"/><circle cx="609.4" cy="225.8" r="2.6" fill="#ff0019"/><circle cx="612.7" cy="225.8" r="2.6" fill="#f717ed"/><circle cx="616.0" cy="225.8" r="2.6" fill="#ff1d00"/><circle cx="619.3" cy="225.8" r="2.6" fill="#ff6b00"/><circle cx="622.6" cy="225.8" r="2.6" fill="#ff9000"/><circle cx="625.9" cy="225.8" r="2.6" fill="#ffbf00"/><circle cx="629.2" cy="225.8" r="2.6" fill="#ffc300"/><circle cx="632.5" cy="225.8" r="2.6" fill="#ffc600"/><circle cx="604.5" cy="228.7" r="2.6" fill="#ff1e00"/><circle cx="607.8" cy="228.7" r="2.6" fill="#ff1000"/><circle cx="611.1" cy="228.7" r="2.6" fill="#ff1000"/><circle cx="614.4" cy="228.7" r="2.6" fill="#ff5600"/><circle cx="617.7" cy="228.7" r="2.6" fill="#ff5700"/><circle cx="621.0" cy="228.7" r="2.6" fill="#ff9000"/><circle cx="624.3" cy="228.7" r="2.6" fill="#ff9500"/><circle cx="627.6" cy="228.7" r="2.6" fill="#ffea00"/><circle cx="630.9" cy="228.7" r="2.6" fill="#ffd100"/><circle cx="599.5" cy="231.5" r="2.6" fill="#fcf500"/><circle cx="602.8" cy="231.5" r="2.6" fill="#fff100"/><circle cx="606.1" cy="231.5" r="2.6" fill="#ff2500"/><circle cx="609.4" cy="231.5" r="2.6" fill="#ff1000"/><circle cx="612.7" cy="231.5" r="2.6" fill="#ff007a"/><circle cx="616.0" cy="231.5" r="2.6" fill="#ff1a00"/><circle cx="619.3" cy="231.5" r="2.6" fill="#ff8200"/><circle cx="622.6" cy="231.5" r="2.6" fill="#ff9000"/><circle cx="625.9" cy="231.5" r="2.6" fill="#ffdf00"/><circle cx="638.8" cy="203.7" r="2.6" fill="#ff9cf9"/><circle cx="639.6" cy="208.5" r="2.6" fill="#ff9cf9"/><circle cx="615.1" cy="240.1" r="2.6" fill="#f600e8"/><circle cx="611.9" cy="244.8" r="2.6" fill="#ff9000"/><circle cx="619.0" cy="244.8" r="2.6" fill="#ff9000"/><circle cx="615.8" cy="244.0" r="2.6" fill="#ff1000"/><circle cx="612.9" cy="273.2" r="2.6" fill="#ff9000"/><circle cx="613.8" cy="273.2" r="2.6" fill="#ff9000"/><circle cx="614.7" cy="273.2" r="2.6" fill="#ff9000"/><circle cx="615.6" cy="273.2" r="2.6" fill="#ff9000"/><circle cx="612.9" cy="276.6" r="2.6" fill="#ff9000"/><circle cx="614.5" cy="276.6" r="2.6" fill="#ffb000"/><circle cx="616.1" cy="276.6" r="2.6" fill="#ffdc00"/><circle cx="617.7" cy="276.6" r="2.6" fill="#ffdc00"/><circle cx="612.9" cy="280.0" r="2.6" fill="#ff9000"/><circle cx="615.2" cy="280.0" r="2.6" fill="#ffd000"/><circle cx="617.5" cy="280.0" r="2.6" fill="#95f000"/><circle cx="619.9" cy="280.0" r="2.6" fill="#95f000"/><circle cx="612.9" cy="283.5" r="2.6" fill="#ff9000"/><circle cx="615.9" cy="283.5" r="2.6" fill="#fff500"/><circle cx="618.9" cy="283.5" r="2.6" fill="#00ec20"/><circle cx="622.0" cy="283.5" r="2.6" fill="#00ec20"/><circle cx="613.7" cy="286.6" r="2.6" fill="#ff9000"/><circle cx="616.2" cy="286.6" r="2.6" fill="#ffe200"/><circle cx="618.8" cy="286.6" r="2.6" fill="#50f000"/><circle cx="621.4" cy="286.6" r="2.6" fill="#40f000"/><circle cx="614.5" cy="289.8" r="2.6" fill="#ff9000"/><circle cx="616.6" cy="289.8" r="2.6" fill="#ffd000"/><circle cx="618.7" cy="289.8" r="2.6" fill="#a0f000"/><circle cx="620.8" cy="289.8" r="2.6" fill="#80f000"/><circle cx="615.3" cy="292.9" r="2.6" fill="#ff9000"/><circle cx="616.9" cy="292.9" r="2.6" fill="#ffc000"/><circle cx="618.5" cy="292.9" r="2.6" fill="#eff400"/><circle cx="620.2" cy="292.9" r="2.6" fill="#c0f000"/><circle cx="616.1" cy="296.1" r="2.6" fill="#ff9000"/><circle cx="617.2" cy="296.1" r="2.6" fill="#ffb000"/><circle cx="618.4" cy="296.1" r="2.6" fill="#ffd000"/><circle cx="619.6" cy="296.1" r="2.6" fill="#fff500"/><circle cx="618.4" cy="307.3" r="2.6" fill="#f600e8"/><circle cx="622.2" cy="308.0" r="2.6" fill="#00ec20"/><circle cx="625.9" cy="308.6" r="2.6" fill="#0f20ff"/><circle cx="619.9" cy="303.8" r="2.6" fill="#ff6100"/><circle cx="623.2" cy="305.1" r="2.6" fill="#00e858"/><circle cx="626.6" cy="306.3" r="2.6" fill="#0f20ff"/><circle cx="621.4" cy="300.3" r="2.6" fill="#ffec00"/><circle cx="624.3" cy="302.2" r="2.6" fill="#00e8a8"/><circle cx="627.2" cy="304.0" r="2.6" fill="#0f20ff"/><circle cx="622.9" cy="296.8" r="2.6" fill="#00ec20"/><circle cx="624.5" cy="298.5" r="2.6" fill="#00e8a8"/><circle cx="626.2" cy="300.1" r="2.6" fill="#00b3ff"/><circle cx="627.8" cy="301.7" r="2.6" fill="#0f20ff"/><circle cx="624.7" cy="292.9" r="2.6" fill="#00ec20"/><circle cx="626.0" cy="295.4" r="2.6" fill="#00e868"/><circle cx="627.4" cy="298.0" r="2.6" fill="#00c3ff"/><circle cx="628.7" cy="300.5" r="2.6" fill="#0f20ff"/><circle cx="626.5" cy="289.1" r="2.6" fill="#00ec20"/><circle cx="627.6" cy="292.4" r="2.6" fill="#00ea33"/><circle cx="628.6" cy="295.8" r="2.6" fill="#00cfff"/><circle cx="629.7" cy="299.2" r="2.6" fill="#0f20ff"/><circle cx="628.3" cy="285.2" r="2.6" fill="#00ec20"/><circle cx="628.9" cy="288.4" r="2.6" fill="#18ee14"/><circle cx="629.5" cy="291.6" r="2.6" fill="#00e87b"/><circle cx="630.1" cy="294.8" r="2.6" fill="#00b7ff"/><circle cx="630.6" cy="297.9" r="2.6" fill="#0f20ff"/><circle cx="630.2" cy="281.3" r="2.6" fill="#00ec20"/><circle cx="630.4" cy="284.4" r="2.6" fill="#36ef05"/><circle cx="630.7" cy="287.5" r="2.6" fill="#1dee11"/><circle cx="631.0" cy="290.5" r="2.6" fill="#00e8b2"/><circle cx="631.3" cy="293.6" r="2.6" fill="#00a5ff"/><circle cx="631.6" cy="296.7" r="2.6" fill="#0f20ff"/><circle cx="633.9" cy="281.3" r="2.6" fill="#00ec20"/><circle cx="634.1" cy="284.3" r="2.6" fill="#3cf002"/><circle cx="634.4" cy="287.2" r="2.6" fill="#20ee10"/><circle cx="634.7" cy="290.2" r="2.6" fill="#00e8aa"/><circle cx="635.0" cy="293.2" r="2.6" fill="#008dff"/><circle cx="635.3" cy="296.2" r="2.6" fill="#0f20ff"/><circle cx="637.6" cy="281.3" r="2.6" fill="#00ec20"/><circle cx="637.9" cy="284.9" r="2.6" fill="#52f000"/><circle cx="638.2" cy="288.5" r="2.6" fill="#00eb2f"/><circle cx="638.6" cy="292.1" r="2.6" fill="#0087ff"/><circle cx="638.9" cy="295.6" r="2.6" fill="#0f20ff"/><circle cx="641.2" cy="281.3" r="2.6" fill="#00ec20"/><circle cx="641.6" cy="284.7" r="2.6" fill="#5af000"/><circle cx="641.9" cy="288.2" r="2.6" fill="#00ec20"/><circle cx="642.3" cy="291.7" r="2.6" fill="#005dff"/><circle cx="642.6" cy="295.1" r="2.6" fill="#0f20ff"/><circle cx="644.4" cy="282.9" r="2.6" fill="#00ec20"/><circle cx="644.8" cy="285.7" r="2.6" fill="#2def0a"/><circle cx="645.1" cy="288.6" r="2.6" fill="#00ea38"/><circle cx="645.4" cy="291.5" r="2.6" fill="#00d3ff"/><circle cx="645.8" cy="294.3" r="2.6" fill="#0090ff"/><circle cx="647.6" cy="284.4" r="2.6" fill="#00ec20"/><circle cx="648.0" cy="287.5" r="2.6" fill="#00ec20"/><circle cx="648.5" cy="290.5" r="2.6" fill="#00e89c"/><circle cx="648.9" cy="293.5" r="2.6" fill="#00e9ff"/><circle cx="650.8" cy="286.4" r="2.6" fill="#00ec20"/><circle cx="651.2" cy="288.9" r="2.6" fill="#00ea3a"/><circle cx="651.6" cy="291.4" r="2.6" fill="#00e8a2"/><circle cx="652.0" cy="293.9" r="2.6" fill="#00e9ff"/><circle cx="654.0" cy="288.4" r="2.6" fill="#00ec20"/><circle cx="654.6" cy="291.4" r="2.6" fill="#00e884"/><circle cx="655.2" cy="294.3" r="2.6" fill="#00e9ff"/><circle cx="656.4" cy="288.4" r="2.6" fill="#00e8ba"/><circle cx="657.2" cy="291.0" r="2.6" fill="#00dbff"/><circle cx="657.9" cy="293.6" r="2.6" fill="#0090ff"/><circle cx="658.9" cy="288.3" r="2.6" fill="#005dff"/><circle cx="660.6" cy="292.8" r="2.6" fill="#0f21ff"/><circle cx="626.1" cy="314.3" r="2.6" fill="#0f20ff"/><circle cx="622.2" cy="315.1" r="2.6" fill="#00e9ff"/><circle cx="617.4" cy="314.3" r="2.6" fill="#ff9000"/><circle cx="622.2" cy="319.0" r="2.6" fill="#00ec20"/><circle cx="617.4" cy="320.6" r="2.6" fill="#ff9000"/><circle cx="621.4" cy="323.8" r="2.6" fill="#5af000"/><circle cx="626.9" cy="323.0" r="2.6" fill="#00ec20"/><circle cx="615.8" cy="308.8" r="2.6" fill="#ff1000"/><circle cx="589.0" cy="292.9" r="2.6" fill="#ff9000"/><circle cx="590.6" cy="296.1" r="2.6" fill="#ff9cf9"/><circle cx="594.5" cy="297.7" r="2.6" fill="#ff1000"/><circle cx="599.2" cy="298.5" r="2.6" fill="#ff9cf9"/><circle cx="600.8" cy="301.6" r="2.6" fill="#f600e8"/><circle cx="592.1" cy="300.8" r="2.6" fill="#ff9000"/><circle cx="595.3" cy="302.4" r="2.6" fill="#ff9000"/><circle cx="654.8" cy="308.8" r="2.6" fill="#00ec20"/><circle cx="658.1" cy="308.8" r="2.6" fill="#00e84d"/><circle cx="653.1" cy="311.7" r="2.6" fill="#09ed1b"/><circle cx="656.4" cy="311.7" r="2.6" fill="#00ea36"/><circle cx="659.7" cy="311.7" r="2.6" fill="#00eaff"/><circle cx="651.5" cy="314.5" r="2.6" fill="#ffc300"/><circle cx="654.8" cy="314.5" r="2.6" fill="#00ea34"/><circle cx="658.1" cy="314.5" r="2.6" fill="#00eaff"/><circle cx="661.4" cy="314.5" r="2.6" fill="#00e9ff"/><circle cx="653.1" cy="317.4" r="2.6" fill="#ffbc00"/><circle cx="656.4" cy="317.4" r="2.6" fill="#00e878"/><circle cx="659.7" cy="317.4" r="2.6" fill="#00e946"/><circle cx="663.0" cy="317.4" r="2.6" fill="#00e89f"/><circle cx="651.5" cy="320.3" r="2.6" fill="#ffa000"/><circle cx="654.8" cy="320.3" r="2.6" fill="#ffc200"/><circle cx="658.1" cy="320.3" r="2.6" fill="#00ec20"/><circle cx="661.4" cy="320.3" r="2.6" fill="#02ec1f"/><circle cx="656.4" cy="323.1" r="2.6" fill="#ff5d00"/><circle cx="658.5" cy="324.6" r="2.6" fill="#f600e8"/><circle cx="661.7" cy="325.0" r="2.6" fill="#ff0066"/><circle cx="664.9" cy="325.4" r="2.6" fill="#ff1000"/><circle cx="668.8" cy="326.9" r="2.6" fill="#ff9000"/><circle cx="714.5" cy="140.6" r="2.6" fill="#f600e8"/><circle cx="714.5" cy="142.9" r="2.6" fill="#f600e8"/><circle cx="703.7" cy="155.0" r="2.6" fill="#ff9cf9"/><circle cx="704.7" cy="155.2" r="2.6" fill="#ff82f5"/><circle cx="705.7" cy="155.4" r="2.6" fill="#f600e8"/><circle cx="700.9" cy="158.1" r="2.6" fill="#ff0046"/><circle cx="703.1" cy="158.3" r="2.6" fill="#ff5c00"/><circle cx="705.3" cy="158.6" r="2.6" fill="#ff0066"/><circle cx="698.2" cy="161.2" r="2.6" fill="#ff5600"/><circle cx="701.5" cy="161.5" r="2.6" fill="#fff500"/><circle cx="704.9" cy="161.8" r="2.6" fill="#ff1000"/><circle cx="697.4" cy="164.2" r="2.6" fill="#ff3000"/><circle cx="700.3" cy="164.3" r="2.6" fill="#ffa600"/><circle cx="703.3" cy="164.3" r="2.6" fill="#ff1000"/><circle cx="696.6" cy="167.3" r="2.6" fill="#ff0b00"/><circle cx="699.1" cy="167.0" r="2.6" fill="#ff5d00"/><circle cx="701.7" cy="166.8" r="2.6" fill="#ff1000"/><circle cx="695.8" cy="170.4" r="2.6" fill="#ff0053"/><circle cx="697.9" cy="169.8" r="2.6" fill="#ff000e"/><circle cx="700.1" cy="169.3" r="2.6" fill="#ff1000"/><circle cx="701.1" cy="175.3" r="2.6" fill="#ff1000"/><circle cx="703.5" cy="179.3" r="2.6" fill="#ff1000"/><circle cx="702.7" cy="181.7" r="2.6" fill="#f600e8"/><circle cx="705.8" cy="183.2" r="2.6" fill="#f600e8"/><circle cx="737.5" cy="126.3" r="2.6" fill="#00ec20"/><circle cx="739.1" cy="123.2" r="2.6" fill="#fff500"/><circle cx="748.5" cy="125.5" r="2.6" fill="#fff500"/><circle cx="760.4" cy="195.9" r="2.6" fill="#ff1000"/><circle cx="662.9" cy="203.9" r="2.6" fill="#fff500"/><circle cx="662.9" cy="207.4" r="2.6" fill="#00e9ff"/><circle cx="662.9" cy="210.6" r="2.6" fill="#005dff"/><circle cx="662.9" cy="213.7" r="2.6" fill="#0f20ff"/><circle cx="668.1" cy="201.9" r="2.6" fill="#ff1000"/><circle cx="669.2" cy="205.8" r="2.6" fill="#00ec20"/><circle cx="670.0" cy="209.8" r="2.6" fill="#00e9ff"/><circle cx="670.4" cy="213.7" r="2.6" fill="#005dff"/><circle cx="670.8" cy="216.9" r="2.6" fill="#0f20ff"/><circle cx="673.2" cy="202.6" r="2.6" fill="#f600e8"/><circle cx="674.0" cy="206.6" r="2.6" fill="#ff9000"/><circle cx="674.8" cy="210.6" r="2.6" fill="#00ec20"/><circle cx="675.6" cy="215.3" r="2.6" fill="#00e9ff"/><circle cx="675.6" cy="218.5" r="2.6" fill="#005dff"/><circle cx="663.7" cy="226.4" r="2.6" fill="#00e9ff"/><circle cx="666.1" cy="224.0" r="2.6" fill="#0f20ff"/><circle cx="669.2" cy="221.6" r="2.6" fill="#0f20ff"/><circle cx="669.2" cy="227.9" r="2.6" fill="#00ec20"/><circle cx="675.6" cy="226.4" r="2.6" fill="#005dff"/><circle cx="682.7" cy="225.6" r="2.6" fill="#0f20ff"/><circle cx="682.7" cy="221.6" r="2.6" fill="#00e9ff"/><circle cx="689.8" cy="224.0" r="2.6" fill="#0f20ff"/><circle cx="689.0" cy="220.0" r="2.6" fill="#00e9ff"/><circle cx="678.0" cy="202.9" r="2.6" fill="#ff9cf9"/><circle cx="678.3" cy="206.4" r="2.6" fill="#ff9000"/><circle cx="678.6" cy="210.0" r="2.6" fill="#fff500"/><circle cx="678.9" cy="213.5" r="2.6" fill="#00ec20"/><circle cx="679.2" cy="217.1" r="2.6" fill="#00e9ff"/><circle cx="679.4" cy="220.6" r="2.6" fill="#005dff"/><circle cx="681.2" cy="203.1" r="2.6" fill="#ff9cf9"/><circle cx="681.3" cy="206.6" r="2.6" fill="#ff9000"/><circle cx="681.5" cy="210.1" r="2.6" fill="#ffe400"/><circle cx="681.7" cy="213.6" r="2.6" fill="#00ec20"/><circle cx="681.9" cy="217.1" r="2.6" fill="#00e9ff"/><circle cx="682.1" cy="220.6" r="2.6" fill="#005dff"/><circle cx="684.3" cy="203.4" r="2.6" fill="#ff9cf9"/><circle cx="684.4" cy="206.8" r="2.6" fill="#ff9000"/><circle cx="684.5" cy="210.3" r="2.6" fill="#ffd200"/><circle cx="684.6" cy="213.7" r="2.6" fill="#00ec20"/><circle cx="684.7" cy="217.2" r="2.6" fill="#00e9ff"/><circle cx="684.8" cy="220.6" r="2.6" fill="#005dff"/><circle cx="687.4" cy="203.6" r="2.6" fill="#ff9cf9"/><circle cx="687.4" cy="207.0" r="2.6" fill="#ff9000"/><circle cx="687.4" cy="210.4" r="2.6" fill="#ffc300"/><circle cx="687.4" cy="213.8" r="2.6" fill="#00ec20"/><circle cx="687.4" cy="217.2" r="2.6" fill="#00e9ff"/><circle cx="687.4" cy="220.6" r="2.6" fill="#005dff"/><circle cx="692.0" cy="206.8" r="2.6" fill="#ff1000"/><circle cx="691.6" cy="209.7" r="2.6" fill="#ffad00"/><circle cx="691.2" cy="212.6" r="2.6" fill="#ffea00"/><circle cx="690.8" cy="215.6" r="2.6" fill="#1aee13"/><circle cx="690.4" cy="218.5" r="2.6" fill="#00e8af"/><circle cx="690.0" cy="221.4" r="2.6" fill="#00b2ff"/><circle cx="696.6" cy="209.9" r="2.6" fill="#ff9000"/><circle cx="695.6" cy="213.0" r="2.6" fill="#ffd900"/><circle cx="694.5" cy="216.1" r="2.6" fill="#80f000"/><circle cx="693.5" cy="219.2" r="2.6" fill="#00e948"/><circle cx="692.5" cy="222.3" r="2.6" fill="#00e9ff"/><circle cx="699.6" cy="213.0" r="2.6" fill="#ffc000"/><circle cx="698.3" cy="215.7" r="2.6" fill="#b8f000"/><circle cx="696.9" cy="218.5" r="2.6" fill="#0bed1a"/><circle cx="695.6" cy="221.2" r="2.6" fill="#00e896"/><circle cx="694.2" cy="223.9" r="2.6" fill="#00e8c5"/><circle cx="702.7" cy="216.1" r="2.6" fill="#fff500"/><circle cx="701.0" cy="218.5" r="2.6" fill="#40f000"/><circle cx="699.3" cy="220.8" r="2.6" fill="#00e884"/><circle cx="697.6" cy="223.2" r="2.6" fill="#00eae4"/><circle cx="695.9" cy="225.5" r="2.6" fill="#00e89c"/><circle cx="705.7" cy="219.9" r="2.6" fill="#80f000"/><circle cx="703.3" cy="222.4" r="2.6" fill="#00e884"/><circle cx="700.8" cy="224.8" r="2.6" fill="#00e9ff"/><circle cx="698.4" cy="227.3" r="2.6" fill="#00e89c"/><circle cx="708.7" cy="223.8" r="2.6" fill="#00ec20"/><circle cx="706.8" cy="225.1" r="2.6" fill="#00e8b8"/><circle cx="704.8" cy="226.4" r="2.6" fill="#00e9ff"/><circle cx="702.9" cy="227.7" r="2.6" fill="#00eae4"/><circle cx="700.9" cy="229.0" r="2.6" fill="#00e89c"/><circle cx="711.0" cy="227.6" r="2.6" fill="#ffca00"/><circle cx="708.5" cy="228.8" r="2.6" fill="#31ef08"/><circle cx="706.0" cy="229.9" r="2.6" fill="#00e884"/><circle cx="703.5" cy="231.1" r="2.6" fill="#00eaf3"/><circle cx="701.0" cy="232.3" r="2.6" fill="#00e850"/><circle cx="713.4" cy="231.4" r="2.6" fill="#ff1000"/><circle cx="710.3" cy="232.5" r="2.6" fill="#fff500"/><circle cx="707.2" cy="233.5" r="2.6" fill="#00ec20"/><circle cx="704.1" cy="234.5" r="2.6" fill="#00e9ff"/><circle cx="701.0" cy="235.5" r="2.6" fill="#00ec20"/><circle cx="714.1" cy="235.3" r="2.6" fill="#ff1000"/><circle cx="711.2" cy="236.0" r="2.6" fill="#ffc700"/><circle cx="708.3" cy="236.7" r="2.6" fill="#66f000"/><circle cx="705.3" cy="237.4" r="2.6" fill="#00e855"/><circle cx="702.4" cy="238.1" r="2.6" fill="#00e8b7"/><circle cx="699.5" cy="238.8" r="2.6" fill="#00e884"/><circle cx="714.9" cy="239.2" r="2.6" fill="#ff1000"/><circle cx="711.5" cy="239.7" r="2.6" fill="#ffc700"/><circle cx="708.1" cy="240.3" r="2.6" fill="#66f000"/><circle cx="704.7" cy="240.9" r="2.6" fill="#00e946"/><circle cx="701.3" cy="241.4" r="2.6" fill="#00e8ac"/><circle cx="697.9" cy="242.0" r="2.6" fill="#00e9ff"/><circle cx="715.4" cy="242.3" r="2.6" fill="#ff1000"/><circle cx="712.4" cy="242.7" r="2.6" fill="#ffa200"/><circle cx="709.4" cy="243.1" r="2.6" fill="#bff000"/><circle cx="706.4" cy="243.5" r="2.6" fill="#00ec20"/><circle cx="703.4" cy="243.9" r="2.6" fill="#00e882"/><circle cx="700.4" cy="244.3" r="2.6" fill="#00e9de"/><circle cx="697.4" cy="244.7" r="2.6" fill="#00c6ff"/><circle cx="715.9" cy="245.4" r="2.6" fill="#ff1000"/><circle cx="712.8" cy="245.8" r="2.6" fill="#ff9800"/><circle cx="709.6" cy="246.1" r="2.6" fill="#d2f100"/><circle cx="706.4" cy="246.4" r="2.6" fill="#00ec20"/><circle cx="703.2" cy="246.7" r="2.6" fill="#00e897"/><circle cx="700.0" cy="247.0" r="2.6" fill="#00e3ff"/><circle cx="696.9" cy="247.3" r="2.6" fill="#009aff"/><circle cx="716.5" cy="248.6" r="2.6" fill="#ff1000"/><circle cx="713.1" cy="248.8" r="2.6" fill="#ff8e00"/><circle cx="709.8" cy="249.0" r="2.6" fill="#e6f300"/><circle cx="706.4" cy="249.3" r="2.6" fill="#00ec20"/><circle cx="703.0" cy="249.5" r="2.6" fill="#00e8a8"/><circle cx="699.7" cy="249.8" r="2.6" fill="#00c6ff"/><circle cx="696.3" cy="250.0" r="2.6" fill="#005dff"/><circle cx="718.1" cy="251.7" r="2.6" fill="#ffca00"/><circle cx="714.6" cy="252.0" r="2.6" fill="#9cf000"/><circle cx="711.1" cy="252.2" r="2.6" fill="#00eb26"/><circle cx="707.6" cy="252.5" r="2.6" fill="#00e8ba"/><circle cx="704.1" cy="252.7" r="2.6" fill="#00c6ff"/><circle cx="700.6" cy="252.9" r="2.6" fill="#0071ff"/><circle cx="697.1" cy="253.2" r="2.6" fill="#053aff"/><circle cx="719.6" cy="254.9" r="2.6" fill="#00ec20"/><circle cx="713.5" cy="231.4" r="2.6" fill="#ff1000"/><circle cx="718.3" cy="232.7" r="2.6" fill="#fff500"/><circle cx="723.8" cy="232.4" r="2.6" fill="#00e9ff"/><circle cx="730.1" cy="231.4" r="2.6" fill="#0f20ff"/><circle cx="720.6" cy="239.8" r="2.6" fill="#005dff"/><circle cx="728.5" cy="239.0" r="2.6" fill="#0f20ff"/><circle cx="719.1" cy="245.3" r="2.6" fill="#005dff"/><circle cx="727.7" cy="245.3" r="2.6" fill="#0f20ff"/><circle cx="719.1" cy="250.1" r="2.6" fill="#005dff"/><circle cx="727.7" cy="250.1" r="2.6" fill="#0f20ff"/><circle cx="722.2" cy="254.8" r="2.6" fill="#00ec20"/><circle cx="715.9" cy="242.2" r="2.6" fill="#fff500"/><circle cx="715.1" cy="245.3" r="2.6" fill="#ffc300"/><circle cx="703.2" cy="252.5" r="2.6" fill="#0f20ff"/><circle cx="709.6" cy="250.9" r="2.6" fill="#005dff"/><circle cx="649.7" cy="237.4" r="2.6" fill="#ff9000"/><circle cx="650.3" cy="237.4" r="2.6" fill="#ff9000"/><circle cx="651.0" cy="237.4" r="2.6" fill="#ff9000"/><circle cx="651.6" cy="237.4" r="2.6" fill="#ff9000"/><circle cx="649.5" cy="240.2" r="2.6" fill="#ffa800"/><circle cx="650.9" cy="240.2" r="2.6" fill="#ff9000"/><circle cx="652.2" cy="240.2" r="2.6" fill="#ff8200"/><circle cx="653.6" cy="240.2" r="2.6" fill="#ff7500"/><circle cx="649.3" cy="243.0" r="2.6" fill="#ffc000"/><circle cx="651.4" cy="243.0" r="2.6" fill="#ff9000"/><circle cx="653.5" cy="243.0" r="2.6" fill="#ff7300"/><circle cx="655.6" cy="243.0" r="2.6" fill="#ff5a00"/><circle cx="649.1" cy="245.7" r="2.6" fill="#ffd900"/><circle cx="651.9" cy="245.7" r="2.6" fill="#ff9000"/><circle cx="654.8" cy="245.7" r="2.6" fill="#ff6500"/><circle cx="657.6" cy="245.7" r="2.6" fill="#ff3600"/><circle cx="648.9" cy="248.5" r="2.6" fill="#fff500"/><circle cx="651.6" cy="248.5" r="2.6" fill="#ffa800"/><circle cx="654.2" cy="248.5" r="2.6" fill="#ff7300"/><circle cx="656.9" cy="248.5" r="2.6" fill="#ff4600"/><circle cx="659.6" cy="248.5" r="2.6" fill="#ff1000"/><circle cx="647.8" cy="252.1" r="2.6" fill="#ffac00"/><circle cx="651.2" cy="251.9" r="2.6" fill="#ffa000"/><circle cx="654.5" cy="251.7" r="2.6" fill="#ff3800"/><circle cx="657.8" cy="251.4" r="2.6" fill="#ff0300"/><circle cx="661.1" cy="251.2" r="2.6" fill="#ff0064"/><circle cx="646.8" cy="255.8" r="2.6" fill="#ff6700"/><circle cx="650.0" cy="255.4" r="2.6" fill="#ff8e00"/><circle cx="653.2" cy="255.0" r="2.6" fill="#ff3d00"/><circle cx="656.3" cy="254.6" r="2.6" fill="#ff0069"/><circle cx="659.5" cy="254.3" r="2.6" fill="#fd00cf"/><circle cx="662.7" cy="253.9" r="2.6" fill="#f700e5"/><circle cx="645.7" cy="259.4" r="2.6" fill="#ff1000"/><circle cx="648.8" cy="258.9" r="2.6" fill="#ff6c00"/><circle cx="651.9" cy="258.5" r="2.6" fill="#ff5300"/><circle cx="655.0" cy="258.0" r="2.6" fill="#f600e8"/><circle cx="658.1" cy="257.5" r="2.6" fill="#ff8bf6"/><circle cx="661.2" cy="257.0" r="2.6" fill="#ff9cf9"/><circle cx="664.3" cy="256.6" r="2.6" fill="#ff9cf9"/><circle cx="645.2" cy="262.1" r="2.6" fill="#ff0034"/><circle cx="648.4" cy="261.7" r="2.6" fill="#ff3f00"/><circle cx="651.6" cy="261.3" r="2.6" fill="#ff0036"/><circle cx="654.8" cy="261.0" r="2.6" fill="#fb4ff1"/><circle cx="658.0" cy="260.6" r="2.6" fill="#ff95f8"/><circle cx="661.1" cy="260.2" r="2.6" fill="#ff9cf9"/><circle cx="644.7" cy="264.8" r="2.6" fill="#ff009a"/><circle cx="648.0" cy="264.5" r="2.6" fill="#ff0000"/><circle cx="651.3" cy="264.3" r="2.6" fill="#f600e8"/><circle cx="654.7" cy="264.1" r="2.6" fill="#ff8bf6"/><circle cx="658.0" cy="263.8" r="2.6" fill="#ff9cf9"/><circle cx="644.2" cy="267.5" r="2.6" fill="#f600e8"/><circle cx="646.8" cy="267.5" r="2.6" fill="#f600e8"/><circle cx="649.5" cy="267.5" r="2.6" fill="#f600e8"/><circle cx="652.1" cy="267.5" r="2.6" fill="#ff82f5"/><circle cx="654.8" cy="267.5" r="2.6" fill="#ff9cf9"/><circle cx="640.0" cy="204.2" r="2.6" fill="#ff9cf9"/><circle cx="640.8" cy="207.4" r="2.6" fill="#ff9cf9"/><circle cx="758.6" cy="196.3" r="2.6" fill="#ff1000"/><circle cx="757.0" cy="197.9" r="2.6" fill="#ff9000"/><circle cx="755.4" cy="237.4" r="2.6" fill="#00e9ff"/><circle cx="757.0" cy="242.2" r="2.6" fill="#00ec20"/><circle cx="758.6" cy="234.3" r="2.6" fill="#00ec20"/><circle cx="755.4" cy="245.3" r="2.6" fill="#00e9ff"/><circle cx="757.8" cy="250.1" r="2.6" fill="#ff9000"/><circle cx="742.8" cy="253.2" r="2.6" fill="#ff9000"/><circle cx="745.9" cy="250.1" r="2.6" fill="#ff9cf9"/><circle cx="749.1" cy="248.5" r="2.6" fill="#ff9cf9"/><circle cx="777.5" cy="288.5" r="2.6" fill="#f600e8"/><circle cx="777.8" cy="288.5" r="2.6" fill="#f600e8"/><circle cx="778.2" cy="288.5" r="2.6" fill="#f600e8"/><circle cx="778.5" cy="288.5" r="2.6" fill="#f600e8"/><circle cx="774.3" cy="290.5" r="2.6" fill="#ff009a"/><circle cx="775.3" cy="290.3" r="2.6" fill="#ff0053"/><circle cx="776.2" cy="290.1" r="2.6" fill="#ff009a"/><circle cx="777.2" cy="289.9" r="2.6" fill="#ff6100"/><circle cx="771.1" cy="292.6" r="2.6" fill="#ff0034"/><circle cx="772.7" cy="292.1" r="2.6" fill="#ff1c00"/><circle cx="774.3" cy="291.7" r="2.6" fill="#ff0034"/><circle cx="775.9" cy="291.3" r="2.6" fill="#ffec00"/><circle cx="767.9" cy="294.6" r="2.6" fill="#ff1000"/><circle cx="770.1" cy="294.0" r="2.6" fill="#ff5600"/><circle cx="772.4" cy="293.3" r="2.6" fill="#ff1000"/><circle cx="774.6" cy="292.7" r="2.6" fill="#00ec20"/><circle cx="766.3" cy="297.3" r="2.6" fill="#ff4300"/><circle cx="768.9" cy="296.7" r="2.6" fill="#ff8a00"/><circle cx="771.5" cy="296.1" r="2.6" fill="#ffb500"/><circle cx="774.1" cy="295.6" r="2.6" fill="#00e885"/><circle cx="764.7" cy="299.9" r="2.6" fill="#ff6c00"/><circle cx="767.7" cy="299.4" r="2.6" fill="#ffbd00"/><circle cx="770.6" cy="298.9" r="2.6" fill="#51f000"/><circle cx="773.6" cy="298.4" r="2.6" fill="#00e7ff"/><circle cx="763.2" cy="302.6" r="2.6" fill="#ff9000"/><circle cx="766.5" cy="302.2" r="2.6" fill="#fff500"/><circle cx="769.7" cy="301.7" r="2.6" fill="#00e9ff"/><circle cx="773.0" cy="301.3" r="2.6" fill="#005dff"/><circle cx="763.7" cy="305.3" r="2.6" fill="#ffa100"/><circle cx="766.5" cy="305.0" r="2.6" fill="#a2f000"/><circle cx="769.4" cy="304.7" r="2.6" fill="#00d8ff"/><circle cx="772.2" cy="304.4" r="2.6" fill="#0242ff"/><circle cx="764.2" cy="308.0" r="2.6" fill="#ffb200"/><circle cx="766.6" cy="307.8" r="2.6" fill="#44f000"/><circle cx="769.0" cy="307.7" r="2.6" fill="#00c7ff"/><circle cx="771.5" cy="307.5" r="2.6" fill="#0831ff"/><circle cx="764.8" cy="310.7" r="2.6" fill="#ffc300"/><circle cx="767.7" cy="310.7" r="2.6" fill="#00e9ff"/><circle cx="770.7" cy="310.7" r="2.6" fill="#0f20ff"/><circle cx="768.8" cy="314.6" r="2.6" fill="#0f21ff"/><circle cx="769.3" cy="314.6" r="2.6" fill="#0f21ff"/><circle cx="769.8" cy="314.6" r="2.6" fill="#0f20ff"/><circle cx="782.7" cy="293.3" r="2.6" fill="#00e9ff"/><circle cx="782.7" cy="298.0" r="2.6" fill="#0f20ff"/><circle cx="780.4" cy="310.7" r="2.6" fill="#0f20ff"/><circle cx="670.0" cy="327.9" r="2.6" fill="#00ec20"/><circle cx="670.0" cy="330.7" r="2.6" fill="#00ec20"/><circle cx="672.6" cy="328.4" r="2.6" fill="#00ec20"/><circle cx="672.6" cy="330.8" r="2.6" fill="#00ec20"/><circle cx="675.2" cy="328.9" r="2.6" fill="#00ec20"/><circle cx="675.2" cy="330.8" r="2.6" fill="#00ec20"/><circle cx="678.4" cy="330.1" r="2.6" fill="#00ec20"/><circle cx="678.4" cy="332.4" r="2.6" fill="#2def0a"/><circle cx="681.5" cy="331.3" r="2.6" fill="#00ec20"/><circle cx="681.5" cy="334.0" r="2.6" fill="#5af000"/><circle cx="685.3" cy="331.2" r="2.6" fill="#ffca00"/><circle cx="684.9" cy="334.0" r="2.6" fill="#ffcd00"/><circle cx="689.1" cy="331.2" r="2.6" fill="#ff1000"/><circle cx="688.2" cy="334.1" r="2.6" fill="#ff5600"/><circle cx="693.0" cy="332.3" r="2.6" fill="#ff3300"/><circle cx="692.2" cy="334.1" r="2.6" fill="#ff3300"/><circle cx="696.8" cy="333.4" r="2.6" fill="#ff5600"/><circle cx="696.3" cy="334.2" r="2.6" fill="#ff1000"/><circle cx="696.9" cy="256.6" r="2.6" fill="#0f20ff"/><circle cx="704.0" cy="256.6" r="2.6" fill="#0f20ff"/><circle cx="783.8" cy="258.2" r="2.6" fill="#00ec20"/><circle cx="787.0" cy="259.7" r="2.6" fill="#00e9ff"/><circle cx="783.8" cy="267.6" r="2.6" fill="#ff9cf9"/><circle cx="787.0" cy="268.4" r="2.6" fill="#ff9cf9"/><circle cx="724.4" cy="261.4" r="2.6" fill="#ffce00"/><circle cx="727.7" cy="261.4" r="2.6" fill="#00ec20"/><circle cx="731.0" cy="261.4" r="2.6" fill="#00ec22"/><circle cx="719.4" cy="264.3" r="2.6" fill="#fff100"/><circle cx="722.7" cy="264.3" r="2.6" fill="#96f000"/><circle cx="726.0" cy="264.3" r="2.6" fill="#00eb2f"/><circle cx="729.3" cy="264.3" r="2.6" fill="#00e944"/><circle cx="732.6" cy="264.3" r="2.6" fill="#00ea3d"/><circle cx="735.9" cy="264.3" r="2.6" fill="#00ec21"/><circle cx="714.5" cy="267.1" r="2.6" fill="#ffd000"/><circle cx="717.8" cy="267.1" r="2.6" fill="#31ef07"/><circle cx="721.1" cy="267.1" r="2.6" fill="#00eaff"/><circle cx="724.4" cy="267.1" r="2.6" fill="#00dfff"/><circle cx="727.7" cy="267.1" r="2.6" fill="#0076ff"/><circle cx="731.0" cy="267.1" r="2.6" fill="#00e9ff"/><circle cx="734.3" cy="267.1" r="2.6" fill="#00e89a"/><circle cx="716.1" cy="270.0" r="2.6" fill="#01ec1f"/><circle cx="719.4" cy="270.0" r="2.6" fill="#00ea33"/><circle cx="722.7" cy="270.0" r="2.6" fill="#00e4ff"/><circle cx="726.0" cy="270.0" r="2.6" fill="#005eff"/><circle cx="729.3" cy="270.0" r="2.6" fill="#008eff"/><circle cx="732.6" cy="270.0" r="2.6" fill="#00eae3"/><circle cx="714.5" cy="272.8" r="2.6" fill="#ffd700"/><circle cx="717.8" cy="272.8" r="2.6" fill="#00e8b2"/><circle cx="721.1" cy="272.8" r="2.6" fill="#0060ff"/><circle cx="724.4" cy="272.8" r="2.6" fill="#033fff"/><circle cx="727.7" cy="272.8" r="2.6" fill="#0e22ff"/><circle cx="731.0" cy="272.8" r="2.6" fill="#00e1ff"/><circle cx="734.3" cy="272.8" r="2.6" fill="#00ebff"/><circle cx="712.8" cy="275.7" r="2.6" fill="#ffc300"/><circle cx="716.1" cy="275.7" r="2.6" fill="#ffca00"/><circle cx="719.4" cy="275.7" r="2.6" fill="#00afff"/><circle cx="722.7" cy="275.7" r="2.6" fill="#00e7ff"/><circle cx="726.0" cy="275.7" r="2.6" fill="#0735ff"/><circle cx="729.3" cy="275.7" r="2.6" fill="#00ebfa"/><circle cx="732.6" cy="275.7" r="2.6" fill="#00ebfb"/><circle cx="714.5" cy="278.5" r="2.6" fill="#ffda00"/><circle cx="717.8" cy="278.5" r="2.6" fill="#fff500"/><circle cx="721.1" cy="278.5" r="2.6" fill="#2aef0b"/><circle cx="724.4" cy="278.5" r="2.6" fill="#00ec20"/><circle cx="727.7" cy="278.5" r="2.6" fill="#00ec25"/><circle cx="731.0" cy="278.5" r="2.6" fill="#00ec20"/><circle cx="712.8" cy="281.4" r="2.6" fill="#ff9000"/><circle cx="716.1" cy="281.4" r="2.6" fill="#ffc800"/><circle cx="719.4" cy="281.4" r="2.6" fill="#ff9e00"/><circle cx="722.7" cy="281.4" r="2.6" fill="#92f000"/><circle cx="726.0" cy="281.4" r="2.6" fill="#ffd800"/><circle cx="729.3" cy="281.4" r="2.6" fill="#68f000"/><circle cx="714.5" cy="284.3" r="2.6" fill="#ff8c00"/><circle cx="717.8" cy="284.3" r="2.6" fill="#ff8f00"/><circle cx="721.1" cy="284.3" r="2.6" fill="#ff9300"/><circle cx="724.4" cy="284.3" r="2.6" fill="#ffc300"/><circle cx="727.7" cy="284.3" r="2.6" fill="#ffad00"/><circle cx="716.1" cy="287.1" r="2.6" fill="#ff5700"/><circle cx="719.4" cy="287.1" r="2.6" fill="#ff5a00"/><circle cx="722.7" cy="287.1" r="2.6" fill="#ffa500"/><circle cx="744.3" cy="256.6" r="2.6" fill="#ff9000"/><circle cx="742.7" cy="259.7" r="2.6" fill="#ff1000"/><circle cx="741.1" cy="262.9" r="2.6" fill="#f600e8"/><circle cx="739.6" cy="267.6" r="2.6" fill="#f600e8"/><circle cx="738.0" cy="272.4" r="2.6" fill="#ff9cf9"/><circle cx="745.9" cy="258.2" r="2.6" fill="#ff9000"/><circle cx="745.9" cy="261.3" r="2.6" fill="#ffc300"/><circle cx="719.5" cy="288.3" r="2.6" fill="#ff8f00"/><circle cx="722.8" cy="288.3" r="2.6" fill="#ff6c00"/><circle cx="726.1" cy="288.3" r="2.6" fill="#fd00ce"/><circle cx="729.4" cy="288.3" r="2.6" fill="#fa43f0"/><circle cx="732.7" cy="288.3" r="2.6" fill="#ff9bf9"/><circle cx="711.2" cy="291.1" r="2.6" fill="#ff1100"/><circle cx="714.5" cy="291.1" r="2.6" fill="#ff3700"/><circle cx="717.8" cy="291.1" r="2.6" fill="#ff9000"/><circle cx="721.1" cy="291.1" r="2.6" fill="#ffbe00"/><circle cx="724.4" cy="291.1" r="2.6" fill="#ff1500"/><circle cx="727.7" cy="291.1" r="2.6" fill="#f600e7"/><circle cx="731.0" cy="291.1" r="2.6" fill="#ff94f8"/><circle cx="734.3" cy="291.1" r="2.6" fill="#ff9bf9"/><circle cx="737.6" cy="291.1" r="2.6" fill="#ff96f8"/><circle cx="709.6" cy="294.0" r="2.6" fill="#ff1000"/><circle cx="712.9" cy="294.0" r="2.6" fill="#ff2200"/><circle cx="716.2" cy="294.0" r="2.6" fill="#ff8b00"/><circle cx="719.5" cy="294.0" r="2.6" fill="#ffae00"/><circle cx="722.8" cy="294.0" r="2.6" fill="#ffc300"/><circle cx="726.1" cy="294.0" r="2.6" fill="#ff0021"/><circle cx="729.4" cy="294.0" r="2.6" fill="#ff005e"/><circle cx="732.7" cy="294.0" r="2.6" fill="#ff00c4"/><circle cx="736.0" cy="294.0" r="2.6" fill="#ff83f5"/><circle cx="739.3" cy="294.0" r="2.6" fill="#ff9cf9"/><circle cx="711.2" cy="296.8" r="2.6" fill="#ff1400"/><circle cx="714.5" cy="296.8" r="2.6" fill="#ff7700"/><circle cx="717.8" cy="296.8" r="2.6" fill="#ff9000"/><circle cx="721.1" cy="296.8" r="2.6" fill="#ffd400"/><circle cx="724.4" cy="296.8" r="2.6" fill="#fff400"/><circle cx="727.7" cy="296.8" r="2.6" fill="#ff2600"/><circle cx="731.0" cy="296.8" r="2.6" fill="#ff1000"/><circle cx="734.3" cy="296.8" r="2.6" fill="#ff0700"/><circle cx="737.6" cy="296.8" r="2.6" fill="#ff008d"/><circle cx="740.9" cy="296.8" r="2.6" fill="#f600e8"/><circle cx="712.9" cy="299.7" r="2.6" fill="#ff1100"/><circle cx="716.2" cy="299.7" r="2.6" fill="#ff5300"/><circle cx="719.5" cy="299.7" r="2.6" fill="#ff8000"/><circle cx="722.8" cy="299.7" r="2.6" fill="#ff9300"/><circle cx="726.1" cy="299.7" r="2.6" fill="#ffbf00"/><circle cx="729.4" cy="299.7" r="2.6" fill="#ff1200"/><circle cx="732.7" cy="299.7" r="2.6" fill="#ff1000"/><circle cx="736.0" cy="299.7" r="2.6" fill="#ff1000"/><circle cx="716.5" cy="302.5" r="2.6" fill="#ff9000"/><circle cx="719.8" cy="302.5" r="2.6" fill="#ffae00"/><circle cx="711.5" cy="305.4" r="2.6" fill="#ffbf00"/><circle cx="714.8" cy="305.4" r="2.6" fill="#ffc600"/><circle cx="718.1" cy="305.4" r="2.6" fill="#ffe900"/><circle cx="721.4" cy="305.4" r="2.6" fill="#faf500"/><circle cx="709.9" cy="308.2" r="2.6" fill="#ffc400"/><circle cx="713.2" cy="308.2" r="2.6" fill="#ffd300"/><circle cx="716.5" cy="308.2" r="2.6" fill="#fdf500"/><circle cx="719.8" cy="308.2" r="2.6" fill="#78f000"/><circle cx="723.1" cy="308.2" r="2.6" fill="#01ec20"/><circle cx="708.2" cy="311.1" r="2.6" fill="#fff500"/><circle cx="711.5" cy="311.1" r="2.6" fill="#67f000"/><circle cx="714.8" cy="311.1" r="2.6" fill="#01ec20"/><circle cx="718.1" cy="311.1" r="2.6" fill="#44f000"/><circle cx="721.4" cy="311.1" r="2.6" fill="#06ec1d"/><circle cx="706.6" cy="313.9" r="2.6" fill="#ffe200"/><circle cx="709.9" cy="313.9" r="2.6" fill="#96f000"/><circle cx="713.2" cy="313.9" r="2.6" fill="#06ec1d"/><circle cx="716.5" cy="313.9" r="2.6" fill="#0eed19"/><circle cx="719.8" cy="313.9" r="2.6" fill="#01ec20"/><circle cx="723.1" cy="313.9" r="2.6" fill="#2bef0a"/><circle cx="704.9" cy="316.8" r="2.6" fill="#ff9000"/><circle cx="708.2" cy="316.8" r="2.6" fill="#87f000"/><circle cx="711.5" cy="316.8" r="2.6" fill="#00ec20"/><circle cx="714.8" cy="316.8" r="2.6" fill="#0aed1b"/><circle cx="718.1" cy="316.8" r="2.6" fill="#08ec1c"/><circle cx="721.4" cy="316.8" r="2.6" fill="#ff2500"/><circle cx="703.3" cy="319.6" r="2.6" fill="#ff3700"/><circle cx="706.6" cy="319.6" r="2.6" fill="#3af003"/><circle cx="709.9" cy="319.6" r="2.6" fill="#09ed1b"/><circle cx="713.2" cy="319.6" r="2.6" fill="#0aed1b"/><circle cx="716.5" cy="319.6" r="2.6" fill="#04ec1e"/><circle cx="719.8" cy="319.6" r="2.6" fill="#ffcb00"/><circle cx="704.9" cy="322.5" r="2.6" fill="#ffea00"/><circle cx="708.2" cy="322.5" r="2.6" fill="#00ec20"/><circle cx="711.5" cy="322.5" r="2.6" fill="#04ec1e"/><circle cx="714.8" cy="322.5" r="2.6" fill="#00ec20"/><circle cx="718.1" cy="322.5" r="2.6" fill="#ffb500"/><circle cx="733.9" cy="302.5" r="2.6" fill="#ff5600"/><circle cx="725.6" cy="305.4" r="2.6" fill="#ff1000"/><circle cx="728.9" cy="305.4" r="2.6" fill="#ff1700"/><circle cx="732.2" cy="305.4" r="2.6" fill="#ff8700"/><circle cx="735.5" cy="305.4" r="2.6" fill="#ff7800"/><circle cx="738.8" cy="305.4" r="2.6" fill="#ff2600"/><circle cx="742.1" cy="305.4" r="2.6" fill="#fc00d2"/><circle cx="727.3" cy="308.2" r="2.6" fill="#ff1000"/><circle cx="730.6" cy="308.2" r="2.6" fill="#ff7600"/><circle cx="733.9" cy="308.2" r="2.6" fill="#ff9000"/><circle cx="737.2" cy="308.2" r="2.6" fill="#ff5700"/><circle cx="740.5" cy="308.2" r="2.6" fill="#ff3300"/><circle cx="743.8" cy="308.2" r="2.6" fill="#ff0600"/><circle cx="725.6" cy="311.1" r="2.6" fill="#ff1900"/><circle cx="728.9" cy="311.1" r="2.6" fill="#ff6000"/><circle cx="732.2" cy="311.1" r="2.6" fill="#ffc000"/><circle cx="735.5" cy="311.1" r="2.6" fill="#ff7d00"/><circle cx="738.8" cy="311.1" r="2.6" fill="#ff5a00"/><circle cx="742.1" cy="311.1" r="2.6" fill="#ff1200"/><circle cx="724.0" cy="313.9" r="2.6" fill="#ff1200"/><circle cx="727.3" cy="313.9" r="2.6" fill="#ff6400"/><circle cx="730.6" cy="313.9" r="2.6" fill="#02ec1f"/><circle cx="733.9" cy="313.9" r="2.6" fill="#ffdd00"/><circle cx="737.2" cy="313.9" r="2.6" fill="#ffc300"/><circle cx="740.5" cy="313.9" r="2.6" fill="#ff9000"/><circle cx="722.3" cy="316.8" r="2.6" fill="#ff6e00"/><circle cx="725.6" cy="316.8" r="2.6" fill="#ff1700"/><circle cx="728.9" cy="316.8" r="2.6" fill="#1fee10"/><circle cx="732.2" cy="316.8" r="2.6" fill="#26ee0d"/><circle cx="735.5" cy="316.8" r="2.6" fill="#ffc600"/><circle cx="738.8" cy="316.8" r="2.6" fill="#ffaa00"/><circle cx="724.0" cy="319.6" r="2.6" fill="#1dee12"/><circle cx="727.3" cy="319.6" r="2.6" fill="#0ded1a"/><circle cx="730.6" cy="319.6" r="2.6" fill="#0bed1a"/><circle cx="733.9" cy="319.6" r="2.6" fill="#07ec1c"/><circle cx="737.2" cy="319.6" r="2.6" fill="#e0f300"/><circle cx="740.5" cy="319.6" r="2.6" fill="#ff9100"/><circle cx="722.3" cy="322.5" r="2.6" fill="#00ec20"/><circle cx="725.6" cy="322.5" r="2.6" fill="#08ec1c"/><circle cx="728.9" cy="322.5" r="2.6" fill="#00ec20"/><circle cx="732.2" cy="322.5" r="2.6" fill="#09ed1c"/><circle cx="735.5" cy="322.5" r="2.6" fill="#03ec1f"/><circle cx="738.8" cy="322.5" r="2.6" fill="#ff9100"/><circle cx="724.0" cy="325.4" r="2.6" fill="#02ec1f"/><circle cx="727.3" cy="325.4" r="2.6" fill="#0aed1b"/><circle cx="730.6" cy="325.4" r="2.6" fill="#10ed18"/><circle cx="733.9" cy="325.4" r="2.6" fill="#01ec20"/><circle cx="737.2" cy="325.4" r="2.6" fill="#ffe100"/><circle cx="725.6" cy="328.2" r="2.6" fill="#00ec20"/><circle cx="728.9" cy="328.2" r="2.6" fill="#b1f000"/><circle cx="732.2" cy="328.2" r="2.6" fill="#3ef001"/><circle cx="735.5" cy="328.2" r="2.6" fill="#ff1d00"/><circle cx="677.9" cy="278.7" r="2.6" fill="#ff1000"/><circle cx="681.1" cy="277.9" r="2.6" fill="#ff1000"/><circle cx="684.2" cy="277.9" r="2.6" fill="#ff9000"/><circle cx="681.9" cy="281.1" r="2.6" fill="#00ec20"/><circle cx="695.3" cy="277.9" r="2.6" fill="#f600e8"/><circle cx="698.5" cy="278.7" r="2.6" fill="#ff1000"/><circle cx="701.6" cy="279.5" r="2.6" fill="#f600e8"/><circle cx="704.0" cy="281.1" r="2.6" fill="#f600e8"/><circle cx="706.4" cy="282.7" r="2.6" fill="#ff9cf9"/><circle cx="698.5" cy="283.5" r="2.6" fill="#ff1000"/><circle cx="700.0" cy="281.9" r="2.6" fill="#ff0053"/><circle cx="742.7" cy="270.0" r="2.6" fill="#00ec20"/><circle cx="747.5" cy="270.8" r="2.6" fill="#ff9000"/><circle cx="739.6" cy="274.8" r="2.6" fill="#00e9ff"/><circle cx="743.5" cy="274.8" r="2.6" fill="#00e9ff"/><circle cx="749.1" cy="275.6" r="2.6" fill="#ffc300"/><circle cx="753.8" cy="277.9" r="2.6" fill="#ff9cf9"/><circle cx="750.6" cy="280.3" r="2.6" fill="#00e9ff"/><circle cx="755.4" cy="283.5" r="2.6" fill="#ff9000"/><circle cx="758.5" cy="284.2" r="2.6" fill="#ff1000"/><circle cx="753.8" cy="289.8" r="2.6" fill="#00e9ff"/><circle cx="755.4" cy="267.6" r="2.6" fill="#ff9000"/><circle cx="759.3" cy="272.4" r="2.6" fill="#ff1000"/><circle cx="761.7" cy="277.9" r="2.6" fill="#ff1000"/><circle cx="764.9" cy="275.6" r="2.6" fill="#ff9000"/><circle cx="760.1" cy="261.3" r="2.6" fill="#00ec20"/><circle cx="766.4" cy="260.5" r="2.6" fill="#00e9ff"/><circle cx="760.9" cy="266.1" r="2.6" fill="#00ec20"/><circle cx="768.8" cy="265.3" r="2.6" fill="#00e9ff"/><circle cx="764.9" cy="270.8" r="2.6" fill="#ffc300"/><circle cx="770.4" cy="270.8" r="2.6" fill="#5af000"/><circle cx="763.0" cy="61.0" r="2.6" fill="#ff1a00"/><circle cx="766.3" cy="61.0" r="2.6" fill="#fff500"/><circle cx="769.6" cy="61.0" r="2.6" fill="#ff9600"/><circle cx="761.4" cy="63.9" r="2.6" fill="#ff2300"/><circle cx="764.7" cy="63.9" r="2.6" fill="#85f000"/><circle cx="768.0" cy="63.9" r="2.6" fill="#40f000"/><circle cx="771.3" cy="63.9" r="2.6" fill="#ffbf00"/><circle cx="774.6" cy="63.9" r="2.6" fill="#f8f400"/><circle cx="759.7" cy="66.7" r="2.6" fill="#ff7100"/><circle cx="763.0" cy="66.7" r="2.6" fill="#8cf000"/><circle cx="766.3" cy="66.7" r="2.6" fill="#00ec20"/><circle cx="769.6" cy="66.7" r="2.6" fill="#0bed1b"/><circle cx="772.9" cy="66.7" r="2.6" fill="#00ec20"/><circle cx="776.2" cy="66.7" r="2.6" fill="#f7f400"/><circle cx="758.1" cy="69.6" r="2.6" fill="#ff9f00"/><circle cx="761.4" cy="69.6" r="2.6" fill="#00e893"/><circle cx="764.7" cy="69.6" r="2.6" fill="#00ea37"/><circle cx="768.0" cy="69.6" r="2.6" fill="#00ec21"/><circle cx="771.3" cy="69.6" r="2.6" fill="#00ec22"/><circle cx="774.6" cy="69.6" r="2.6" fill="#46f000"/><circle cx="777.9" cy="69.6" r="2.6" fill="#fff500"/><circle cx="756.4" cy="72.4" r="2.6" fill="#fff400"/><circle cx="759.7" cy="72.4" r="2.6" fill="#00e89f"/><circle cx="763.0" cy="72.4" r="2.6" fill="#00e9ff"/><circle cx="766.3" cy="72.4" r="2.6" fill="#00ec21"/><circle cx="769.6" cy="72.4" r="2.6" fill="#00e8ca"/><circle cx="772.9" cy="72.4" r="2.6" fill="#00ea3b"/><circle cx="776.2" cy="72.4" r="2.6" fill="#01ec1f"/><circle cx="779.5" cy="72.4" r="2.6" fill="#bbf000"/><circle cx="758.1" cy="75.3" r="2.6" fill="#ffd100"/><circle cx="761.4" cy="75.3" r="2.6" fill="#8ff000"/><circle cx="764.7" cy="75.3" r="2.6" fill="#00e894"/><circle cx="768.0" cy="75.3" r="2.6" fill="#00eaee"/><circle cx="771.3" cy="75.3" r="2.6" fill="#00ebfc"/><circle cx="774.6" cy="75.3" r="2.6" fill="#00ec22"/><circle cx="777.9" cy="75.3" r="2.6" fill="#06ec1d"/><circle cx="759.7" cy="78.1" r="2.6" fill="#ffc500"/><circle cx="763.0" cy="78.1" r="2.6" fill="#00e895"/><circle cx="766.3" cy="78.1" r="2.6" fill="#00e89b"/><circle cx="769.6" cy="78.1" r="2.6" fill="#00e940"/><circle cx="772.9" cy="78.1" r="2.6" fill="#00ec20"/><circle cx="780.4" cy="72.2" r="2.6" fill="#ffc300"/><circle cx="779.6" cy="73.9" r="2.6" fill="#56f000"/><circle cx="778.7" cy="75.7" r="2.6" fill="#00ec20"/><circle cx="777.8" cy="77.4" r="2.6" fill="#00ea38"/><circle cx="777.0" cy="79.1" r="2.6" fill="#00e89c"/><circle cx="783.6" cy="73.9" r="2.6" fill="#e6f300"/><circle cx="782.3" cy="75.5" r="2.6" fill="#3af003"/><circle cx="781.1" cy="77.1" r="2.6" fill="#00ec20"/><circle cx="779.8" cy="78.7" r="2.6" fill="#00e873"/><circle cx="778.5" cy="80.3" r="2.6" fill="#00eae6"/><circle cx="786.7" cy="75.6" r="2.6" fill="#73f000"/><circle cx="785.0" cy="77.1" r="2.6" fill="#1dee12"/><circle cx="783.4" cy="78.6" r="2.6" fill="#00ec20"/><circle cx="781.8" cy="80.0" r="2.6" fill="#00e8b2"/><circle cx="780.1" cy="81.5" r="2.6" fill="#00beff"/><circle cx="789.8" cy="77.3" r="2.6" fill="#00ec20"/><circle cx="788.2" cy="78.4" r="2.6" fill="#00ec20"/><circle cx="786.6" cy="79.5" r="2.6" fill="#00ec20"/><circle cx="784.9" cy="80.5" r="2.6" fill="#00e86a"/><circle cx="783.3" cy="81.6" r="2.6" fill="#00d4ff"/><circle cx="781.7" cy="82.7" r="2.6" fill="#005dff"/><circle cx="792.7" cy="79.4" r="2.6" fill="#00ec20"/><circle cx="790.6" cy="80.6" r="2.6" fill="#00ec20"/><circle cx="788.6" cy="81.8" r="2.6" fill="#00e858"/><circle cx="786.5" cy="82.9" r="2.6" fill="#00e9d4"/><circle cx="784.5" cy="84.1" r="2.6" fill="#00a0ff"/><circle cx="782.5" cy="85.3" r="2.6" fill="#0242ff"/><circle cx="795.6" cy="81.6" r="2.6" fill="#00ec20"/><circle cx="793.1" cy="82.8" r="2.6" fill="#00ec20"/><circle cx="790.6" cy="84.1" r="2.6" fill="#00e8a8"/><circle cx="788.1" cy="85.3" r="2.6" fill="#00a4ff"/><circle cx="785.7" cy="86.6" r="2.6" fill="#0054ff"/><circle cx="783.2" cy="87.9" r="2.6" fill="#0831ff"/><circle cx="798.4" cy="83.7" r="2.6" fill="#00ec20"/><circle cx="795.5" cy="85.0" r="2.6" fill="#00ec20"/><circle cx="792.6" cy="86.4" r="2.6" fill="#00e9ff"/><circle cx="789.7" cy="87.7" r="2.6" fill="#0f20ff"/><circle cx="786.8" cy="89.1" r="2.6" fill="#0f20ff"/><circle cx="783.9" cy="90.4" r="2.6" fill="#0f20ff"/><circle cx="801.1" cy="86.9" r="2.6" fill="#ffca00"/><circle cx="798.0" cy="88.2" r="2.6" fill="#00ec20"/><circle cx="794.9" cy="89.4" r="2.6" fill="#00e9ff"/><circle cx="791.8" cy="90.7" r="2.6" fill="#0f20ff"/><circle cx="788.7" cy="91.9" r="2.6" fill="#053aff"/><circle cx="785.6" cy="93.2" r="2.6" fill="#0090ff"/><circle cx="803.8" cy="90.1" r="2.6" fill="#ff1000"/><circle cx="800.5" cy="91.3" r="2.6" fill="#00ec20"/><circle cx="797.2" cy="92.5" r="2.6" fill="#00e9ff"/><circle cx="793.9" cy="93.6" r="2.6" fill="#0f20ff"/><circle cx="790.6" cy="94.8" r="2.6" fill="#005dff"/><circle cx="787.2" cy="96.0" r="2.6" fill="#00e9ff"/><circle cx="802.7" cy="93.4" r="2.6" fill="#ff0066"/><circle cx="799.9" cy="94.3" r="2.6" fill="#ffc200"/><circle cx="797.0" cy="95.3" r="2.6" fill="#c4f000"/><circle cx="794.1" cy="96.2" r="2.6" fill="#34ef06"/><circle cx="791.2" cy="97.2" r="2.6" fill="#17ed14"/><circle cx="788.3" cy="98.2" r="2.6" fill="#76f000"/><circle cx="801.7" cy="96.6" r="2.6" fill="#f600e8"/><circle cx="798.6" cy="97.5" r="2.6" fill="#ff1000"/><circle cx="795.5" cy="98.5" r="2.6" fill="#ff5600"/><circle cx="792.5" cy="99.4" r="2.6" fill="#ffc300"/><circle cx="789.4" cy="100.4" r="2.6" fill="#ff9000"/><circle cx="797.8" cy="99.7" r="2.6" fill="#ff0066"/><circle cx="795.5" cy="100.2" r="2.6" fill="#ff0019"/><circle cx="793.1" cy="100.7" r="2.6" fill="#ff0200"/><circle cx="790.7" cy="101.1" r="2.6" fill="#ff6100"/><circle cx="788.4" cy="101.6" r="2.6" fill="#ff5a00"/><circle cx="794.0" cy="102.8" r="2.6" fill="#ff1000"/><circle cx="792.3" cy="102.8" r="2.6" fill="#ff0066"/><circle cx="790.7" cy="102.8" r="2.6" fill="#f600e8"/><circle cx="789.0" cy="102.8" r="2.6" fill="#ff0066"/><circle cx="787.3" cy="102.8" r="2.6" fill="#ff1000"/><circle cx="754.8" cy="101.7" r="2.6" fill="#0f20ff"/><circle cx="758.0" cy="97.9" r="2.6" fill="#0f20ff"/><circle cx="759.7" cy="102.3" r="2.6" fill="#0f20ff"/><circle cx="757.0" cy="106.1" r="2.6" fill="#0f20ff"/><circle cx="761.3" cy="100.7" r="2.6" fill="#005dff"/></g>
<defs><clipPath id="c1"><rect x="57" y="34" width="332" height="361"/></clipPath><clipPath id="c2"><rect x="562" y="34" width="332" height="361"/></clipPath></defs>
<rect x="57.2" y="33.5" width="331.40000000000003" height="361.1" fill="none" stroke="#000" stroke-width="2"/>
<rect x="562.2" y="33.5" width="331.4" height="361.1" fill="none" stroke="#000" stroke-width="2"/>
<text x="147" y="29.6" font-size="15.8" text-anchor="middle" font-weight="normal" font-style="normal">543000</text>
<text x="151" y="411.6" font-size="15.8" text-anchor="middle" font-weight="normal" font-style="normal">543000</text>
<text x="247" y="29.6" font-size="15.8" text-anchor="middle" font-weight="normal" font-style="normal">544000</text>
<text x="251" y="411.6" font-size="15.8" text-anchor="middle" font-weight="normal" font-style="normal">544000</text>
<text x="347" y="29.6" font-size="15.8" text-anchor="middle" font-weight="normal" font-style="normal">545000</text>
<text x="351" y="411.6" font-size="15.8" text-anchor="middle" font-weight="normal" font-style="normal">545000</text>
<text x="50" y="59.0" font-size="15.8" text-anchor="middle" font-weight="normal" font-style="normal" transform="rotate(-90 50 59.0)">6458000</text>
<text x="50" y="144.6" font-size="15.8" text-anchor="middle" font-weight="normal" font-style="normal" transform="rotate(-90 50 144.6)">6457000</text>
<text x="50" y="244.1" font-size="15.8" text-anchor="middle" font-weight="normal" font-style="normal" transform="rotate(-90 50 244.1)">6456000</text>
<text x="50" y="341.1" font-size="15.8" text-anchor="middle" font-weight="normal" font-style="normal" transform="rotate(-90 50 341.1)">6455000</text>
<text x="393.6" y="59.9" font-size="15.8" text-anchor="middle" font-weight="normal" font-style="normal" transform="rotate(90 393.6 59.9)">6458000</text>
<text x="393.6" y="143.0" font-size="15.8" text-anchor="middle" font-weight="normal" font-style="normal" transform="rotate(90 393.6 143.0)">6457000</text>
<text x="393.6" y="246.1" font-size="15.8" text-anchor="middle" font-weight="normal" font-style="normal" transform="rotate(90 393.6 246.1)">6456000</text>
<text x="393.6" y="349.9" font-size="15.8" text-anchor="middle" font-weight="normal" font-style="normal" transform="rotate(90 393.6 349.9)">6455000</text>
<text x="652" y="29.6" font-size="15.8" text-anchor="middle" font-weight="normal" font-style="normal">543000</text>
<text x="656" y="411.6" font-size="15.8" text-anchor="middle" font-weight="normal" font-style="normal">543000</text>
<text x="752" y="29.6" font-size="15.8" text-anchor="middle" font-weight="normal" font-style="normal">544000</text>
<text x="756" y="411.6" font-size="15.8" text-anchor="middle" font-weight="normal" font-style="normal">544000</text>
<text x="852" y="29.6" font-size="15.8" text-anchor="middle" font-weight="normal" font-style="normal">545000</text>
<text x="856" y="411.6" font-size="15.8" text-anchor="middle" font-weight="normal" font-style="normal">545000</text>
<text x="555" y="59.0" font-size="15.8" text-anchor="middle" font-weight="normal" font-style="normal" transform="rotate(-90 555 59.0)">6458000</text>
<text x="555" y="144.6" font-size="15.8" text-anchor="middle" font-weight="normal" font-style="normal" transform="rotate(-90 555 144.6)">6457000</text>
<text x="555" y="244.1" font-size="15.8" text-anchor="middle" font-weight="normal" font-style="normal" transform="rotate(-90 555 244.1)">6456000</text>
<text x="555" y="341.1" font-size="15.8" text-anchor="middle" font-weight="normal" font-style="normal" transform="rotate(-90 555 341.1)">6455000</text>
<text x="898.6" y="59.9" font-size="15.8" text-anchor="middle" font-weight="normal" font-style="normal" transform="rotate(90 898.6 59.9)">6458000</text>
<text x="898.6" y="143.0" font-size="15.8" text-anchor="middle" font-weight="normal" font-style="normal" transform="rotate(90 898.6 143.0)">6457000</text>
<text x="898.6" y="246.1" font-size="15.8" text-anchor="middle" font-weight="normal" font-style="normal" transform="rotate(90 898.6 246.1)">6456000</text>
<text x="898.6" y="349.9" font-size="15.8" text-anchor="middle" font-weight="normal" font-style="normal" transform="rotate(90 898.6 349.9)">6455000</text>
<rect x="452.5" y="368.93" width="10" height="7.88" fill="#0e24ff"/>
<rect x="452.5" y="361.35" width="10" height="7.88" fill="#0143ff"/>
<rect x="452.5" y="353.77" width="10" height="7.88" fill="#007aff"/>
<rect x="452.5" y="346.20" width="10" height="7.88" fill="#00a9ff"/>
<rect x="452.5" y="338.62" width="10" height="7.88" fill="#00cdff"/>
<rect x="452.5" y="331.05" width="10" height="7.88" fill="#00ebfe"/>
<rect x="452.5" y="323.48" width="10" height="7.88" fill="#00e9ce"/>
<rect x="452.5" y="315.90" width="10" height="7.88" fill="#00e8ab"/>
<rect x="452.5" y="308.32" width="10" height="7.88" fill="#00e88c"/>
<rect x="452.5" y="300.75" width="10" height="7.88" fill="#00e864"/>
<rect x="452.5" y="293.18" width="10" height="7.88" fill="#00e944"/>
<rect x="452.5" y="285.60" width="10" height="7.88" fill="#00eb2c"/>
<rect x="452.5" y="278.02" width="10" height="7.88" fill="#10ed18"/>
<rect x="452.5" y="270.45" width="10" height="7.88" fill="#30ef08"/>
<rect x="452.5" y="262.88" width="10" height="7.88" fill="#50f000"/>
<rect x="452.5" y="255.30" width="10" height="7.88" fill="#70f000"/>
<rect x="452.5" y="247.72" width="10" height="7.88" fill="#90f000"/>
<rect x="452.5" y="240.15" width="10" height="7.88" fill="#b0f000"/>
<rect x="452.5" y="232.57" width="10" height="7.88" fill="#d0f100"/>
<rect x="452.5" y="225.00" width="10" height="7.88" fill="#eff400"/>
<rect x="452.5" y="217.42" width="10" height="7.88" fill="#ffec00"/>
<rect x="452.5" y="209.85" width="10" height="7.88" fill="#ffd900"/>
<rect x="452.5" y="202.28" width="10" height="7.88" fill="#ffc800"/>
<rect x="452.5" y="194.70" width="10" height="7.88" fill="#ffb800"/>
<rect x="452.5" y="187.12" width="10" height="7.88" fill="#ffa800"/>
<rect x="452.5" y="179.55" width="10" height="7.88" fill="#ff9800"/>
<rect x="452.5" y="171.97" width="10" height="7.88" fill="#ff8800"/>
<rect x="452.5" y="164.40" width="10" height="7.88" fill="#ff7800"/>
<rect x="452.5" y="156.82" width="10" height="7.88" fill="#ff6800"/>
<rect x="452.5" y="149.25" width="10" height="7.88" fill="#ff5800"/>
<rect x="452.5" y="141.67" width="10" height="7.88" fill="#ff4400"/>
<rect x="452.5" y="134.10" width="10" height="7.88" fill="#ff2c00"/>
<rect x="452.5" y="126.53" width="10" height="7.88" fill="#ff1600"/>
<rect x="452.5" y="118.95" width="10" height="7.88" fill="#ff0200"/>
<rect x="452.5" y="111.38" width="10" height="7.88" fill="#ff0040"/>
<rect x="452.5" y="103.80" width="10" height="7.88" fill="#ff0080"/>
<rect x="452.5" y="96.22" width="10" height="7.88" fill="#ff00c8"/>
<rect x="452.5" y="88.65" width="10" height="7.88" fill="#f500eb"/>
<rect x="452.5" y="81.07" width="10" height="7.88" fill="#ff82f5"/>
<rect x="452.5" y="73.50" width="10" height="7.88" fill="#ff99f8"/>
<rect x="452.5" y="73.5" width="10" height="303.0" fill="none" stroke="#333" stroke-width="0.8"/>
<text x="459.0" y="69.9" font-size="17.5" text-anchor="start" font-weight="normal" font-style="normal">100</text>
<text x="467.2" y="88.6" font-size="17.5" text-anchor="start" font-weight="normal" font-style="normal">70</text>
<text x="467.0" y="143.8" font-size="17.5" text-anchor="start" font-weight="normal" font-style="normal">50</text>
<text x="466.6" y="210.1" font-size="17.5" text-anchor="start" font-weight="normal" font-style="normal">40</text>
<text x="466.6" y="284.7" font-size="17.5" text-anchor="start" font-weight="normal" font-style="normal">30</text>
<text x="466.6" y="345.2" font-size="17.5" text-anchor="start" font-weight="normal" font-style="normal">20</text>
<text x="465.6" y="387.6" font-size="17.5" text-anchor="start" font-weight="normal" font-style="normal">5</text>
<text x="450.2" y="402.8" font-size="18" text-anchor="start" font-weight="bold" font-style="normal">m</text>
<rect x="969.5" y="360.62" width="8.5" height="7.88" fill="#0e24ff"/>
<rect x="969.5" y="353.05" width="8.5" height="7.88" fill="#0143ff"/>
<rect x="969.5" y="345.47" width="8.5" height="7.88" fill="#007aff"/>
<rect x="969.5" y="337.90" width="8.5" height="7.88" fill="#00a9ff"/>
<rect x="969.5" y="330.32" width="8.5" height="7.88" fill="#00cdff"/>
<rect x="969.5" y="322.75" width="8.5" height="7.88" fill="#00ebfe"/>
<rect x="969.5" y="315.18" width="8.5" height="7.88" fill="#00e9ce"/>
<rect x="969.5" y="307.60" width="8.5" height="7.88" fill="#00e8ab"/>
<rect x="969.5" y="300.02" width="8.5" height="7.88" fill="#00e88c"/>
<rect x="969.5" y="292.45" width="8.5" height="7.88" fill="#00e864"/>
<rect x="969.5" y="284.88" width="8.5" height="7.88" fill="#00e944"/>
<rect x="969.5" y="277.30" width="8.5" height="7.88" fill="#00eb2c"/>
<rect x="969.5" y="269.72" width="8.5" height="7.88" fill="#10ed18"/>
<rect x="969.5" y="262.15" width="8.5" height="7.88" fill="#30ef08"/>
<rect x="969.5" y="254.57" width="8.5" height="7.88" fill="#50f000"/>
<rect x="969.5" y="247.00" width="8.5" height="7.88" fill="#70f000"/>
<rect x="969.5" y="239.42" width="8.5" height="7.88" fill="#90f000"/>
<rect x="969.5" y="231.85" width="8.5" height="7.88" fill="#b0f000"/>
<rect x="969.5" y="224.27" width="8.5" height="7.88" fill="#d0f100"/>
<rect x="969.5" y="216.70" width="8.5" height="7.88" fill="#eff400"/>
<rect x="969.5" y="209.12" width="8.5" height="7.88" fill="#ffec00"/>
<rect x="969.5" y="201.55" width="8.5" height="7.88" fill="#ffd900"/>
<rect x="969.5" y="193.97" width="8.5" height="7.88" fill="#ffc800"/>
<rect x="969.5" y="186.40" width="8.5" height="7.88" fill="#ffb800"/>
<rect x="969.5" y="178.82" width="8.5" height="7.88" fill="#ffa800"/>
<rect x="969.5" y="171.25" width="8.5" height="7.88" fill="#ff9800"/>
<rect x="969.5" y="163.67" width="8.5" height="7.88" fill="#ff8800"/>
<rect x="969.5" y="156.10" width="8.5" height="7.88" fill="#ff7800"/>
<rect x="969.5" y="148.52" width="8.5" height="7.88" fill="#ff6800"/>
<rect x="969.5" y="140.95" width="8.5" height="7.88" fill="#ff5800"/>
<rect x="969.5" y="133.37" width="8.5" height="7.88" fill="#ff4400"/>
<rect x="969.5" y="125.80" width="8.5" height="7.88" fill="#ff2c00"/>
<rect x="969.5" y="118.22" width="8.5" height="7.88" fill="#ff1600"/>
<rect x="969.5" y="110.65" width="8.5" height="7.88" fill="#ff0200"/>
<rect x="969.5" y="103.07" width="8.5" height="7.88" fill="#ff0040"/>
<rect x="969.5" y="95.50" width="8.5" height="7.88" fill="#ff0080"/>
<rect x="969.5" y="87.92" width="8.5" height="7.88" fill="#ff00c8"/>
<rect x="969.5" y="80.35" width="8.5" height="7.88" fill="#f500eb"/>
<rect x="969.5" y="72.77" width="8.5" height="7.88" fill="#ff82f5"/>
<rect x="969.5" y="65.20" width="8.5" height="7.88" fill="#ff99f8"/>
<rect x="969.5" y="65.2" width="8.5" height="303.0" fill="none" stroke="#333" stroke-width="0.8"/>
<text x="972.8" y="61.5" font-size="17.5" text-anchor="start" font-weight="normal" font-style="normal">102</text>
<text x="981.0" y="97.5" font-size="17.5" text-anchor="start" font-weight="normal" font-style="normal">90</text>
<text x="981.0" y="159.3" font-size="17.5" text-anchor="start" font-weight="normal" font-style="normal">80</text>
<text x="981.0" y="227.0" font-size="17.5" text-anchor="start" font-weight="normal" font-style="normal">70</text>
<text x="981.0" y="295.0" font-size="17.5" text-anchor="start" font-weight="normal" font-style="normal">60</text>
<text x="981.0" y="347.1" font-size="17.5" text-anchor="start" font-weight="normal" font-style="normal">50</text>
<text x="979.0" y="382.7" font-size="17.5" text-anchor="start" font-weight="normal" font-style="normal">20</text>
<text x="968.8" y="397.7" font-size="16" text-anchor="start" font-weight="bold" font-style="normal">m</text>
<rect x="179.5" y="445.6" width="10" height="2.4" fill="#fff"/>
<rect x="179.5" y="448.0" width="10" height="2.4" fill="#000"/>
<rect x="189.5" y="445.6" width="10" height="2.4" fill="#000"/>
<rect x="189.5" y="448.0" width="10" height="2.4" fill="#fff"/>
<rect x="199.5" y="445.6" width="10" height="2.4" fill="#fff"/>
<rect x="199.5" y="448.0" width="10" height="2.4" fill="#000"/>
<rect x="209.5" y="445.6" width="10" height="2.4" fill="#000"/>
<rect x="209.5" y="448.0" width="10" height="2.4" fill="#fff"/>
<rect x="219.5" y="445.6" width="10" height="2.4" fill="#fff"/>
<rect x="219.5" y="448.0" width="10" height="2.4" fill="#000"/>
<rect x="229.5" y="445.6" width="50" height="2.4" fill="#000"/>
<rect x="179.5" y="445.6" width="100" height="4.8" fill="none" stroke="#999" stroke-width="0.5"/>
<text x="179.5" y="443.8" font-size="15.7" text-anchor="middle" font-weight="normal" font-style="normal">500</text>
<text x="229.7" y="443.8" font-size="15.7" text-anchor="middle" font-weight="normal" font-style="normal">0</text>
<text x="279.5" y="443.8" font-size="15.7" text-anchor="middle" font-weight="normal" font-style="normal">500</text>
<text x="229.8" y="466" font-size="15.6" text-anchor="middle" font-weight="normal" font-style="normal">(meters)</text>
<text x="230.3" y="482.4" font-size="15.8" text-anchor="middle" font-weight="normal" font-style="italic">WGS 84 / UTM zone 53S</text>
<g transform="translate(412.8 0) scale(0.93 1) translate(-412.8 0)"><text x="412.8" y="491.8" font-size="16.2" text-anchor="middle" font-weight="bold" font-style="normal">SI 1</text></g>
<rect x="681.3" y="445.0" width="10" height="2.4" fill="#fff"/>
<rect x="681.3" y="447.4" width="10" height="2.4" fill="#000"/>
<rect x="691.3" y="445.0" width="10" height="2.4" fill="#000"/>
<rect x="691.3" y="447.4" width="10" height="2.4" fill="#fff"/>
<rect x="701.3" y="445.0" width="10" height="2.4" fill="#fff"/>
<rect x="701.3" y="447.4" width="10" height="2.4" fill="#000"/>
<rect x="711.3" y="445.0" width="10" height="2.4" fill="#000"/>
<rect x="711.3" y="447.4" width="10" height="2.4" fill="#fff"/>
<rect x="721.3" y="445.0" width="10" height="2.4" fill="#fff"/>
<rect x="721.3" y="447.4" width="10" height="2.4" fill="#000"/>
<rect x="731.3" y="445.0" width="50" height="2.4" fill="#000"/>
<rect x="681.3" y="445.0" width="100" height="4.8" fill="none" stroke="#999" stroke-width="0.5"/>
<text x="681.0" y="444.0" font-size="15.7" text-anchor="middle" font-weight="normal" font-style="normal">500</text>
<text x="731.6" y="444.0" font-size="15.7" text-anchor="middle" font-weight="normal" font-style="normal">0</text>
<text x="781.0" y="444.0" font-size="15.7" text-anchor="middle" font-weight="normal" font-style="normal">500</text>
<text x="731.3" y="465.5" font-size="15.6" text-anchor="middle" font-weight="normal" font-style="normal">(meters)</text>
<text x="731.6" y="480.6" font-size="15.8" text-anchor="middle" font-weight="normal" font-style="italic">WGS 84 / UTM zone 53S</text>
<g transform="translate(924.3 0) scale(0.81 1) translate(-924.3 0)"><text x="924.3" y="490.1" font-size="16.6" text-anchor="middle" font-weight="bold" font-style="normal">SI 2</text></g>
<line x1="457.2" y1="414.1" x2="457.2" y2="482.6" stroke="#000" stroke-width="1.3"/>
<path d="M456.8 414.1 L460.8 425.6 L457.2 424.1 Z" fill="#000"/>
<path d="M457.2 469.6 L454.7 473.6 L454.7 482.6 L457.2 482.6 Z" fill="#000"/>
<line x1="440.2" y1="446.6" x2="449.7" y2="446.6" stroke="#000" stroke-width="1.3"/>
<line x1="464.7" y1="446.6" x2="474.2" y2="446.6" stroke="#000" stroke-width="1.3"/>
<path d="M453.9 451.1 L453.9 442.1 L460.5 451.6 L460.5 442.6" fill="none" stroke="#000" stroke-width="1.6"/>
<line x1="973.8" y1="415.07500000000005" x2="973.8" y2="481.52000000000004" stroke="#000" stroke-width="1.3"/>
<path d="M973.4 415.07500000000005 L977.2919999999999 426.23 L973.8 424.77500000000003 Z" fill="#000"/>
<path d="M973.8 468.91 L971.375 472.79 L971.375 481.52000000000004 L973.8 481.52000000000004 Z" fill="#000"/>
<line x1="957.31" y1="446.6" x2="966.525" y2="446.6" stroke="#000" stroke-width="1.3"/>
<line x1="981.0749999999999" y1="446.6" x2="990.29" y2="446.6" stroke="#000" stroke-width="1.3"/>
<path d="M970.5989999999999 450.96500000000003 L970.5989999999999 442.235 L977.001 451.45000000000005 L977.001 442.72" fill="none" stroke="#000" stroke-width="1.6"/>
</svg></body></html>
